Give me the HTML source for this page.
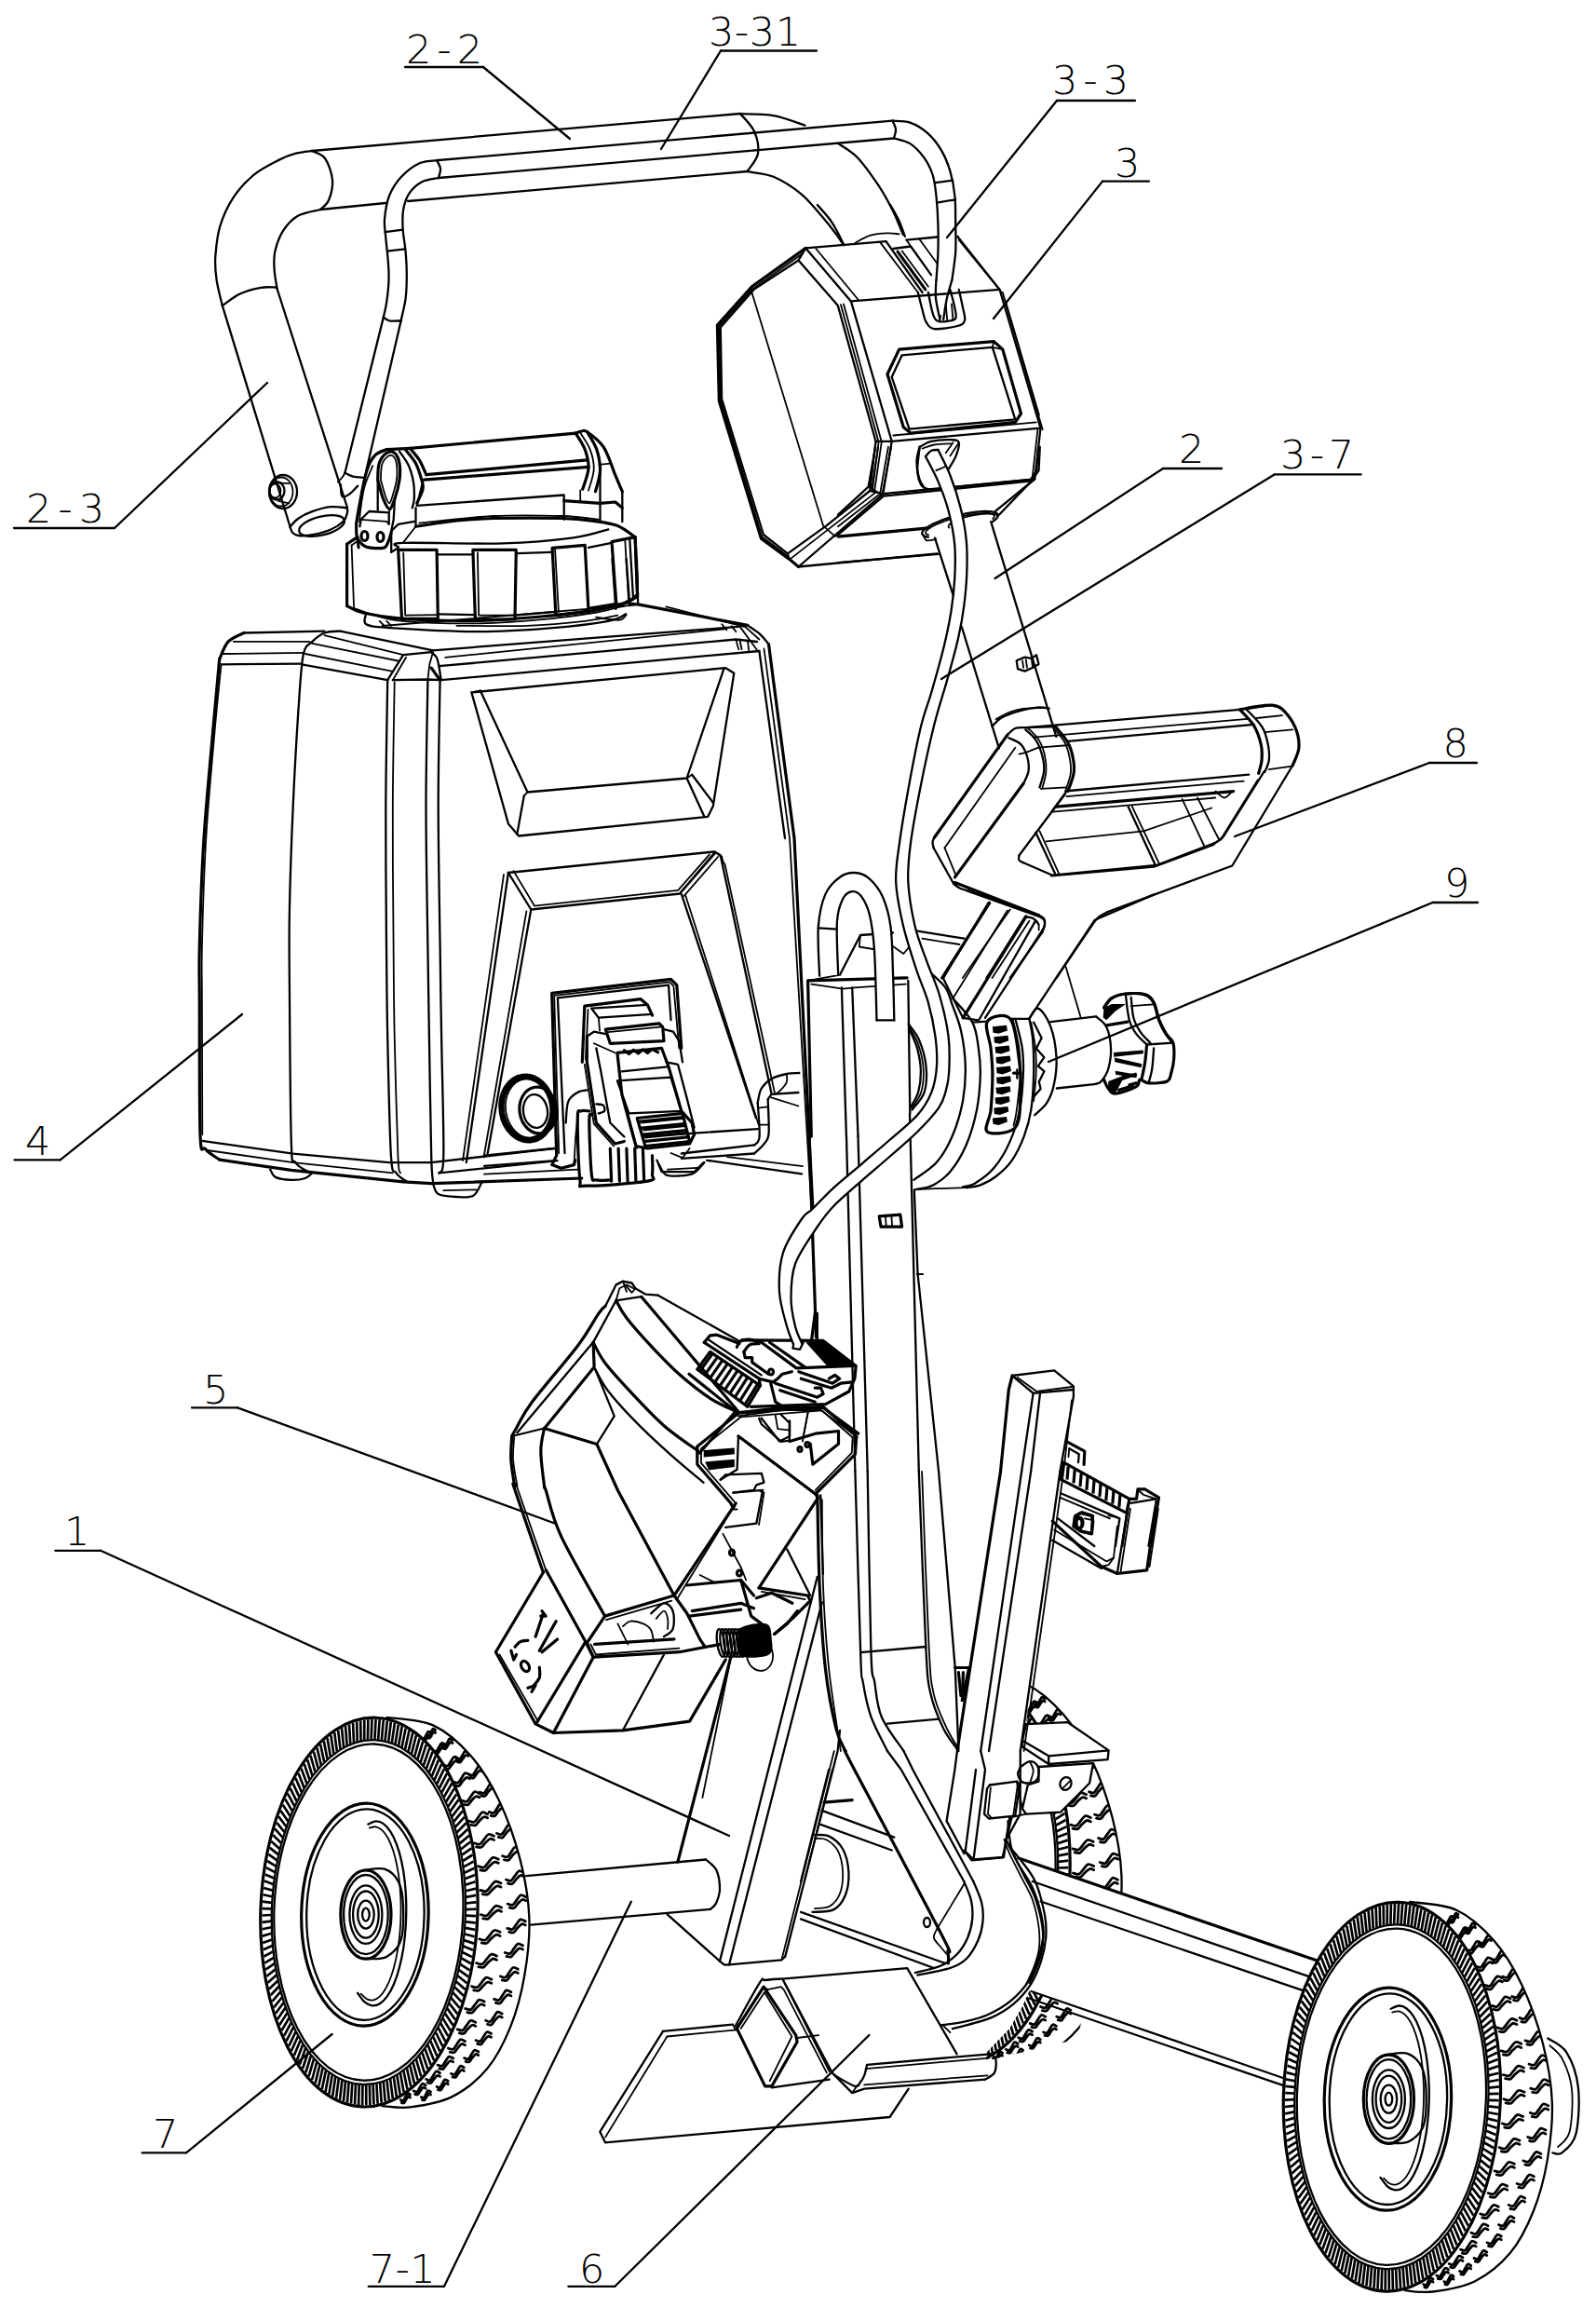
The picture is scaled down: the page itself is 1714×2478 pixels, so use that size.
<!DOCTYPE html>
<html><head><meta charset="utf-8"><title>Figure</title>
<style>
html,body{margin:0;padding:0;background:#fff;}
svg{display:block;}
.l{fill:none;stroke:#000;stroke-width:2.3;stroke-linecap:round;stroke-linejoin:round;}
.t{fill:none;stroke:#000;stroke-width:1.8;stroke-linecap:round;stroke-linejoin:round;}
.h{fill:none;stroke:#000;stroke-width:3.2;stroke-linecap:round;stroke-linejoin:round;}
.w{fill:#fff;stroke:#000;stroke-width:2;stroke-linejoin:round;}
.k{fill:#000;stroke:none;}
.r{fill:none;stroke:#000;stroke-width:2.7}
.tr{fill:none;stroke:#000;stroke-width:2.8;stroke-linecap:round}
.b{fill:none;stroke:#000;stroke-width:3.2}
text{font-family:"DejaVu Sans Light","DejaVu Sans","Liberation Sans",sans-serif;font-weight:200;font-size:43px;fill:#000;letter-spacing:6px;}
</style></head><body>
<svg width="1714" height="2478" viewBox="0 0 1714 2478">
<rect width="1714" height="2478" fill="#fff"/>
<!-- a_rearwheel.svg -->
<g id="a_rearwheel">
<clipPath id="rw"><path d="M1110.6 1780 L1214.9 1780 L1214.9 1889.2 L1190.6 1879.4 L1146.7 1849.2 L1101.9 1851.2Z M1190.6 1889.2 L1214.9 1889.2 L1214.9 2037.3 L1202.3 2031.5 L1144.8 2012 L1126.2 2005.1 L1117.5 1947.6 L1138.9 1945.7 L1170.1 1914.5 L1174 1893.1 L1187.6 1889.2Z M1105.8 2136.7 L1164.2 2160.1 L1156.5 2189.4 L1059 2212.7 L1060 2203 L1084.3 2177.7 L1098 2154.3Z"/></clipPath><g clip-path="url(#rw)">
<path d="M1051.6 1799.2 C1060.7 1731.1 1086.6 1801.1 1101.7 1808 C1116.7 1814.9 1130.1 1827.2 1141.8 1840.6 C1153.5 1853.9 1163.1 1869.8 1171.9 1888.2 C1180.6 1906.6 1189 1930 1194.4 1950.8 C1199.8 1971.7 1203.6 1992.6 1204.4 2013.5 C1205.3 2034.4 1202.8 2056.5 1199.4 2076.2 C1196.1 2095.8 1191.1 2114.6 1184.4 2131.3 C1177.7 2148 1169.8 2163.9 1159.3 2176.4 C1148.9 2188.9 1135.5 2199.6 1121.7 2206.5 C1107.9 2213.4 1089.2 2216.1 1076.6 2217.8 C1064.1 2219.4 1050.7 2286.3 1046.5 2216.5 C1042.4 2146.8 1042.4 1867.3 1051.6 1799.2Z" fill="#fff" stroke="none"/>
<path class="l" d="M1051.6 1799.2 C1059.9 1800.7 1086.6 1801.1 1101.7 1808 C1116.7 1814.9 1130.1 1827.2 1141.8 1840.6 C1153.5 1853.9 1163.1 1869.8 1171.9 1888.2 C1180.6 1906.6 1189 1930 1194.4 1950.8 C1199.8 1971.7 1203.6 1992.6 1204.4 2013.5 C1205.3 2034.4 1202.8 2056.5 1199.4 2076.2 C1196.1 2095.8 1191.1 2114.6 1184.4 2131.3 C1177.7 2148 1169.8 2163.9 1159.3 2176.4 C1148.9 2188.9 1135.5 2199.6 1121.7 2206.5 C1107.9 2213.4 1089.2 2216.1 1076.6 2217.8 C1064.1 2219.4 1051.6 2216.7 1046.5 2216.5"/>
<clipPath id="tcB"><path d="M1051.6 1799.2 C1060.7 1731.1 1086.6 1801.1 1101.7 1808 C1116.7 1814.9 1130.1 1827.2 1141.8 1840.6 C1153.5 1853.9 1163.1 1869.8 1171.9 1888.2 C1180.6 1906.6 1189 1930 1194.4 1950.8 C1199.8 1971.7 1203.6 1992.6 1204.4 2013.5 C1205.3 2034.4 1202.8 2056.5 1199.4 2076.2 C1196.1 2095.8 1191.1 2114.6 1184.4 2131.3 C1177.7 2148 1169.8 2163.9 1159.3 2176.4 C1148.9 2188.9 1135.5 2199.6 1121.7 2206.5 C1107.9 2213.4 1089.2 2216.1 1076.6 2217.8 C1064.1 2219.4 1050.7 2286.3 1046.5 2216.5 C1042.4 2146.8 1042.4 1867.3 1051.6 1799.2Z"/></clipPath>
<path class="tr" clip-path="url(#tcB)" d="M1087.6 1822.1 C1088.1 1822.3 1089.9 1823.6 1090.9 1823 C1091.8 1822.5 1092.6 1820.3 1093.4 1818.9 C1094.3 1817.5 1095 1815.2 1096 1814.7 C1097 1814.3 1098.8 1816 1099.3 1816.2M1088.8 1825.4 C1089.2 1825.5 1090.8 1826.2 1091.7 1825.7 C1092.6 1825.2 1093.2 1823.3 1094 1822.1 C1094.9 1821 1096.1 1819 1097 1818.6 C1097.8 1818.1 1098.9 1819.3 1099.3 1819.5M1100.5 1834.9 C1101.2 1835.1 1103.2 1836.5 1104.4 1835.9 C1105.6 1835.3 1106.4 1832.8 1107.5 1831.3 C1108.5 1829.8 1109.4 1827.3 1110.5 1826.8 C1111.7 1826.3 1113.8 1828.1 1114.4 1828.4M1101.9 1838.5 C1102.5 1838.5 1104.3 1839.4 1105.4 1838.8 C1106.4 1838.2 1107.1 1836.2 1108.2 1834.9 C1109.2 1833.6 1110.6 1831.5 1111.6 1831 C1112.7 1830.5 1114 1831.8 1114.4 1832M1112.3 1850.4 C1113.1 1850.6 1115.5 1852.1 1116.8 1851.4 C1118.1 1850.8 1119.1 1848.2 1120.3 1846.6 C1121.4 1844.9 1122.4 1842.2 1123.8 1841.7 C1125.1 1841.2 1127.4 1843.1 1128.2 1843.4M1113.9 1854.2 C1114.6 1854.3 1116.7 1855.2 1117.9 1854.6 C1119.1 1853.9 1119.9 1851.8 1121.1 1850.4 C1122.2 1849 1123.8 1846.7 1125 1846.2 C1126.2 1845.7 1127.7 1847.1 1128.2 1847.3M1122.9 1868.4 C1123.7 1868.6 1126.4 1870.2 1127.8 1869.5 C1129.3 1868.9 1130.4 1866.1 1131.7 1864.4 C1133 1862.6 1134.1 1859.8 1135.5 1859.2 C1137 1858.6 1139.6 1860.7 1140.4 1861M1124.7 1872.5 C1125.4 1872.5 1127.7 1873.5 1129 1872.8 C1130.4 1872.2 1131.2 1869.9 1132.5 1868.4 C1133.9 1866.9 1135.6 1864.5 1136.9 1864 C1138.2 1863.4 1139.8 1864.9 1140.4 1865.1M1132.1 1888.6 C1133 1888.8 1135.8 1890.4 1137.4 1889.7 C1138.9 1889 1140.1 1886.2 1141.5 1884.4 C1142.9 1882.7 1144.1 1879.8 1145.7 1879.2 C1147.3 1878.6 1150.1 1880.8 1151 1881.1M1134 1892.7 C1134.8 1892.8 1137.3 1893.8 1138.7 1893.1 C1140.1 1892.4 1141.1 1890.1 1142.5 1888.6 C1143.9 1887.1 1145.8 1884.6 1147.2 1884.1 C1148.6 1883.5 1150.4 1885 1151 1885.2M1139.7 1910.6 C1140.6 1910.8 1143.6 1912.4 1145.3 1911.7 C1147 1911 1148.2 1908.2 1149.7 1906.5 C1151.2 1904.7 1152.4 1901.8 1154.1 1901.2 C1155.8 1900.7 1158.8 1902.8 1159.7 1903.1M1141.7 1914.7 C1142.5 1914.8 1145.2 1915.8 1146.7 1915.1 C1148.2 1914.4 1149.2 1912.1 1150.7 1910.6 C1152.2 1909.1 1154.2 1906.7 1155.7 1906.1 C1157.2 1905.5 1159.1 1907 1159.7 1907.2M1145.6 1934.2 C1146.6 1934.4 1149.7 1936.1 1151.5 1935.4 C1153.2 1934.7 1154.5 1931.9 1156.1 1930.1 C1157.6 1928.4 1158.9 1925.4 1160.7 1924.9 C1162.4 1924.3 1165.6 1926.4 1166.6 1926.7M1147.7 1938.4 C1148.6 1938.4 1151.4 1939.4 1152.9 1938.7 C1154.5 1938.1 1155.5 1935.7 1157.1 1934.2 C1158.7 1932.7 1160.8 1930.3 1162.4 1929.7 C1163.9 1929.2 1165.9 1930.7 1166.6 1930.9M1149.7 1959.1 C1150.7 1959.3 1154 1960.9 1155.8 1960.3 C1157.6 1959.6 1159 1956.8 1160.5 1955 C1162.1 1953.3 1163.5 1950.3 1165.3 1949.8 C1167.1 1949.2 1170.4 1951.3 1171.4 1951.6M1151.9 1963.3 C1152.8 1963.3 1155.7 1964.3 1157.3 1963.6 C1158.9 1962.9 1160 1960.6 1161.6 1959.1 C1163.3 1957.6 1165.4 1955.2 1167 1954.6 C1168.7 1954.1 1170.7 1955.6 1171.4 1955.8M1152 1984.9 C1153.1 1985 1156.4 1986.7 1158.2 1986 C1160.1 1985.3 1161.5 1982.5 1163.1 1980.7 C1164.7 1979 1166.1 1976 1167.9 1975.5 C1169.8 1974.9 1173.1 1977 1174.1 1977.4M1154.2 1989 C1155.2 1989 1158.1 1990 1159.8 1989.4 C1161.4 1988.7 1162.5 1986.4 1164.2 1984.9 C1165.8 1983.4 1168 1980.9 1169.7 1980.4 C1171.3 1979.8 1173.4 1981.3 1174.1 1981.5M1152.5 2011 C1153.5 2011.2 1156.9 2012.8 1158.7 2012.2 C1160.6 2011.5 1162 2008.7 1163.6 2006.9 C1165.2 2005.2 1166.6 2002.2 1168.5 2001.7 C1170.3 2001.1 1173.7 2003.2 1174.7 2003.5M1154.7 2015.2 C1155.6 2015.2 1158.6 2016.2 1160.3 2015.5 C1161.9 2014.8 1163 2012.5 1164.7 2011 C1166.4 2009.5 1168.6 2007.1 1170.3 2006.5 C1171.9 2006 1174 2007.5 1174.7 2007.7M1151 2037.2 C1152.1 2037.4 1155.4 2039 1157.2 2038.4 C1159.1 2037.7 1160.5 2034.9 1162.1 2033.1 C1163.8 2031.4 1165.2 2028.4 1167 2027.9 C1168.9 2027.3 1172.2 2029.4 1173.2 2029.7M1153.3 2041.4 C1154.2 2041.4 1157.1 2042.4 1158.8 2041.7 C1160.5 2041 1161.6 2038.7 1163.2 2037.2 C1164.9 2035.7 1167.1 2033.3 1168.8 2032.7 C1170.4 2032.2 1172.5 2033.7 1173.2 2033.9M1147.7 2063 C1148.8 2063.2 1152 2064.9 1153.9 2064.2 C1155.7 2063.5 1157.1 2060.7 1158.7 2058.9 C1160.3 2057.2 1161.7 2054.2 1163.5 2053.7 C1165.3 2053.1 1168.6 2055.2 1169.6 2055.5M1149.9 2067.2 C1150.8 2067.2 1153.8 2068.2 1155.4 2067.5 C1157 2066.9 1158.1 2064.5 1159.8 2063 C1161.4 2061.5 1163.6 2059.1 1165.2 2058.5 C1166.9 2058 1168.9 2059.5 1169.6 2059.7M1142.7 2088.1 C1143.7 2088.3 1146.8 2089.9 1148.6 2089.2 C1150.4 2088.5 1151.7 2085.7 1153.3 2083.9 C1154.9 2082.2 1156.2 2079.3 1158 2078.7 C1159.8 2078.1 1163 2080.3 1164 2080.6M1144.8 2092.2 C1145.7 2092.3 1148.5 2093.3 1150.1 2092.6 C1151.7 2091.9 1152.8 2089.6 1154.4 2088.1 C1156 2086.6 1158.1 2084.1 1159.7 2083.6 C1161.3 2083 1163.3 2084.5 1164 2084.7M1135.8 2111.9 C1136.8 2112.1 1139.9 2113.7 1141.6 2113 C1143.3 2112.3 1144.6 2109.5 1146.1 2107.8 C1147.6 2106 1148.9 2103.1 1150.6 2102.5 C1152.3 2102 1155.4 2104.1 1156.3 2104.4M1137.9 2116 C1138.7 2116.1 1141.5 2117.1 1143 2116.4 C1144.6 2115.7 1145.6 2113.4 1147.1 2111.9 C1148.7 2110.4 1150.7 2108 1152.2 2107.4 C1153.8 2106.8 1155.7 2108.3 1156.3 2108.5M1127.4 2134.2 C1128.3 2134.4 1131.2 2136 1132.9 2135.3 C1134.5 2134.6 1135.7 2131.8 1137.1 2130 C1138.6 2128.3 1139.8 2125.4 1141.4 2124.8 C1143 2124.2 1146 2126.4 1146.9 2126.7M1129.4 2138.3 C1130.2 2138.4 1132.8 2139.4 1134.2 2138.7 C1135.7 2138 1136.6 2135.7 1138.1 2134.2 C1139.6 2132.7 1141.5 2130.2 1143 2129.7 C1144.4 2129.1 1146.2 2130.6 1146.9 2130.8M1117.5 2154.5 C1118.3 2154.7 1121.1 2156.3 1122.6 2155.7 C1124.1 2155 1125.2 2152.2 1126.6 2150.4 C1127.9 2148.7 1129 2145.7 1130.6 2145.2 C1132.1 2144.6 1134.8 2146.7 1135.6 2147M1119.3 2158.7 C1120.1 2158.7 1122.5 2159.7 1123.8 2159 C1125.2 2158.3 1126.1 2156 1127.5 2154.5 C1128.8 2153 1130.7 2150.6 1132 2150 C1133.4 2149.5 1135 2151 1135.6 2151.2M1106.2 2172.5 C1107 2172.6 1109.5 2174.2 1110.9 2173.5 C1112.3 2172.9 1113.3 2170.2 1114.5 2168.5 C1115.8 2166.9 1116.8 2164.1 1118.2 2163.5 C1119.6 2163 1122.1 2165 1122.8 2165.3M1107.9 2176.4 C1108.6 2176.5 1110.8 2177.4 1112 2176.8 C1113.3 2176.1 1114.1 2173.9 1115.4 2172.5 C1116.6 2171 1118.3 2168.7 1119.5 2168.2 C1120.8 2167.6 1122.3 2169.1 1122.8 2169.2M1093.8 2187.8 C1094.5 2188 1096.7 2189.4 1098 2188.8 C1099.2 2188.2 1100.1 2185.7 1101.2 2184.1 C1102.3 2182.6 1103.2 2179.9 1104.5 2179.4 C1105.7 2178.9 1107.9 2180.8 1108.6 2181.1M1095.3 2191.5 C1095.9 2191.6 1097.9 2192.5 1099 2191.8 C1100.1 2191.2 1100.9 2189.2 1102 2187.8 C1103.1 2186.5 1104.6 2184.3 1105.7 2183.8 C1106.8 2183.3 1108.1 2184.6 1108.6 2184.8M1080.4 2200.4 C1081 2200.5 1082.9 2201.9 1084 2201.3 C1085.1 2200.7 1085.9 2198.4 1086.8 2197 C1087.7 2195.5 1088.5 2193.1 1089.6 2192.6 C1090.7 2192.2 1092.6 2193.9 1093.2 2194.2M1081.7 2203.8 C1082.2 2203.8 1083.9 2204.6 1084.9 2204.1 C1085.8 2203.5 1086.5 2201.6 1087.4 2200.4 C1088.4 2199.1 1089.7 2197.1 1090.6 2196.7 C1091.6 2196.2 1092.7 2197.4 1093.2 2197.6M1066.3 2209.9 C1066.7 2210 1068.3 2211.3 1069.2 2210.7 C1070 2210.2 1070.7 2208.1 1071.4 2206.8 C1072.2 2205.5 1072.9 2203.3 1073.7 2202.9 C1074.6 2202.5 1076.1 2204.1 1076.6 2204.3M1067.3 2213 C1067.7 2213 1069.1 2213.8 1069.9 2213.3 C1070.7 2212.7 1071.2 2211 1072 2209.9 C1072.7 2208.8 1073.8 2207 1074.5 2206.5 C1075.3 2206.1 1076.3 2207.2 1076.6 2207.4M1094.4 1818.2 C1094.9 1818.4 1096.2 1819.5 1097 1819 C1097.8 1818.6 1098.3 1816.6 1099 1815.3 C1099.7 1814.1 1100.3 1812 1101 1811.6 C1101.8 1811.2 1103.2 1812.7 1103.6 1812.9M1095.3 1821.2 C1095.7 1821.2 1097 1821.9 1097.6 1821.4 C1098.3 1820.9 1098.8 1819.3 1099.5 1818.2 C1100.2 1817.2 1101.1 1815.5 1101.8 1815.1 C1102.5 1814.7 1103.3 1815.7 1103.6 1815.9M1110.9 1829.5 C1111.4 1829.6 1113.1 1830.9 1114 1830.4 C1115 1829.8 1115.7 1827.7 1116.5 1826.3 C1117.3 1824.9 1118.1 1822.7 1119 1822.2 C1119.9 1821.8 1121.6 1823.4 1122.1 1823.7M1112 1832.7 C1112.5 1832.7 1114 1833.5 1114.8 1833 C1115.7 1832.5 1116.2 1830.7 1117.1 1829.5 C1117.9 1828.3 1119.1 1826.4 1119.9 1826 C1120.7 1825.6 1121.8 1826.7 1122.1 1826.9M1126 1843.6 C1126.6 1843.8 1128.5 1845.1 1129.6 1844.6 C1130.7 1844 1131.5 1841.6 1132.5 1840.2 C1133.5 1838.7 1134.3 1836.3 1135.4 1835.8 C1136.5 1835.3 1138.4 1837.1 1139 1837.4M1127.3 1847.1 C1127.8 1847.1 1129.6 1847.9 1130.5 1847.4 C1131.5 1846.8 1132.2 1844.9 1133.1 1843.6 C1134.1 1842.4 1135.4 1840.3 1136.4 1839.9 C1137.4 1839.4 1138.6 1840.6 1139 1840.8M1139.5 1860.4 C1140.2 1860.5 1142.4 1862 1143.6 1861.4 C1144.8 1860.8 1145.8 1858.3 1146.8 1856.7 C1147.9 1855.2 1148.8 1852.6 1150 1852.1 C1151.3 1851.6 1153.5 1853.5 1154.1 1853.7M1141 1864 C1141.6 1864.1 1143.5 1865 1144.6 1864.4 C1145.7 1863.8 1146.5 1861.7 1147.6 1860.4 C1148.7 1859.1 1150.1 1856.9 1151.2 1856.4 C1152.3 1855.9 1153.7 1857.2 1154.1 1857.4M1151.4 1879.5 C1152.1 1879.7 1154.5 1881.2 1155.9 1880.6 C1157.2 1879.9 1158.2 1877.3 1159.4 1875.7 C1160.5 1874.1 1161.6 1871.3 1162.9 1870.8 C1164.2 1870.3 1166.6 1872.3 1167.3 1872.6M1153 1883.4 C1153.7 1883.4 1155.8 1884.4 1157 1883.7 C1158.2 1883.1 1159 1880.9 1160.2 1879.5 C1161.4 1878.1 1163 1875.9 1164.2 1875.3 C1165.4 1874.8 1166.8 1876.2 1167.3 1876.4M1161.4 1900.8 C1162.2 1901 1164.8 1902.5 1166.2 1901.9 C1167.7 1901.2 1168.7 1898.5 1170 1896.8 C1171.2 1895.1 1172.3 1892.2 1173.7 1891.7 C1175.2 1891.2 1177.7 1893.2 1178.5 1893.5M1163.2 1904.8 C1163.9 1904.9 1166.1 1905.8 1167.4 1905.2 C1168.7 1904.5 1169.6 1902.2 1170.8 1900.8 C1172.1 1899.3 1173.8 1897 1175.1 1896.4 C1176.4 1895.9 1178 1897.3 1178.5 1897.5M1169.6 1923.8 C1170.4 1924 1173.1 1925.6 1174.6 1924.9 C1176.1 1924.2 1177.2 1921.4 1178.6 1919.7 C1179.9 1917.9 1181 1915 1182.5 1914.4 C1184 1913.9 1186.7 1916 1187.5 1916.3M1171.4 1927.9 C1172.1 1928 1174.5 1929 1175.9 1928.3 C1177.2 1927.6 1178.1 1925.3 1179.5 1923.8 C1180.8 1922.3 1182.6 1919.9 1183.9 1919.3 C1185.3 1918.7 1186.9 1920.2 1187.5 1920.4M1175.6 1948.1 C1176.5 1948.3 1179.3 1949.9 1180.9 1949.2 C1182.4 1948.6 1183.6 1945.7 1185 1944 C1186.3 1942.2 1187.5 1939.3 1189.1 1938.7 C1190.6 1938.2 1193.4 1940.3 1194.3 1940.6M1177.5 1952.2 C1178.3 1952.3 1180.8 1953.3 1182.2 1952.6 C1183.6 1951.9 1184.5 1949.6 1185.9 1948.1 C1187.3 1946.6 1189.2 1944.2 1190.6 1943.6 C1192 1943.1 1193.7 1944.6 1194.3 1944.7M1179.6 1973.5 C1180.5 1973.7 1183.3 1975.3 1184.9 1974.6 C1186.5 1973.9 1187.7 1971.1 1189.1 1969.3 C1190.6 1967.6 1191.8 1964.7 1193.4 1964.1 C1195 1963.5 1197.8 1965.7 1198.7 1966M1181.5 1977.6 C1182.3 1977.7 1184.8 1978.7 1186.3 1978 C1187.7 1977.3 1188.7 1975 1190.1 1973.5 C1191.5 1972 1193.5 1969.5 1194.9 1969 C1196.3 1968.4 1198.1 1969.9 1198.7 1970.1M1181.3 1999.5 C1182.2 1999.7 1185.2 2001.3 1186.8 2000.6 C1188.4 1999.9 1189.6 1997.1 1191 1995.4 C1192.5 1993.6 1193.7 1990.7 1195.3 1990.1 C1196.9 1989.5 1199.8 1991.7 1200.8 1992M1183.3 2003.6 C1184.1 2003.7 1186.7 2004.7 1188.1 2004 C1189.6 2003.3 1190.6 2001 1192 1999.5 C1193.5 1998 1195.4 1995.5 1196.9 1995 C1198.3 1994.4 1200.1 1995.9 1200.8 1996.1M1180.9 2025.7 C1181.8 2025.9 1184.7 2027.5 1186.4 2026.8 C1188 2026.2 1189.2 2023.3 1190.6 2021.6 C1192.1 2019.8 1193.3 2016.9 1194.9 2016.3 C1196.5 2015.8 1199.5 2017.9 1200.4 2018.2M1182.9 2029.8 C1183.7 2029.9 1186.3 2030.9 1187.7 2030.2 C1189.2 2029.5 1190.2 2027.2 1191.6 2025.7 C1193.1 2024.2 1195 2021.8 1196.5 2021.2 C1197.9 2020.7 1199.7 2022.2 1200.4 2022.3M1178.3 2051.8 C1179.2 2052 1182.1 2053.6 1183.7 2052.9 C1185.3 2052.2 1186.5 2049.4 1187.9 2047.6 C1189.4 2045.9 1190.6 2043 1192.2 2042.4 C1193.8 2041.8 1196.7 2044 1197.6 2044.3M1180.2 2055.9 C1181 2056 1183.6 2057 1185 2056.3 C1186.5 2055.6 1187.5 2053.3 1188.9 2051.8 C1190.4 2050.3 1192.3 2047.8 1193.7 2047.3 C1195.2 2046.7 1196.9 2048.2 1197.6 2048.4M1173.5 2077.2 C1174.4 2077.4 1177.2 2079.1 1178.8 2078.4 C1180.4 2077.7 1181.6 2074.9 1183 2073.1 C1184.4 2071.4 1185.6 2068.4 1187.1 2067.9 C1188.7 2067.3 1191.6 2069.4 1192.4 2069.7M1175.4 2081.4 C1176.2 2081.4 1178.7 2082.4 1180.1 2081.7 C1181.6 2081.1 1182.5 2078.7 1183.9 2077.2 C1185.3 2075.7 1187.2 2073.3 1188.7 2072.7 C1190.1 2072.2 1191.8 2073.7 1192.4 2073.9M1166.7 2101.7 C1167.5 2101.9 1170.3 2103.5 1171.8 2102.8 C1173.3 2102.2 1174.5 2099.3 1175.8 2097.6 C1177.2 2095.8 1178.3 2092.9 1179.9 2092.3 C1181.4 2091.8 1184.1 2093.9 1185 2094.2M1168.5 2105.8 C1169.3 2105.9 1171.7 2106.9 1173.1 2106.2 C1174.5 2105.5 1175.4 2103.2 1176.7 2101.7 C1178.1 2100.2 1180 2097.8 1181.3 2097.2 C1182.7 2096.7 1184.4 2098.2 1185 2098.3M1157.8 2124.7 C1158.6 2124.9 1161.3 2126.5 1162.7 2125.9 C1164.2 2125.2 1165.3 2122.4 1166.6 2120.7 C1167.9 2119 1169 2116.1 1170.4 2115.5 C1171.9 2115 1174.5 2117.1 1175.3 2117.4M1159.6 2128.8 C1160.3 2128.9 1162.6 2129.9 1164 2129.2 C1165.3 2128.5 1166.1 2126.2 1167.5 2124.7 C1168.8 2123.3 1170.5 2120.9 1171.8 2120.3 C1173.1 2119.8 1174.8 2121.2 1175.3 2121.4M1147.1 2146 C1147.9 2146.1 1150.4 2147.7 1151.7 2147 C1153.1 2146.4 1154.1 2143.7 1155.4 2142 C1156.6 2140.4 1157.6 2137.6 1159 2137.1 C1160.4 2136.5 1162.8 2138.5 1163.6 2138.8M1148.8 2149.9 C1149.4 2149.9 1151.6 2150.9 1152.9 2150.2 C1154.1 2149.6 1154.9 2147.4 1156.2 2146 C1157.4 2144.5 1159.1 2142.2 1160.3 2141.7 C1161.5 2141.2 1163 2142.6 1163.6 2142.8M1134.7 2165.1 C1135.4 2165.2 1137.7 2166.7 1138.9 2166.1 C1140.2 2165.5 1141.2 2162.9 1142.3 2161.3 C1143.4 2159.7 1144.4 2157.1 1145.6 2156.6 C1146.9 2156 1149.2 2158 1149.9 2158.3M1136.2 2168.8 C1136.8 2168.9 1138.9 2169.8 1140 2169.2 C1141.1 2168.5 1141.9 2166.4 1143 2165.1 C1144.2 2163.7 1145.7 2161.5 1146.9 2161 C1148 2160.5 1149.4 2161.8 1149.9 2162M1120.6 2181.8 C1121.3 2181.9 1123.3 2183.3 1124.5 2182.7 C1125.6 2182.1 1126.5 2179.7 1127.5 2178.2 C1128.5 2176.7 1129.4 2174.2 1130.6 2173.7 C1131.7 2173.2 1133.8 2175.1 1134.4 2175.3M1122 2185.3 C1122.6 2185.4 1124.4 2186.2 1125.5 2185.6 C1126.5 2185 1127.2 2183.1 1128.2 2181.8 C1129.2 2180.5 1130.6 2178.4 1131.7 2177.9 C1132.7 2177.4 1133.9 2178.7 1134.4 2178.9M1105.2 2195.8 C1105.8 2195.9 1107.6 2197.2 1108.6 2196.7 C1109.6 2196.1 1110.3 2193.9 1111.2 2192.5 C1112.1 2191.1 1112.9 2188.7 1113.9 2188.3 C1114.9 2187.8 1116.7 2189.5 1117.3 2189.8M1106.4 2199.1 C1106.9 2199.1 1108.5 2199.9 1109.4 2199.4 C1110.3 2198.8 1110.9 2197 1111.8 2195.8 C1112.7 2194.6 1114 2192.6 1114.9 2192.2 C1115.8 2191.7 1116.9 2192.9 1117.3 2193.1M1088.5 2206.9 C1089 2207 1090.5 2208.2 1091.3 2207.7 C1092.2 2207.2 1092.8 2205.1 1093.6 2203.8 C1094.3 2202.5 1095 2200.4 1095.8 2200 C1096.6 2199.5 1098.2 2201.1 1098.6 2201.3M1089.5 2209.9 C1089.9 2210 1091.3 2210.7 1092 2210.2 C1092.8 2209.7 1093.3 2208 1094.1 2206.9 C1094.8 2205.8 1095.9 2204 1096.6 2203.6 C1097.4 2203.1 1098.3 2204.3 1098.6 2204.4"/>
<ellipse cx="1032.5" cy="2008.5" rx="116.5" ry="209" transform="rotate(2 1032.5 2008.5)" fill="#fff" stroke="none"/>
<ellipse class="h" cx="1032.5" cy="2008.5" rx="116.5" ry="209" transform="rotate(2 1032.5 2008.5)"/>
<ellipse class="l" cx="1032" cy="2008.5" rx="104" ry="185" transform="rotate(2 1032 2008.5)"/>
<ellipse class="l" cx="1032" cy="2008.5" rx="101.5" ry="180.7" transform="rotate(2 1032 2008.5)"/>
<path class="r" d="M1147.2 2012.5L1136.5 2012.1M1146.9 2019.9L1136.2 2018.7M1146.4 2027.3L1135.7 2025.3M1145.8 2034.6L1135.2 2031.9M1145 2042L1134.5 2038.5M1144.1 2049.2L1133.6 2045M1143.1 2056.5L1132.7 2051.4M1141.9 2063.6L1131.6 2057.8M1140.5 2070.7L1130.4 2064.2M1139.1 2077.7L1129.1 2070.5M1137.5 2084.7L1127.6 2076.7M1135.7 2091.5L1126 2082.8M1133.9 2098.2L1124.3 2088.8M1131.9 2104.8L1122.5 2094.7M1129.7 2111.3L1120.6 2100.5M1127.5 2117.7L1118.5 2106.2M1125.1 2123.9L1116.4 2111.8M1122.6 2130L1114.1 2117.2M1120 2135.9L1111.7 2122.5M1117.3 2141.6L1109.3 2127.6M1114.5 2147.2L1106.7 2132.6M1111.5 2152.6L1104 2137.4M1108.5 2157.9L1101.3 2142.1M1105.4 2162.9L1098.4 2146.6M1102.2 2167.7L1095.5 2150.9M1098.9 2172.4L1092.5 2155.1M1095.5 2176.8L1089.4 2159M1092 2181L1086.3 2162.8M1088.4 2185L1083 2166.4M1084.8 2188.8L1079.7 2169.7M1081.1 2192.3L1076.4 2172.9M1077.4 2195.6L1073 2175.9M1073.6 2198.7L1069.5 2178.6M1069.7 2201.5L1066 2181.1M1065.8 2204.1L1062.4 2183.4M1061.9 2206.4L1058.9 2185.5M1057.9 2208.5L1055.2 2187.3M1053.9 2210.3L1051.6 2189M1049.8 2211.8L1047.9 2190.4M1045.8 2213.1L1044.2 2191.5M1041.7 2214.2L1040.5 2192.5M1037.6 2215L1036.7 2193.2M1033.5 2215.5L1033 2193.6M1029.4 2215.7L1029.3 2193.8M1025.3 2215.7L1025.5 2193.8M1021.2 2215.4L1021.8 2193.6M1017.1 2214.9L1018.1 2193.1M1013.1 2214.1L1014.4 2192.4M1009 2213L1010.7 2191.4M1005 2211.7L1007.1 2190.2M1001.1 2210.1L1003.5 2188.8M997.1 2208.3L999.9 2187.2M993.2 2206.2L996.4 2185.3M989.4 2203.8L992.9 2183.2M985.6 2201.3L989.4 2180.9M981.9 2198.4L986.1 2178.3M978.3 2195.3L982.7 2175.6M974.7 2192L979.5 2172.6M971.2 2188.4L976.3 2169.4M967.7 2184.7L973.1 2166M964.4 2180.7L970.1 2162.4M961.1 2176.4L967.1 2158.6M958 2172L964.2 2154.7M954.9 2167.3L961.4 2150.5M951.9 2162.5L958.7 2146.2M949 2157.4L956.1 2141.6M946.3 2152.2L953.6 2137M943.6 2146.8L951.2 2132.1M941.1 2141.2L948.8 2127.1M938.6 2135.4L946.6 2121.9M936.3 2129.5L944.5 2116.6M934.1 2123.4L942.5 2111.2M932.1 2117.2L940.6 2105.6M930.2 2110.8L938.9 2099.9M928.4 2104.3L937.2 2094.1M926.7 2097.7L935.7 2088.2M925.1 2090.9L934.3 2082.2M923.7 2084.1L933 2076M922.5 2077.2L931.9 2069.8M921.4 2070.1L930.9 2063.5M920.4 2063L930 2057.2M919.6 2055.9L929.2 2050.8M918.9 2048.6L928.6 2044.3M918.3 2041.3L928.1 2037.8M917.9 2034L927.7 2031.2M917.7 2026.7L927.5 2024.7M917.6 2019.3L927.4 2018.1M917.6 2011.9L927.4 2011.4M917.8 2004.5L927.6 2004.8M918.1 1997.1L927.9 1998.2M918.6 1989.7L928.3 1991.6M919.2 1982.4L928.9 1985M920 1975L929.5 1978.5M920.9 1967.8L930.4 1972M921.9 1960.5L931.3 1965.5M923.1 1953.4L932.4 1959.1M924.5 1946.3L933.6 1952.8M925.9 1939.3L934.9 1946.5M927.5 1932.3L936.4 1940.3M929.3 1925.5L938 1934.2M931.2 1918.8L939.7 1928.2M933.2 1912.2L941.5 1922.2M935.3 1905.7L943.4 1916.4M937.5 1899.3L945.5 1910.8M939.9 1893.1L947.6 1905.2M942.4 1887L949.9 1899.8M945 1881.1L952.3 1894.5M947.7 1875.3L954.7 1889.3M950.5 1869.8L957.3 1884.3M953.5 1864.4L960 1879.5M956.5 1859.1L962.7 1874.8M959.6 1854.1L965.6 1870.3M962.8 1849.3L968.5 1866M966.2 1844.6L971.5 1861.9M969.6 1840.2L974.6 1857.9M973 1836L977.8 1854.1M976.6 1832L981 1850.6M980.2 1828.2L984.3 1847.2M983.9 1824.7L987.6 1844M987.6 1821.4L991 1841.1M991.4 1818.3L994.5 1838.4M995.3 1815.5L998 1835.8M999.2 1812.9L1001.6 1833.5M1003.1 1810.6L1005.2 1831.5M1007.1 1808.5L1008.8 1829.6M1011.1 1806.7L1012.4 1828M1015.2 1805.2L1016.1 1826.6M1019.3 1803.9L1019.8 1825.4M1023.3 1802.8L1023.6 1824.5M1027.4 1802L1027.3 1823.8M1031.5 1801.5L1031 1823.3M1035.6 1801.3L1034.7 1823.1M1039.7 1801.3L1038.5 1823.1M1043.8 1801.5L1042.2 1823.4M1047.9 1802.1L1045.9 1823.9M1052 1802.9L1049.6 1824.6M1056 1803.9L1053.3 1825.5M1060 1805.3L1056.9 1826.7M1064 1806.9L1060.5 1828.1M1067.9 1808.7L1064.1 1829.8M1071.8 1810.8L1067.6 1831.7M1075.6 1813.1L1071.1 1833.8M1079.4 1815.7L1074.6 1836.1M1083.1 1818.6L1078 1838.6M1086.7 1821.7L1081.3 1841.4M1090.3 1825L1084.5 1844.4M1093.8 1828.5L1087.7 1847.5M1097.3 1832.3L1090.9 1850.9M1100.6 1836.3L1093.9 1854.5M1103.9 1840.6L1096.9 1858.3M1107.1 1845L1099.8 1862.3M1110.1 1849.7L1102.6 1866.4M1113.1 1854.5L1105.3 1870.8M1116 1859.6L1107.9 1875.3M1118.7 1864.8L1110.4 1880M1121.4 1870.2L1112.9 1884.8M1123.9 1875.8L1115.2 1889.9M1126.4 1881.6L1117.4 1895M1128.7 1887.5L1119.5 1900.3M1130.9 1893.6L1121.5 1905.8M1132.9 1899.8L1123.4 1911.3M1134.9 1906.2L1125.1 1917M1136.7 1912.7L1126.8 1922.8M1138.3 1919.3L1128.3 1928.8M1139.9 1926.1L1129.7 1934.8M1141.3 1932.9L1131 1940.9M1142.5 1939.8L1132.1 1947.1M1143.6 1946.9L1133.2 1953.4M1144.6 1954L1134 1959.8M1145.5 1961.1L1134.8 1966.2M1146.1 1968.4L1135.4 1972.6M1146.7 1975.6L1135.9 1979.2M1147.1 1983L1136.3 1985.7M1147.3 1990.3L1136.5 1992.3M1147.5 1997.7L1136.7 1998.9M1147.4 2005.1L1136.6 2005.5"/>
<ellipse class="h" cx="1028" cy="2011" rx="68.2" ry="119.5" transform="rotate(1 1028 2011)"/>
<ellipse class="l" cx="1028.5" cy="2011" rx="63.2" ry="113.3" transform="rotate(1 1028.5 2011)"/>
<path class="l" d="M1031.4 1914 C1032.8 1913.4 1037 1910.9 1039.7 1910.8 C1042.4 1910.7 1045.3 1911.6 1047.9 1913.5 C1050.5 1915.4 1053.1 1918.3 1055.5 1922 C1057.9 1925.7 1060.2 1930.4 1062.1 1935.7 C1064.1 1941 1065.9 1947.3 1067.3 1953.9 C1068.8 1960.5 1070 1967.9 1070.8 1975.4 C1071.6 1983 1072.2 1991.1 1072.3 1999 C1072.5 2007 1072.3 2015.3 1071.8 2023.3 C1071.3 2031.2 1070.5 2039.2 1069.4 2046.7 C1068.2 2054.1 1066.7 2061.4 1065 2067.9 C1063.3 2074.4 1061.3 2080.5 1059.1 2085.6 C1056.9 2090.8 1054.5 2095.3 1051.9 2098.8 C1049.4 2102.3 1046.7 2105 1044 2106.6 C1041.3 2108.3 1038.4 2109 1035.7 2108.7 C1033 2108.3 1030.2 2107 1027.6 2104.8 C1025 2102.5 1021.4 2096.8 1020.1 2095.2"/>
<path class="t" d="M1032.9 1917.9 C1034.1 1917.7 1037.6 1916.3 1039.8 1916.7 C1042.1 1917.2 1044.5 1918.5 1046.6 1920.5 C1048.8 1922.6 1050.9 1925.5 1052.9 1929.1 C1054.8 1932.6 1056.6 1937 1058.2 1941.9 C1059.8 1946.8 1061.3 1952.4 1062.4 1958.4 C1063.6 1964.3 1064.6 1970.9 1065.3 1977.6 C1065.9 1984.3 1066.4 1991.4 1066.6 1998.5 C1066.7 2005.6 1066.6 2012.9 1066.3 2020 C1065.9 2027.1 1065.2 2034.3 1064.4 2041 C1063.5 2047.7 1062.3 2054.3 1061 2060.3 C1059.7 2066.3 1058.1 2071.9 1056.3 2076.9 C1054.6 2081.8 1052.6 2086.3 1050.6 2089.9 C1048.6 2093.6 1046.4 2096.6 1044.1 2098.7 C1041.9 2100.8 1039.6 2102.2 1037.3 2102.7 C1035 2103.2 1032.6 2102.9 1030.3 2101.8 C1028.1 2100.7 1024.8 2097 1023.7 2096"/>
<path class="l" d="M1026.5 1963.4 C1030.3 1963.2 1042.8 1960 1049.1 1962.1 C1055.3 1964.2 1060.7 1969.4 1064.1 1975.9 C1067.4 1982.4 1068.7 1990.5 1069.1 2001 C1069.5 2011.4 1069.5 2029.4 1066.6 2038.6 C1063.7 2047.8 1057.4 2052.8 1051.6 2056.1 C1045.7 2059.5 1034.8 2058.2 1031.5 2058.6"/>
<ellipse class="h" cx="1029" cy="2011" rx="27.1" ry="47.6"/>
<ellipse class="l" cx="1029" cy="2011" rx="23.8" ry="42.6"/>
<ellipse class="l" cx="1029" cy="2011" rx="17.5" ry="31.3"/>
<ellipse class="l" cx="1029" cy="2011" rx="13.8" ry="25.1"/>
<ellipse class="l" cx="1029" cy="2011" rx="8.8" ry="15"/>
<ellipse class="l" cx="1029" cy="2011" rx="3.8" ry="7"/>
</g>
</g>
<!-- b_handle.svg -->
<g id="b_handle">
<path class="l" d="M795 122 L335 162"/>
<path class="l" d="M335 162 C332.1 162.4 323.6 163.1 317.8 164.7 C312 166.2 307.8 167.6 300.3 171.4 C292.7 175.3 281 180.8 272.7 187.7 C264.3 194.6 256.2 203.6 250.1 212.8 C244.1 222 239.5 232.4 236.3 242.9 C233.2 253.3 232 265.8 231.3 275.4 C230.7 285 231.3 291.7 232.6 300.5 C233.8 309.3 237.8 323.5 238.8 328.1"/>
<path class="l" d="M238.8 328.1 L311.5 565.5"/>
<path class="l" d="M335 162 C337.3 163.3 345.3 164.8 349 170 C352.7 175.2 356.3 185.5 357 193 C357.7 200.5 355.2 209.7 353 215 C350.8 220.3 345.5 223.3 344 225"/>
<path class="l" d="M344 225 L414 218"/>
<path class="l" d="M438 216 L802.5 184"/>
<path class="l" d="M344 225 C340.1 226.1 327 227.8 320.3 231.6 C313.6 235.4 308.2 241.4 304 247.9 C299.8 254.3 296.8 263.3 295.2 270.4 C293.7 277.5 294.3 283.8 294.7 290.5 C295.2 297.2 297.2 307.2 297.7 310.5"/>
<path class="l" d="M297.7 310.5 L373 545"/>
<path class="l" d="M238.8 328.1 C242 326 250.8 318.8 257.6 315.5 C264.5 312.3 273.7 309.9 280.2 308.8 C286.7 307.6 293.8 308.6 296.5 308.5"/>
<path class="l" d="M311.5 565.5 C311.9 566.5 312.6 570.1 314 571.7 C315.5 573.3 316.8 574.6 320.3 575 C323.9 575.4 329.5 575.3 335.3 574.2 C341.2 573.1 349.7 571 355.4 568.5 C361 566 366.2 562.2 369.2 559.2 C372.1 556.2 372.3 552.7 372.9 550.4 C373.6 548.1 372.9 546.2 372.9 545.4"/>
<path class="l" d="M311.5 565.5 C313 564 316.3 559.4 320.3 556.7 C324.3 554 329.5 551.3 335.3 549.2 C341.2 547.1 349.1 544.8 355.4 544.2 C361.7 543.5 370 545.2 372.9 545.4"/>
<ellipse class="l" cx="345.5" cy="564.5" rx="25" ry="10" transform="rotate(-14 345.5 564.5)"/>
<ellipse class="l" cx="304" cy="528" rx="15" ry="18"/>
<ellipse class="t" cx="302" cy="528" rx="12.5" ry="15.5"/>
<ellipse class="l" cx="297.5" cy="527" rx="8" ry="9.5"/>
<ellipse class="t" cx="295.5" cy="527" rx="6" ry="7.5"/>
<path class="t" d="M297.7 518.3 L310.3 519.1"/>
<path class="t" d="M299 537.9 L310.3 540.4"/>
<path class="l" d="M471 172 L958.5 129.7"/>
<path class="l" d="M471 191 L960 148.5"/>
<path class="l" d="M469 172 C469.7 173.5 472.7 177.8 473 181 C473.3 184.2 471.3 189.3 471 191"/>
<path class="l" d="M471 172 C467.6 172.5 457.4 172.2 450.6 175.2 C443.9 178.2 436 184.4 430.6 190.2 C425.1 196.1 421 202.8 418 210.3 C415.1 217.8 413.7 227.8 413 235.3 C412.4 242.9 413.7 247.9 414.3 255.4 C414.9 262.9 416.2 272.9 416.8 280.5 C417.3 288 417.8 293 417.5 300.5 C417.3 308 416 318.9 415 325.6 C414.1 332.2 412.3 338.1 411.8 340.6"/>
<path class="l" d="M471 191 C468 191.7 458.4 192.4 453.1 195.2 C447.9 198 442.7 202.8 439.3 207.8 C436 212.8 434.2 219 433.1 225.3 C432 231.6 432.2 237.8 432.6 245.4 C433 252.9 434.9 262.1 435.6 270.4 C436.3 278.8 436.8 287.1 436.8 295.5 C436.8 303.8 436.6 312.4 435.6 320.6 C434.5 328.7 431.4 340.4 430.6 344.4"/>
<path class="l" d="M413.5 249.1 L432.6 246.6"/>
<path class="l" d="M416 269.7 L435.1 267.4"/>
<path class="l" d="M411.8 340.6 C412.8 341.2 414.9 343.7 418 344.4 C421.2 345 428.5 344.4 430.6 344.4"/>
<path class="l" d="M411.8 340.6 L370.4 507.8"/>
<path class="l" d="M430.6 344.4 L393.5 504.6"/>
<path class="t" d="M370.4 507.8 C369.9 508.7 368.7 511.2 367.4 512.8 C366.2 514.4 363.7 516.6 362.9 517.3"/>
<path class="l" d="M370.4 507.8 C371.9 508.4 375.9 510.7 379.2 511.6 C382.5 512.4 388.6 512.6 390.5 512.8"/>
<path class="l" d="M365.9 520.4 C366.2 522.4 365.8 531.2 367.4 532.9 C369 534.6 372.6 532.3 375.4 530.4 C378.2 528.5 382.7 523.1 384.2 521.6"/>
<path class="l" d="M795 122 C797.5 125.2 806.8 133.8 810 141 C813.2 148.2 815.2 157.8 814 165 C812.8 172.2 804.4 180.8 802.5 184"/>
<path class="l" d="M795 122.2 C800.9 122.5 819.1 122 830.7 124.1 C842.3 126.1 858.9 132.8 864.5 134.6"/>
<path class="l" d="M900.2 154.1 C903.7 156.6 913.7 161.7 920.9 169.2 C928.1 176.7 937.2 189.8 943.5 199.2 C949.7 208.6 954.1 216.8 958.5 225.6 C962.9 234.3 967.9 247.5 969.8 251.9"/>
<path class="l" d="M802.5 184.2 C807.2 185.2 821 185.8 830.7 189.8 C840.4 193.9 852 201.4 860.8 208.6 C869.5 215.9 877 225.9 883.3 233.1 C889.6 240.3 894.6 246.9 898.3 251.9 C902.1 256.9 904.6 261.3 905.9 263.2"/>
<path class="l" d="M958.5 129.7 C959.1 131.2 961.8 135.9 962 139 C962.2 142.1 960.3 146.9 960 148.5"/>
<path class="l" d="M958.5 129.7 C961.6 130 971 129.4 977.3 131.6 C983.6 133.8 990.5 137.8 996.1 142.9 C1001.7 147.9 1007.1 154.8 1011.1 161.7 C1015.2 168.5 1018.1 176.1 1020.5 184.2 C1022.9 192.4 1024.5 201.1 1025.4 210.5 C1026.4 219.9 1026 230.6 1026.2 240.6 C1026.3 250.6 1026.8 260.7 1026.2 270.7 C1025.5 280.7 1023 295.7 1022.4 300.8"/>
<path class="l" d="M960.4 148.5 C963.2 149.4 972 150.7 977.3 154.1 C982.6 157.6 988.3 163.5 992.3 169.2 C996.4 174.8 999.5 181.1 1001.7 188 C1003.9 194.9 1004.5 201.8 1005.5 210.5 C1006.4 219.3 1007.1 230.6 1007.4 240.6 C1007.7 250.6 1007.7 260.7 1007.4 270.7 C1007.1 280.7 1005.8 295.7 1005.5 300.8"/>
<path class="l" d="M1004.7 196.2 L1023.2 193.6"/>
<path class="l" d="M1007.4 217.3 L1026.2 214.3"/>
</g>
<!-- c_box.svg -->
<g id="c_box">
<path class="h" d="M865.3 266.4 L807.4 307.7 L770.4 349.1 L772.3 430.5 L817.4 578.1 L848.1 600.6 L857.5 608.5"/>
<path class="l" d="M857.5 279.5 L809.5 310.9 L773.8 351.6 L775.1 428.3 L819.9 574 L845.9 594.4 L887.2 564.6 L934.2 527 L940.5 473.8 L899.8 328.1 L857.5 279.5"/>
<path class="l" d="M865.3 266.4 L857.5 279.5"/>
<path class="t" d="M860.6 273.3 L807.4 310.9 L772.6 350 L773.8 429.3 L818.3 576.2 L846.5 597.5"/>
<path class="t" d="M807.4 314 L884.1 564.6 L896.6 575.6"/>
<path class="t" d="M845.9 594.4 L848.1 600.6"/>
<path class="l" d="M865.3 266.4 L913.9 323.4 L957.7 473.8 L948.3 530.2 L857.5 608.5"/>
<path class="t" d="M876.3 267 L921.7 321.8"/>
<path class="t" d="M906 326.5 L946.8 474.4 L938.9 528.6"/>
<path class="t" d="M902.9 327.1 L943.6 474.4 L936.7 527.6"/>
<path class="t" d="M848.1 600.6 L940.5 528.6"/>
<path class="l" d="M940.5 473.8 L957.7 473.8"/>
<path class="l" d="M934.2 527 L948.3 530.2"/>
<path class="l" d="M865.3 266.4 L951.5 259.2"/>
<path class="l" d="M1028.2 253.8 L1073.6 310.9 L913.9 323.4"/>
<path class="t" d="M1029.8 257.6 L1075.8 314"/>
<path class="l" d="M1073.6 310.9 L1117.5 459.7 L957.7 473.8"/>
<path class="t" d="M1076.8 314 L1119.7 461.2"/>
<path class="t" d="M1079.9 323.4 L1115.9 445.6"/>
<path class="l" d="M1117.5 459.7 L1111.2 514.5 L948.3 530.2"/>
<path class="t" d="M1114.4 461.2 L1108.7 512.9"/>
<path class="t" d="M959.3 467.5 L1112.8 453.4"/>
<path class="l" d="M857.5 608.5 L1006.3 594.4"/>
<path class="t" d="M896.6 575.6 L996.9 566.2"/>
<path class="l" d="M1111.2 514.5 L1068.9 548.9"/>
<path class="h" d="M965.6 375.1 L1067.4 366.6 L1076.8 375.1 L1096.5 444 L1090.3 453.4 L978.1 465 L970.3 458.7 L953 401.7Z"/>
<path class="l" d="M968.7 381.3 L1065.8 372.9 L1090.3 450.3 L976.5 460.6 L957.7 404.8Z"/>
<path class="t" d="M1067.4 366.6 L1065.8 372.9"/>
<path class="t" d="M1076.8 375.1 L1065.8 372.9"/>
<path class="l" d="M985.9 314 C986.7 317.1 989.2 327.6 990.6 332.8 C992 338 992.3 341.9 994.4 345.3 C996.5 348.7 997.5 352.4 1003.2 353.1 C1008.8 353.9 1022.7 351.6 1028.2 350 C1033.7 348.4 1035.1 347.1 1036.1 343.7 C1037 340.4 1034.9 335.1 1033.9 329.6 C1032.8 324.2 1030.5 314 1029.8 310.9"/>
<path class="l" d="M996.9 314 C997.5 317.1 999.5 328.2 1000.7 332.8 C1001.8 337.4 1002.4 339.5 1003.8 341.6 C1005.1 343.6 1005.5 344.9 1008.8 345.3 C1012.1 345.7 1020.5 344.8 1023.5 343.7 C1026.5 342.7 1026.5 341.9 1026.7 339 C1026.8 336.2 1025.5 331.2 1024.5 326.5 C1023.4 321.8 1021.1 313.5 1020.4 310.9"/>
<path class="t" d="M1008.8 345.3 L1010.1 339"/>
<path class="t" d="M1023.5 343.7 L1022 326.5"/>
<path class="t" d="M1017.3 344.4 L1015.7 326.5"/>
<path class="l" d="M1005.4 300.8 C1005.3 304.1 1004.4 313.3 1005 320.3 C1005.7 327.2 1008.7 339 1009.4 342.8"/>
<path class="l" d="M1022.3 300.8 C1021.4 304.1 1018.5 313.3 1016.9 320.3 C1015.4 327.2 1013.8 339 1013.2 342.8"/>
<path class="l" d="M951.5 259.2 L990.6 314"/>
<path class="t" d="M945.2 260.1 L985.9 314"/>
<path class="l" d="M959.3 267 L978.1 264.5 L1000 295.2"/>
<path class="h" d="M964 270.1 L993.8 310.9"/>
<path class="t" d="M968.7 269.5 L996.9 307.7"/>
<path class="t" d="M978.1 264.5 L973.4 257.6"/>
<path class="l" d="M973.4 257.6 L1006.3 254.5"/>
<path class="t" d="M987.5 257 L1006.3 282.7"/>
<path class="t" d="M918.6 260.7 C921.2 259.4 928.5 254.6 934.2 252.9 C940 251.2 947.8 250.6 953 250.4 C958.3 250.1 963.5 251.2 965.6 251.3"/>
<path class="l" d="M877.8 220 C880.5 223.1 888.8 231.7 893.5 238.8 C898.2 245.8 904 258.4 906 262.3"/>
<path class="l" d="M956.2 220 C957.7 222.9 963 231.6 965.6 237.2 C968.2 242.9 970.8 251.1 971.8 253.8"/>
<path class="l" d="M987.5 480 C989.6 479 994.3 475.1 1000 473.8 C1005.8 472.5 1017 471.9 1022 472.2 C1026.9 472.5 1029 472.5 1029.8 475.3 C1030.6 478.2 1028.5 484.7 1026.7 489.4 C1024.8 494.1 1020.1 501.2 1018.8 503.5"/>
<path class="l" d="M987.5 480 C987 482.6 984.4 489.9 984.4 495.7 C984.4 501.4 985.9 509.5 987.5 514.5 C989.1 519.4 992.7 523.6 993.8 525.5"/>
<path class="t" d="M990.6 481.6 C992.7 480.9 997.9 478.4 1003.2 477.5 C1008.4 476.6 1018.8 476.5 1022 476.3"/>
<path class="t" d="M1023.5 475.3 L1015.7 486.3"/>
<path class="t" d="M1029.8 475.3 L1020.4 489.4"/>
</g>
<!-- d_pole.svg -->
<g id="d_pole">
<path class="l" d="M900 552.7 L932.6 522.6 L940.1 480"/>
<path class="l" d="M900 574 L948.9 532.6 L1108 516.3 L1115.5 505.1 L1116.8 480"/>
<path class="t" d="M900 565.2 L945.1 530.1 L953.9 480"/>
<path class="t" d="M933.8 523.1 L948.9 532.6"/>
<path class="t" d="M936.3 524.6 L943.1 480"/>
<path class="t" d="M947.6 529.6 L957.1 480"/>
<path class="t" d="M1025.3 522.6 L1106.8 514.6 L1113.5 504.6 L1114.8 480"/>
<path class="l" d="M900 576.5 L995.2 567.7"/>
<path class="l" d="M900 604.1 L1007.8 594.8"/>
<path class="l" d="M1108 516.3 L1072.9 552.7"/>
<path class="l" d="M987.7 480 C987.3 484.2 985 498.4 985.2 505.1 C985.4 511.7 987.1 516.8 989 520.1 C990.9 523.4 992.9 524.4 996.5 525.1 C1000 525.9 1008 524.7 1010.3 524.6"/>
<path class="l" d="M996.9 576.7 C996.1 576.4 993.3 575.9 992.2 575.3 C991.1 574.7 990.4 573.9 990.2 573.1 C990 572.2 990.4 571.2 991.1 570.1 C991.9 569 993.2 567.8 994.9 566.7 C996.6 565.5 998.8 564.2 1001.2 562.9 C1003.7 561.7 1006.6 560.4 1009.7 559.2 C1012.7 558 1016.2 556.9 1019.6 555.8 C1023.1 554.7 1026.8 553.7 1030.4 552.9 C1034 552 1037.7 551.2 1041.2 550.7 C1044.6 550.1 1048.1 549.6 1051.2 549.3 C1054.4 549 1057.3 548.9 1059.9 549 C1062.4 549 1064.7 549.2 1066.5 549.6 C1068.3 550 1069.7 550.5 1070.6 551.2 C1071.4 551.9 1071.9 552.7 1071.8 553.6 C1071.8 554.5 1071.2 555.6 1070.2 556.7 C1069.2 557.8 1066.5 559.7 1065.8 560.2"/>
<path class="t" d="M997 574.3 C996.6 574.1 995 573.5 994.6 573 C994.1 572.5 994 571.8 994.2 571.1 C994.4 570.4 995 569.6 995.9 568.8 C996.9 567.9 998.1 567 999.7 566.1 C1001.2 565.2 1003.1 564.2 1005.2 563.2 C1007.3 562.3 1009.7 561.3 1012.3 560.4 C1014.8 559.4 1017.6 558.5 1020.4 557.6 C1023.2 556.8 1026.1 556 1029.1 555.2 C1032 554.5 1035 553.8 1037.9 553.3 C1040.8 552.7 1043.6 552.2 1046.3 551.9 C1049 551.5 1051.6 551.2 1053.9 551.1 C1056.2 551 1058.3 550.9 1060.1 551 C1061.9 551.1 1063.5 551.3 1064.7 551.6 C1065.9 551.9 1066.8 552.4 1067.3 552.9 C1067.8 553.4 1068 554 1067.9 554.7 C1067.7 555.4 1066.6 556.6 1066.3 557"/>
<path class="t" d="M1019.2 566.6 C1019.1 566.4 1018.6 565.8 1018.6 565.3 C1018.5 564.9 1018.7 564.3 1019.1 563.8 C1019.5 563.2 1020.2 562.6 1021 562 C1021.7 561.4 1022.8 560.8 1023.9 560.2 C1025.1 559.6 1026.4 559 1027.9 558.4 C1029.3 557.8 1030.9 557.2 1032.6 556.6 C1034.3 556 1036.1 555.5 1038 555 C1039.8 554.5 1041.7 554 1043.6 553.6 C1045.6 553.2 1047.5 552.9 1049.4 552.6 C1051.3 552.3 1053.2 552 1054.9 551.9 C1056.7 551.7 1058.4 551.6 1060 551.5 C1061.6 551.5 1063.1 551.5 1064.4 551.6 C1065.7 551.7 1066.8 551.9 1067.8 552.1 C1068.8 552.3 1069.6 552.6 1070.2 552.9 C1070.7 553.3 1071.1 553.7 1071.3 554.1 C1071.5 554.6 1071.3 555.3 1071.2 555.6"/>
<path class="t" d="M991.5 574 C992.1 575 992.9 579.4 995.2 580.3 C997.5 581.1 1003.6 579.2 1005.3 579"/>
<path class="l" d="M1004 577.7 L1024.1 640.4"/>
<path class="l" d="M1032.8 673 L1072.9 803.3"/>
<path class="l" d="M1064.2 560.2 L1134.3 790.8"/>
<path class="l" d="M1091.7 709.3 L1100.5 705.6 L1108 706.8 L1109.3 716.8 L1100.5 720.6 L1093 718.1Z"/>
<path class="l" d="M1108 706.8 L1113 703.1 L1115.5 713.1 L1109.3 716.8"/>
<path class="t" d="M1098 709.3 L1099.2 716.8"/>
<path class="t" d="M1101.8 708.1 L1103 716.8"/>
<path class="l" d="M1065.4 780 C1067.1 778.5 1070.4 773.5 1075.4 770.7 C1080.5 767.9 1088.8 765.1 1095.5 763.2 C1102.2 761.3 1110.3 759.9 1115.5 759.4 C1120.8 759 1124.9 760.5 1126.8 760.7"/>
</g>
<!-- e_handle8.svg -->
<g id="e_handle8">
<path class="l" d="M1102.7 781.2 L1331.5 761.9"/>
<path class="h" d="M1331.5 761.9 C1334.5 761.4 1343.7 759.4 1349.5 758.6 C1355.2 757.8 1361.4 756.8 1366 757.2 C1370.6 757.7 1372.9 757.5 1377 761.4 C1381.2 765.3 1387.8 773.8 1390.8 780.7 C1393.8 787.5 1395.4 795.8 1394.9 802.7 C1394.5 809.6 1389.2 818.8 1388.1 822"/>
<path class="l" d="M1388.1 822 L1323.3 929.5 L1189.5 979.2"/>
<path class="l" d="M1189.5 979.2 C1187.9 980.1 1182.6 982.4 1179.9 984.7 C1177.1 987 1174.1 991.6 1173 993"/>
<path class="l" d="M1173 993 L1134.4 1050"/>
<path class="l" d="M1102.7 781.2 C1100.6 781.3 1093.7 780.7 1090.3 782 C1086.8 783.3 1083.4 787.8 1082 788.9"/>
<path class="h" d="M1082 788.9 L1003.4 899.2"/>
<path class="l" d="M1003.4 899.2 C1003.1 900 1001.6 902.3 1001.5 904.2 C1001.4 906 1002.4 909.2 1002.6 910.2"/>
<path class="l" d="M1002.6 910.2 L1024.1 948.8"/>
<path class="l" d="M1024.1 948.8 C1025.3 949.7 1028.5 952.6 1031 953.8 C1033.5 955 1037.9 955.9 1039.3 956.3"/>
<path class="h" d="M1039.3 956.3 L1115.1 983.3"/>
<path class="l" d="M1115.1 983.3 C1116.1 984 1120 985.8 1121.2 987.4 C1122.3 989 1122.3 990.7 1122 993 C1121.7 995.3 1119.7 999.8 1119.2 1001.2"/>
<path class="l" d="M1119.2 1001.2 L1084.8 1050"/>
<path class="l" d="M1083.4 792.2 C1085.5 793.3 1092.6 795.5 1095.8 798.6 C1099 801.7 1101.2 806.2 1102.7 811 C1104.2 815.8 1105.2 822.5 1104.6 827.5 C1104 832.6 1100 839 1099.1 841.3"/>
<path class="h" d="M1099.1 841.3 L1025.5 941.9"/>
<path class="t" d="M1090.3 802.7 L1014.5 910.2"/>
<path class="t" d="M1014.5 910.2 L1026.9 940.6"/>
<path class="t" d="M1094.4 809.6 L1101.3 808.2 L1115.1 802.7"/>
<path class="l" d="M1101.3 783.4 C1103.2 785.3 1109.4 789.8 1112.3 794.4 C1115.3 799 1117.8 805.5 1119.2 811 C1120.7 816.5 1121.6 821.8 1121.2 827.5 C1120.7 833.3 1117.3 842.5 1116.5 845.4"/>
<path class="t" d="M1104.1 781.8 C1106 783.9 1112.7 789.6 1115.6 794.4 C1118.6 799.3 1120.7 805.2 1122 811 C1123.3 816.7 1123.8 822.9 1123.4 828.9 C1122.9 834.9 1119.9 843.8 1119.2 846.8"/>
<path class="h" d="M1134.4 781.2 C1136.5 783.9 1143.8 791.8 1146.8 797.2 C1149.8 802.6 1151.3 808.2 1152.3 813.7 C1153.4 819.3 1154.1 824.3 1153.1 830.3 C1152.2 836.3 1147.9 846.4 1146.8 849.6"/>
<path class="t" d="M1131.1 781.2 C1133.2 783.9 1140.6 791.8 1143.5 797.2 C1146.4 802.6 1147.7 808.2 1148.7 813.7 C1149.8 819.3 1150.6 824.3 1149.8 830.3 C1149.1 836.3 1145 846.4 1144 849.6"/>
<path class="l" d="M1102.7 781.2 L1134.4 780.1"/>
<path class="t" d="M1109.6 791.7 L1142.7 788.9"/>
<path class="t" d="M1115.1 802.7 L1148.7 800"/>
<path class="t" d="M1117.9 846.8 L1145.4 845.4"/>
<path class="t" d="M1141.3 788.9 L1339.8 771.8"/>
<path class="l" d="M1146.8 795.8 L1346.7 777.9"/>
<path class="l" d="M1148.2 849 L1341.2 831.7"/>
<path class="t" d="M1145.4 855.1 L1335.7 838.6"/>
<path class="h" d="M1134.4 866.1 L1324.6 849.6"/>
<path class="t" d="M1130.3 871.6 L1305.3 856.5"/>
<path class="l" d="M1145.4 849.6 L1130.3 870.3"/>
<path class="h" d="M1331.5 761.9 C1334.1 764.8 1342.9 772.9 1346.7 779.3 C1350.5 785.6 1353 793.8 1354.4 800 C1355.8 806.2 1355.4 811.4 1355 816.5 C1354.5 821.6 1352.2 828 1351.7 830.3"/>
<path class="l" d="M1338.4 761.4 C1341.3 764.6 1351.6 774.2 1355.5 780.7 C1359.4 787.1 1360.7 794 1361.9 800 C1363.1 805.9 1363.3 811.7 1362.7 816.5 C1362.1 821.3 1359 826.8 1358.3 828.9"/>
<path class="t" d="M1349.5 771 L1377 768.2"/>
<path class="t" d="M1358.3 786.2 L1388.1 783.4"/>
<path class="t" d="M1362.7 826.1 L1387.5 822.6"/>
<path class="t" d="M1338.4 761.4 L1366 757.2"/>
<path class="l" d="M1144 852.3 L1094.4 918.5"/>
<path class="l" d="M1094.4 918.5 C1094.4 919.3 1093.6 922.2 1094.4 923.5 C1095.2 924.8 1098.3 925.8 1099.1 926.2"/>
<path class="l" d="M1099.1 926.2 L1130.3 939.7 L1241.9 929 L1304 905.3"/>
<path class="l" d="M1304 905.3 C1305.1 904.6 1309 902.9 1310.9 901.4 C1312.7 899.9 1314.3 897.3 1315 896.5"/>
<path class="l" d="M1315 896.5 L1357.7 828.1"/>
<path class="l" d="M1112.3 893.7 L1133 937.8"/>
<path class="t" d="M1116.5 892.3 L1137.2 937.8"/>
<path class="t" d="M1123.4 903.3 L1228.1 892.3 L1301.2 867.5"/>
<path class="l" d="M1211.6 866.1 L1240.5 928.2"/>
<path class="t" d="M1215.7 865.6 L1244.7 926.8"/>
<path class="t" d="M1269.5 857.9 L1292.9 907.5"/>
<path class="t" d="M1286 856.5 L1309.5 902"/>
<path class="t" d="M1128.9 940.6 L1239.2 930.9 L1302.6 907.5 L1312.2 899.2 L1350.8 837.2"/>
<path class="t" d="M1305.3 849.6 C1306.9 850.7 1312 856.5 1315 856.5 C1318 856.5 1321.9 850.7 1323.3 849.6"/>
<path class="t" d="M1069.6 772.4 C1071.7 771.2 1077.2 767.4 1082 765.5 C1086.8 763.6 1092.1 761.7 1098.6 760.8 C1105 759.9 1116.9 760.1 1120.6 760"/>
<path class="h" d="M1062.7 969.5 L1011.7 1050"/>
<path class="t" d="M1084.8 976.4 L1033.8 1050"/>
<path class="h" d="M1101.3 984.7 L1060 1050"/>
<path class="t" d="M1105.4 988.8 L1065.5 1050"/>
<path class="t" d="M1101.3 984.7 C1102.7 984.9 1107.3 984.9 1109.6 986.1 C1111.9 987.2 1114.1 989.5 1115.1 991.6 C1116.1 993.6 1115.6 997.3 1115.6 998.5"/>
</g>
<!-- f_cap.svg -->
<g id="f_cap">
<path class="h" d="M385.1 587.9 L383.9 576.6 L372.6 584.1 L372.6 650.5"/>
<path class="t" d="M377.6 585.4 L380.1 653"/>
<path class="t" d="M377.6 585.4 L383.9 580.9"/>
<path class="h" d="M372.6 650.5 C375.5 651.8 380.1 655.7 390.1 658 C400.2 660.3 411.8 662.9 432.7 664.3 C453.6 665.7 489.1 666.9 515.4 666.3 C541.8 665.8 569.7 663 590.6 661.1 C611.5 659.1 627 657.2 640.8 654.8 C654.5 652.4 666 649.6 673.3 646.8 C680.6 644 682.7 639.5 684.6 638"/>
<path class="t" d="M380.1 653 C383.9 654.3 393.9 658.3 402.7 660.6 C411.4 662.8 413.9 665.4 432.7 666.8 C451.5 668.3 489.1 669.7 515.4 669.3 C541.8 668.9 569.7 666.3 590.6 664.3 C611.5 662.3 627.4 659.8 640.8 657.5 C654.1 655.2 665.8 651.7 670.8 650.5"/>
<path class="h" d="M682.1 576.6 L684.6 638"/>
<path class="l" d="M676.3 579.1 L680.1 643.5"/>
<path class="t" d="M671.3 580.4 L675.1 646"/>
<path class="h" d="M427.7 590.4 L469.1 590.4 L470.3 664.3 L431.5 664.3Z"/>
<path class="t" d="M433.2 593.4 L435.2 660.6 L470.3 660.1"/>
<path class="h" d="M507.9 590.4 L554.3 590.4 L553 664.8 L510.4 665.6Z"/>
<path class="t" d="M512.9 593.4 L514.2 660.6 L553 660.6"/>
<path class="h" d="M593.1 588.4 L628.2 585.4 L632 656 L596.9 660.6Z"/>
<path class="t" d="M596.1 590.4 L599.9 656.8"/>
<path class="h" d="M657 581.6 L682.1 576.6 L684.6 640.5 L662.1 651.8Z"/>
<path class="l" d="M470.3 595.4 L506.7 595.4"/>
<path class="l" d="M555.5 594.1 L591.9 592.9"/>
<path class="l" d="M632 587.9 L657 582.9"/>
<path class="l" d="M470.3 659.3 L510.4 660.1"/>
<path class="l" d="M553 660.6 L596.9 656.8"/>
<path class="l" d="M632 653 L662.1 648"/>
<path class="l" d="M420.2 592.9 C421.5 592 425.6 589.5 427.7 587.9 C429.8 586.2 413.9 583.6 432.7 582.9 C451.5 582.1 510 584.3 540.5 583.4 C571 582.4 596.9 579.8 615.7 577.3 C634.5 574.8 647 569.8 653.3 568.3"/>
<path class="h" d="M446.5 565.3 C453.8 564.3 476.4 560.5 490.4 559 C504.4 557.6 511.7 557 530.5 556.5 C549.3 556.1 584.8 556 603.2 556.5 C621.5 557.1 630.7 558.5 640.8 559.8 C650.8 561.1 656.4 561.8 663.3 564.6 C670.2 567.4 679 574.6 682.1 576.6"/>
<path class="t" d="M450.3 561.6 C463.6 560.3 505 555.3 530.5 554 C556 552.8 584.4 553.4 603.2 554 C622 554.7 636.6 557.2 643.3 557.8"/>
<path class="t" d="M432.7 582.9 L446.5 565.3"/>
<path class="l" d="M420.2 570.3 L420.2 592.9"/>
<path class="l" d="M420.2 570.3 L427.7 562.8 L445.3 559.8"/>
<path class="l" d="M392.6 660.6 C392.8 662.2 388.9 668.3 393.9 670.6 C398.9 672.9 402.4 673.1 422.7 674.3 C443 675.6 487.5 678.1 515.4 678.1 C543.4 678.1 567.7 676.2 590.6 674.3 C613.6 672.5 639.7 669.3 653.3 666.8 C666.9 664.3 668.9 660.6 672.1 659.3"/>
<path class="t" d="M490.4 671.8 C502.9 671.8 542.6 672.7 565.6 671.8 C588.5 671 611.9 668.7 628.2 666.8 C644.5 664.9 657.5 661.6 663.3 660.6"/>
<path class="t" d="M407.7 666.8 L412.7 671.8"/>
<path class="t" d="M415.2 666.8 L420.2 671.8"/>
<path class="h" d="M440.3 481.4 L618.2 465.1"/>
<path class="h" d="M457.8 509.7 L630.7 493.9"/>
<path class="h" d="M455.3 515.2 L632 501.4"/>
<path class="l" d="M454 517.7 L447.8 542.8"/>
<path class="l" d="M447.8 542.8 L605.7 531.5 L605.7 557.8"/>
<path class="l" d="M446.5 545.3 L446.5 565.3"/>
<path class="h" d="M440.3 481.4 C441.9 483.4 447.4 489.2 450.3 493.9 C453.2 498.6 456.5 507 457.8 509.7"/>
<path class="h" d="M435.2 482.6 C437.1 485.1 443.6 492.2 446.5 497.6 C449.4 503.1 451.5 510.6 452.8 515.2 C454 519.8 454.9 521 454 525.2 C453.2 529.4 448.8 537.7 447.8 540.3"/>
<path class="l" d="M429 484.6 C430.6 487.2 436.5 494.6 439 500.2 C441.5 505.7 443 511.8 444 517.7 C445 523.5 445 530.6 444.8 535.2 C444.6 539.8 443.1 543.6 442.8 545.3"/>
<path class="h" d="M415.2 482.6 L440.3 481.4"/>
<path class="h" d="M415.2 482.6 C413.1 483.7 406.2 485.1 402.7 488.9 C399.1 492.6 396.6 496.6 393.9 505.2 C391.2 513.7 388.2 530.6 386.4 540.3 C384.5 549.9 383.2 559 382.6 562.8"/>
<path class="h" d="M382.6 562.8 C382.7 564.9 382.5 572.2 383.1 575.3 C383.7 578.5 384.6 579.6 386.4 581.6 C388.2 583.6 389.7 586.2 393.9 587.4 C398.1 588.5 407.7 589.1 411.4 588.4 C415.2 587.6 415 585.7 416.4 582.9 C417.9 580.1 419.6 573.5 420.2 571.6"/>
<path class="t" d="M400.2 500.2 C398.7 503.9 393.6 514.8 391.4 522.7 C389.2 530.6 388 541.5 387.1 547.8 C386.2 554 386.3 558.2 386.1 560.3"/>
<path class="h" d="M405.7 515.2 C405.9 512.3 405.6 502.4 407.2 497.6 C408.8 492.8 412.4 488.2 415.2 486.4 C418 484.5 421.7 484.5 424 486.4 C426.3 488.2 428.1 492.8 429 497.6 C429.8 502.4 429.8 508.9 429 515.2 C428.1 521.5 425.8 530 424 535.2 C422.2 540.5 420.3 546.5 418.2 546.5 C416.1 546.5 413.5 540.5 411.4 535.2 C409.3 530 406.6 518.5 405.7 515.2"/>
<path class="t" d="M408.9 515.2 C409.1 512.5 408.9 503.1 410.2 498.9 C411.4 494.7 414.4 491.6 416.4 490.1 C418.5 488.7 421.1 488.7 422.7 490.1 C424.3 491.6 425.4 494.7 426 498.9 C426.5 503.1 426.7 509.5 426 515.2 C425.2 520.8 422.7 528.6 421.5 532.7 C420.2 536.9 419.4 540.3 418.2 540.3 C416.9 540.3 415.5 536.9 413.9 532.7 C412.4 528.6 409.8 518.1 408.9 515.2"/>
<path class="l" d="M405.7 515.2 L405.7 547.8"/>
<path class="t" d="M418.2 546.5 L418.2 550.3"/>
<path class="l" d="M387.6 557.8 L396.4 549 L417.7 550.3 L417.7 562.8"/>
<path class="t" d="M387.6 557.8 L415.2 559.8 L417.7 562.8"/>
<path class="l" d="M387.6 557.8 L386.4 565.3"/>
<path class="l" d="M424 535.2 L422.7 557.8 L420.2 570.3"/>
<ellipse class="h" cx="391.5" cy="575.5" rx="3.5" ry="5"/>
<ellipse class="h" cx="408.5" cy="576.5" rx="3.5" ry="5"/>
<path class="h" d="M618.2 465.1 C619.2 464.7 622.4 463.3 624.5 463.1 C626.5 462.8 626.8 461 630.7 463.8 C634.7 466.6 643.3 472.4 648.3 480.1 C653.3 487.8 657.5 502.2 660.8 510.2 C664.1 518.1 667.1 524.8 668.3 527.7"/>
<path class="l" d="M668.3 527.7 L668.3 560.3"/>
<path class="h" d="M618.2 465.1 C619.9 468 625.9 476.3 628.2 482.6 C630.5 488.9 632.4 495.6 632 502.7 C631.6 509.8 626.8 521.5 625.7 525.2"/>
<path class="h" d="M630.7 463.8 C632.4 466.9 638.5 475.7 640.8 482.6 C643 489.5 644.7 497.6 644.5 505.2 C644.3 512.7 640.3 524 639.5 527.7"/>
<path class="t" d="M623.2 464.6 C625 467.6 631.3 476 633.7 482.6 C636.2 489.2 638 496.6 637.7 503.9 C637.5 511.2 632.9 522.7 632 526.5"/>
<path class="l" d="M644.5 505.2 L644.5 560.3"/>
<path class="h" d="M605.7 537.7 L644.5 540.3 L660.8 539 L668.3 545.3"/>
<path class="t" d="M623.2 526.5 L623.2 537.7"/>
<path class="t" d="M643.3 498.9 L655.8 497.6"/>
</g>
<!-- g_tank.svg -->
<g id="g_tank">
<path class="l" d="M348.5 677.6 L262 679.5"/>
<path class="h" d="M262 679.5 C259.2 681 249.5 684.2 245.1 688.9 C240.7 693.6 237.3 704.5 235.7 707.7"/>
<path class="h" d="M235.7 707.7 C234.5 721.5 231 757.8 228.2 790.4 C225.4 823 221.1 865.6 218.8 903.2 C216.5 940.8 215 987.3 214.3 1015.9 C213.5 1044.6 214.2 1041.5 214.3 1075.2 C214.4 1108.9 214 1191.6 215 1218 C216.1 1244.5 217.2 1229.3 220.7 1233.8 C224.1 1238.3 233.2 1243.2 235.7 1245.1"/>
<path class="t" d="M237.6 713.3 C236.3 726.2 232.8 758.7 230.1 790.4 C227.3 822 223.2 865.6 221.1 903.2 C218.9 940.8 217.6 987.3 216.9 1015.9 C216.2 1044.6 216.9 1041.5 216.9 1075.2 C217 1108.9 217.2 1194.2 217.3 1218"/>
<path class="t" d="M250.8 688.9 L332.3 688.9"/>
<path class="t" d="M239.5 702 L326.7 700.9"/>
<path class="l" d="M237.6 713.3 L324.1 712.6"/>
<path class="l" d="M365.4 677.6 C362.6 677.9 353.5 677.6 348.5 679.5 C343.5 681.4 339.1 685.1 335.3 688.9 C331.6 692.6 328.3 691.4 325.9 702 C323.6 712.7 322.9 725.5 321.1 752.8 C319.2 780 316.4 828 314.7 865.6 C313 903.2 311.5 946.5 310.9 978.3 C310.3 1010.2 310.6 1015.2 310.9 1056.4 C311.2 1097.6 311.7 1193.6 312.8 1225.6 C313.8 1257.5 313.8 1242.5 317.3 1248.1 C320.7 1253.8 330.8 1257.5 333.5 1259.4"/>
<path class="l" d="M365.4 677.6 L465 698.3"/>
<path class="t" d="M348.5 682.1 L433.1 703.2"/>
<path class="t" d="M335.3 690.8 L427.4 709.5"/>
<path class="t" d="M327.8 702 L421.8 720.8"/>
<path class="l" d="M324.1 713.3 L416.2 730.2"/>
<path class="l" d="M433.1 703.2 L463.2 700.2"/>
<path class="l" d="M463.2 700.2 C464.1 701.1 467.4 703.3 468.8 705.8 C470.2 708.3 470.6 711.1 471.4 715.2 C472.2 719.3 473.3 727.7 473.7 730.2"/>
<path class="l" d="M416.2 730.2 L433.1 703.2"/>
<path class="l" d="M421.8 730.2 L459.4 729.5 L472.6 730.2"/>
<path class="t" d="M421.8 730.2 L436.1 705.8"/>
<path class="h" d="M463.2 717.1 L472.6 730.2"/>
<path class="t" d="M459.4 729.5 L461.3 713.3 L465 700.2"/>
<path class="l" d="M416.2 730.2 C415.9 752.8 414.5 817.9 414.3 865.6 C414.1 913.2 414.7 974.7 415 1015.9 C415.4 1057.1 415.4 1075.3 416.2 1112.8 C417 1150.2 418.4 1216.2 419.9 1240.6 C421.5 1265 422.7 1254.7 425.6 1259.4 C428.4 1264.1 435 1267.2 436.8 1268.8"/>
<path class="t" d="M423.7 732.1 C423.4 754.3 422 818.3 421.8 865.6 C421.6 912.9 422.2 974.7 422.6 1015.9 C422.9 1057.1 422.9 1075.3 423.7 1112.8 C424.5 1150.2 426.4 1216.2 427.4 1240.6 C428.5 1265 429.6 1256.3 430.1 1259.4"/>
<path class="l" d="M459.4 730.2 C459.1 752.8 457.5 817.9 457.5 865.6 C457.5 913.2 458.8 974.7 459.4 1015.9 C460 1057.1 460.3 1075.3 460.9 1112.8 C461.5 1150.2 462.5 1214.6 463.2 1240.6 C463.8 1266.6 464.7 1264.1 465 1268.8"/>
<path class="l" d="M472.6 730.2 C472.2 752.8 470.7 817.9 470.7 865.6 C470.7 913.2 472 974.7 472.6 1015.9 C473.1 1057.1 473.4 1075.3 474.1 1112.8 C474.7 1150.2 476.8 1216.2 476.3 1240.6 C475.9 1265 472.2 1256.3 471.4 1259.4"/>
<path class="l" d="M465 698.3 L795.4 672.7"/>
<path class="l" d="M471.4 715.2 L790.4 686.5 L812.9 689"/>
<path class="l" d="M473.7 730.2 L815.4 699"/>
<path class="t" d="M478.2 705.8 L780.4 675.2"/>
<path class="t" d="M410.5 672 L685 649.4"/>
<path class="h" d="M685.1 648.9 L802.9 671.4"/>
<path class="l" d="M802.9 671.4 C805 672.9 811.7 676.9 815.4 680.2 C819.2 683.5 823.8 689.6 825.5 691.5"/>
<path class="t" d="M715.2 651.4 L800.4 673.2 L815.4 686.5"/>
<path class="t" d="M775.3 670.2 L780.4 676.4"/>
<path class="t" d="M785.4 672.2 L790.4 678.2"/>
<path class="t" d="M795.4 673.9 L812.9 697.7"/>
<path class="t" d="M790.4 686.5 C790.6 687.3 791.1 689.7 791.6 691.5 C792.1 693.3 793.1 696.3 793.4 697.2"/>
<path class="t" d="M794.1 686.5 C794.3 687.3 795 689.7 795.4 691.5 C795.8 693.3 796.4 696.3 796.6 697.2"/>
<path class="t" d="M802.9 687.7 L804.2 698.2"/>
<path class="h" d="M825.5 691.5 L830.5 730.3 L853 900 L873 1300"/>
<path class="t" d="M820.5 696.5 L848 900 L871 1290"/>
<path class="l" d="M815.4 699 L843 900"/>
<path class="l" d="M506.4 743.4 L778.9 717.1 L788.3 722.7 L765.8 865.6 L760.2 876.8 L557.1 897.5 L545.9 884.4Z"/>
<path class="l" d="M515.8 741.5 L566.5 850.5 L737.6 835.5 L777.1 718.9"/>
<path class="l" d="M562.8 854.3 L555.3 895.6"/>
<path class="t" d="M566.5 850.5 L562.8 854.3"/>
<path class="t" d="M737.6 835.5 L743.2 831.7"/>
<path class="l" d="M743.2 831.7 L765.8 861.8"/>
<path class="l" d="M737.6 835.5 L756.4 876.8"/>
<path class="t" d="M506.4 743.4 L515.8 741.5"/>
<path class="l" d="M775.2 920.1 L767.7 914.4 L545.9 937"/>
<path class="l" d="M545.9 937 L500.8 1248.1"/>
<path class="t" d="M541 938.9 L497 1246.2"/>
<path class="l" d="M545.9 937 L570.3 976.5 L730.1 959.5 L767.7 916.3"/>
<path class="t" d="M551.5 935.1 L574.1 972.7 L728.2 955.8 L762 917.4"/>
<path class="l" d="M570.3 976.5 L523.3 1240.6"/>
<path class="t" d="M565.4 978.3 L519.5 1242.5"/>
<path class="l" d="M731.9 960.1 L811.9 1200.3"/>
<path class="t" d="M736.4 961.9 L814.7 1207.6"/>
<path class="l" d="M773.7 918.2 L828.3 1173"/>
<path class="t" d="M778.3 927.3 L831.9 1173"/>
<path class="t" d="M730.9 958.2 L766.4 916.4"/>
<path class="t" d="M734.6 961.9 L771 920"/>
<path class="t" d="M766.4 914.6 C767.6 915.2 771.9 916.1 773.7 918.2 C775.5 920.3 776.7 925.8 777.4 927.3"/>
<path class="l" d="M813.7 1183.9 C814.4 1181.5 815 1173.6 817.4 1169.3 C819.8 1165.1 823.8 1161.1 828.3 1158.4 C832.9 1155.7 839.7 1154 844.7 1153 C849.7 1151.9 856.1 1152.2 858.3 1152"/>
<path class="l" d="M824.7 1180.3 L828.3 1174.8 L857.4 1173"/>
<path class="l" d="M824.7 1180.3 C824.8 1186.3 826.2 1208.8 825.6 1216.7 C825 1224.5 823.6 1223.9 821 1227.6 C818.5 1231.2 811.9 1236.7 810.1 1238.5"/>
<path class="l" d="M810.1 1238.5 L731.9 1243.9"/>
<path class="l" d="M813.7 1183.9 C814.1 1190 816.2 1212.7 815.6 1220.3 C815 1227.9 811 1227.9 810.1 1229.4"/>
<path class="l" d="M810.1 1229.4 L731.9 1238.5"/>
<path class="l" d="M690 1220.3 L813.7 1212.1"/>
<path class="t" d="M844.7 1153 C844.7 1154.5 846.2 1158.7 844.7 1162.1 C843.2 1165.4 837.9 1170.9 835.6 1173 C833.3 1175.1 831.8 1174.5 831 1174.8"/>
<path class="t" d="M815.6 1189.4 L824.7 1188.4"/>
<path class="t" d="M815.6 1207.6 L825.6 1207.6"/>
<path class="t" d="M828.3 1178.4 L857.4 1187.5"/>
<path class="l" d="M759.2 1245.8 L861.1 1260.3"/>
<path class="t" d="M781 1242.1 L862 1252.1"/>
<path class="l" d="M216.9 1224.8 L314.7 1238.7 L418 1248.1 L463.2 1248.1"/>
<path class="h" d="M235.7 1245.1 L312.8 1256.4 L433.1 1268.8 L463.2 1270.7"/>
<path class="l" d="M463.2 1248.1 L594.7 1233.1"/>
<path class="l" d="M471.4 1259.4 L598.5 1246.2"/>
<path class="h" d="M463.2 1270.7 L624.8 1265"/>
<path class="t" d="M222.6 1235 L314.7 1248.1 L421.8 1259.4"/>
<path class="l" d="M290.2 1255.6 C291.2 1257 292.1 1262 295.9 1263.9 C299.6 1265.8 307.5 1266.7 312.8 1266.9 C318.1 1267.1 324.1 1266.3 327.8 1265 C331.6 1263.8 334.1 1260.3 335.3 1259.4"/>
<path class="l" d="M465 1270.7 C466 1272.6 466.6 1279.6 470.7 1282 C474.7 1284.3 483.2 1284.6 489.5 1285 C495.7 1285.3 503.6 1286.5 508.3 1283.8 C513 1281.1 516.1 1271.3 517.7 1268.8"/>
<path class="t" d="M476.3 1278.2 L512 1277.4"/>
<path class="l" d="M707.5 1250 C708.8 1251.9 711.3 1259.2 715 1261.3 C718.8 1263.3 725.1 1262.7 730.1 1262.4 C735.1 1262.1 740.7 1261.8 745.1 1259.4 C749.5 1257 754.5 1250 756.4 1248.1"/>
<path class="t" d="M716.9 1255.6 L748.9 1253.8"/>
<ellipse class="h" cx="566" cy="1190" rx="29" ry="36" transform="rotate(-8 566 1190)"/>
<ellipse class="t" cx="568" cy="1190" rx="25" ry="32" transform="rotate(-8 568 1190)"/>
<ellipse class="h" cx="578" cy="1192" rx="20" ry="25" transform="rotate(-8 578 1192)"/>
<ellipse class="l" cx="575" cy="1193" rx="13" ry="18" transform="rotate(-8 575 1193)"/>
<path class="h" d="M617.7 1245.6 L616.5 1250.6 L602.7 1254.3 L592.7 1250.6 L597.7 1240.6 L592.7 1066.4 L720.5 1051.3 L726.8 1057.6 L731.8 1125.3"/>
<path class="l" d="M606.5 1238 L598.9 1071.4 L718 1057.6 L720.5 1095.2"/>
<path class="t" d="M595.2 1068.9 L719.2 1054.3 L723.5 1058.8"/>
<path class="h" d="M625.3 1140.3 L627.8 1080.2 L687.9 1072.6 L695.4 1078.9 L700.5 1090.2"/>
<path class="l" d="M635.3 1082.7 L695.4 1078.9"/>
<path class="l" d="M635.3 1082.7 L642.8 1092.7 L700.5 1088.9"/>
<path class="t" d="M642.8 1092.7 L644.1 1106.5"/>
<path class="h" d="M650.3 1105.2 L708 1098.9 L711.7 1102.7 L713 1117.7 L655.3 1120.3Z"/>
<path class="t" d="M652.8 1108.2 L709.2 1102.7"/>
<path class="h" d="M662.9 1130.3 L710.5 1125.3 L718 1145.3 L731.8 1192.9 L743.1 1205.5 L745.6 1218 L740.6 1228 L695.4 1233 L682.9 1230.5 L667.9 1175.4Z"/>
<path class="l" d="M667.9 1150.3 L716.7 1145.3"/>
<path class="l" d="M662.9 1160.4 L720.5 1156.6 L731.8 1192.9 L675.4 1195.4Z"/>
<path class="h" d="M684.2 1200.5 L733 1195.4 L740.6 1225.5 L692.9 1230.5Z"/>
<path class="h" d="M687.4 1204.2 L733 1199.7"/>
<path class="h" d="M689.2 1211.2 L734.8 1206.7"/>
<path class="h" d="M690.9 1218.2 L736.5 1213.7"/>
<path class="h" d="M692.7 1225.3 L738.3 1220.8"/>
<path class="l" d="M630.3 1112.7 L637.8 1107.7 L650.3 1110.2"/>
<path class="h" d="M630.3 1112.7 L630.3 1140.3 L640.3 1205.5 L660.4 1228 L670.4 1225.5"/>
<path class="t" d="M637.8 1120.3 L660.4 1130.3"/>
<path class="l" d="M640.3 1125.3 L645.3 1150.3 L655.3 1205.5 L670.4 1220.5"/>
<path class="l" d="M713 1105.2 L723 1107.7 L729.3 1117.7 L733 1140.3"/>
<path class="l" d="M715.5 1140.3 L728 1142.8 L738 1180.4 L745.6 1210.5"/>
<path class="l" d="M640.3 1185.4 C641.6 1185.6 646.4 1185.4 647.8 1186.7 C649.3 1187.9 649.9 1191.5 649.1 1192.9 C648.2 1194.4 643.9 1195 642.8 1195.4"/>
<path class="b" d="M688.4 1205 L733.5 1200.5"/>
<path class="b" d="M690.4 1213 L736 1208.5"/>
<path class="b" d="M692.4 1221 L738 1216.5"/>
<path class="h" d="M670.4 1127.8 L675.4 1131.5 L680.4 1127.3 L685.4 1131 L690.4 1126.8 L695.4 1130.5 L700.5 1126.3 L706.7 1129.8"/>
<path class="t" d="M631.5 1083.9 L629 1137.8"/>
<path class="t" d="M595.2 1070.1 L600.2 1238"/>
<path class="t" d="M723.5 1060.1 L729.3 1125.3"/>
<path class="t" d="M627.8 1142.8 L637.8 1206.7 L659.1 1230.5"/>
<path class="t" d="M670.4 1180.4 L684.2 1233"/>
<ellipse cx="566" cy="1190" rx="26.5" ry="33" transform="rotate(-8 566 1190)" fill="none" stroke="#000" stroke-width="4.5"/>
<path class="h" d="M632.8 1192.9 C631.3 1192.9 626.1 1191.7 624 1192.9 C621.9 1194.2 620.5 1188.3 620.3 1200.5 C620 1212.6 621.1 1253.5 622.8 1265.6 C624.4 1277.7 618.2 1272.7 630.3 1273.1 C642.4 1273.6 683.7 1270.2 695.4 1268.1 C707.1 1266 699.6 1265.2 700.5 1260.6 C701.3 1256 700.5 1243.9 700.5 1240.6"/>
<path class="h" d="M635.3 1196.7 C634.9 1197.7 632.8 1192.3 632.8 1203 C632.8 1213.6 634 1249.9 635.3 1260.6 C636.5 1271.3 637 1265.8 640.3 1266.9 C643.6 1267.9 652.8 1266.9 655.3 1266.9"/>
<path class="h" d="M655.3 1233 L656.6 1268.1"/>
<path class="h" d="M664.1 1233 L665.4 1268.1"/>
<path class="h" d="M672.9 1233 L674.1 1268.1"/>
<path class="h" d="M681.7 1233 L682.9 1268.1"/>
<path class="h" d="M690.4 1233 L691.7 1268.1"/>
<path class="l" d="M607.7 1205.5 C608.1 1201.7 608.1 1188.3 610.2 1182.9 C612.3 1177.5 616.9 1175 620.3 1172.9 C623.6 1170.8 628.6 1170.8 630.3 1170.4"/>
<path class="t" d="M616.5 1250.6 C616.8 1245.6 617.6 1228.9 618.2 1220.5 C618.9 1212.1 619.9 1203.8 620.3 1200.5"/>
<path class="l" d="M520 1240.6 L595.2 1233"/>
<path class="l" d="M520 1251.8 L592.7 1246.3"/>
<path class="t" d="M520 1260.6 L620.3 1255.6"/>
<path class="l" d="M705.5 1245.6 L710.5 1258.1 L745.6 1258.1 L755.6 1248.1"/>
<path class="t" d="M720.5 1238 L733 1243.1 L740.6 1233"/>
<path class="l" d="M657.5 600 L661.3 653.9"/>
<path class="l" d="M672.6 600 L676.3 650.1"/>
<path class="l" d="M683.9 600 L685.1 647.6"/>
<path class="l" d="M640 653.9 C645 652.8 662.6 648.5 670.1 647.6 C677.6 646.8 682.6 648.7 685.1 648.9"/>
<path class="t" d="M640 662.7 C644.2 663.2 659.6 666.1 665.1 665.7 C670.5 665.2 671.3 661.1 672.6 660.2"/>
</g>
<!-- h_hub.svg -->
<g id="h_hub">
<path class="h" d="M871.3 1220 L867.6 1052.8 L974.1 1049.8"/>
<path class="l" d="M975.3 1052.8 L977.3 1195.7"/>
<path class="t" d="M871.3 1056.6 L905.2 1061.6 L917.7 1060.4 L972.8 1056.6"/>
<path class="l" d="M903.9 1060.4 L908.9 1220"/>
<path class="l" d="M915.2 1060.4 L921.5 1220"/>
<path class="t" d="M867.6 1052.8 L902.7 1046.6"/>
<path class="l" d="M902.7 1045.3 L924 1004 L959 1001.5"/>
<path class="t" d="M924 1004 L922.7 1016.5 L937.7 1019"/>
<path class="l" d="M985.4 999.7 L1035.5 1007.7"/>
<path class="t" d="M957.8 1015.2 L970.3 1024 L976.6 1016.5"/>
<path class="t" d="M990.4 1007.7 L1030.5 1014"/>
<path d="M880.1 1047.8 C879.9 1039 877.8 1009.8 878.8 995.2 C879.9 980.6 882.4 969.1 886.4 960.1 C890.3 951.1 897.4 945.1 902.7 941.3 C907.9 937.5 912.7 936.8 917.7 937 C922.7 937.3 927.7 938.3 932.7 942.6 C937.7 946.8 943.8 953.8 947.8 962.6 C951.7 971.4 954.7 981.4 956.5 995.2 C958.4 1009 958.4 1028.6 959 1045.3 C959.7 1062 960.1 1087.1 960.3 1095.4 L941.5 1095.4 C941.1 1082.9 940.3 1039 939 1020.3 C937.7 1001.5 936.3 992.3 934 982.7 C931.7 973 928.3 966.9 925.2 962.6 C922.1 958.3 918.5 956.7 915.2 957.1 C911.8 957.5 907.9 959.6 905.2 965.1 C902.4 970.6 899.7 976.6 898.9 990.2 C898.1 1003.8 899.9 1037.2 900.2 1046.6 Z" fill="#fff" stroke="none"/>
<path class="l" d="M880.1 1047.8 C879.9 1039 877.8 1009.8 878.8 995.2 C879.9 980.6 882.4 969.1 886.4 960.1 C890.3 951.1 897.4 945.1 902.7 941.3 C907.9 937.5 912.7 936.8 917.7 937 C922.7 937.3 927.7 938.3 932.7 942.6 C937.7 946.8 943.8 953.8 947.8 962.6 C951.7 971.4 954.7 981.4 956.5 995.2 C958.4 1009 958.4 1028.6 959 1045.3 C959.7 1062 960.1 1087.1 960.3 1095.4"/>
<path class="l" d="M900.2 1046.6 C899.9 1037.2 898.1 1003.8 898.9 990.2 C899.7 976.6 902.4 970.6 905.2 965.1 C907.9 959.6 911.8 957.5 915.2 957.1 C918.5 956.7 922.1 958.3 925.2 962.6 C928.3 966.9 931.7 973 934 982.7 C936.3 992.3 937.7 1001.5 939 1020.3 C940.3 1039 941.1 1082.9 941.5 1095.4"/>
<path class="l" d="M941.5 1095.4 L960.3 1095.4"/>
<path class="l" d="M878.8 996.4 L898.9 997.7"/>
<path class="l" d="M1000.4 1045.3 C1002.9 1047.8 1011.7 1054.8 1015.4 1060.4 C1019.2 1065.9 1019.9 1071 1022.7 1078.8 C1025.5 1086.6 1029.8 1096 1032.1 1107 C1034.5 1118 1036.5 1132.1 1036.8 1144.6 C1037.1 1157.1 1036.3 1169.6 1034 1182.2 C1031.6 1194.7 1027.4 1208.8 1022.7 1219.8 C1018 1230.7 1012.7 1240.1 1005.8 1248 C998.9 1255.8 985.4 1263.6 981.4 1266.8"/>
<path class="l" d="M1022.7 1071.3 C1026.3 1075.7 1039.6 1088.5 1044.3 1097.6 C1049 1106.7 1049.5 1116.4 1050.9 1125.8 C1052.3 1135.2 1053.1 1143 1052.8 1154 C1052.5 1164.9 1051.5 1179 1049 1191.6 C1046.5 1204.1 1042.4 1218.2 1037.7 1229.2 C1033 1240.1 1026.8 1250.2 1020.8 1257.4 C1014.9 1264.6 1008.3 1269.1 1002 1272.4 C995.8 1275.7 986.4 1276.3 983.2 1277.1"/>
<path class="l" d="M1044.3 1097.6 L1060.3 1096.7"/>
<path class="l" d="M1084.7 1093.8 L1105.4 1093.8"/>
<path class="l" d="M1090.4 1093.8 C1091.6 1099.2 1096.5 1115.8 1097.9 1125.8 C1099.3 1135.8 1099.3 1143 1098.8 1154 C1098.4 1164.9 1097.4 1179.7 1095.1 1191.6 C1092.7 1203.5 1089.3 1215.1 1084.7 1225.4 C1080.2 1235.8 1074.1 1246.1 1067.8 1253.6 C1061.6 1261.1 1052.8 1267.1 1047.1 1270.5 C1041.5 1274 1036.2 1273.7 1034 1274.3"/>
<path class="l" d="M1105.4 1093.8 C1106 1097.6 1108.4 1106.4 1109.2 1116.4 C1110 1126.4 1110.4 1141.5 1110.1 1154 C1109.8 1166.5 1109 1180.6 1107.3 1191.6 C1105.6 1202.5 1103.2 1210.7 1099.8 1219.8 C1096.3 1228.9 1091.6 1238.9 1086.6 1246.1 C1081.6 1253.3 1075.3 1258.6 1069.7 1263 C1064.1 1267.4 1058.1 1270.4 1052.8 1272.4 C1047.5 1274.4 1040.3 1274.8 1037.7 1275.2"/>
<path class="l" d="M1105.4 1093.8 C1107 1092 1111.1 1081.3 1114.8 1082.6 C1118.6 1083.8 1124.7 1092.6 1128 1101.4 C1131.3 1110.1 1133.9 1124.5 1134.5 1135.2 C1135.2 1145.8 1133.5 1157.1 1131.7 1165.3 C1130 1173.4 1127.7 1178.7 1124.2 1184.1 C1120.8 1189.4 1113.2 1195 1111.1 1197.2"/>
<path class="t" d="M1087.6 1093.8 C1088.7 1099.2 1093.2 1115.8 1094.5 1125.8 C1095.9 1135.8 1096.1 1143 1095.6 1154 C1095.2 1164.9 1093.1 1182.5 1091.9 1191.6 C1090.7 1200.7 1089.1 1205.7 1088.5 1208.5"/>
<path class="t" d="M983.2 1277.1 L1003.9 1276.2 L1037.7 1275.2"/>
<path class="l" d="M1110.1 1097.6 L1118.6 1114.5 L1112.9 1125.8 L1121.4 1135.2 L1114.8 1144.6 L1121.4 1150.2 L1115.8 1161.5 L1117.6 1169 L1111.1 1176.5"/>
<path class="t" d="M1107.3 1097.6 C1108.1 1102.3 1111.1 1116.4 1112 1125.8 C1112.9 1135.2 1112.9 1144.6 1112.6 1154 C1112.2 1163.4 1110.5 1177.5 1110.1 1182.2"/>
<path class="h" d="M1060.3 1096.7 C1063.7 1091.3 1079.1 1087.4 1084.7 1093.8 C1090.4 1100.3 1092.3 1122 1094.1 1135.2 C1096 1148.3 1096.6 1160.3 1096 1172.8 C1095.4 1185.3 1096.3 1203.3 1090.4 1210.4 C1084.4 1217.4 1064.7 1218.2 1060.3 1215.1 C1055.9 1211.9 1063.1 1201.8 1064.1 1191.6 C1065 1181.4 1065.9 1164.9 1065.9 1154 C1065.9 1143 1065 1135.3 1064.1 1125.8 C1063.1 1116.2 1056.9 1102 1060.3 1096.7Z"/>
<path class="k" d="M1065.9 1102.3 L1081 1100.8 L1081.9 1106.4 L1072.5 1109.8 L1066.5 1108.7Z"/>
<path class="k" d="M1067.4 1113.2 L1082.4 1111.7 L1083.3 1117.3 L1073.9 1120.7 L1067.9 1119.6Z"/>
<path class="k" d="M1068.6 1124.1 L1083.6 1122.6 L1084.6 1128.2 L1075.2 1131.6 L1069.2 1130.5Z"/>
<path class="k" d="M1069.5 1135 L1084.6 1133.5 L1085.5 1139.1 L1076.1 1142.5 L1070.1 1141.4Z"/>
<path class="k" d="M1070 1145.9 L1085 1144.4 L1086 1150 L1076.6 1153.4 L1070.6 1152.3Z"/>
<path class="k" d="M1070 1156.8 L1085 1155.3 L1086 1160.9 L1076.6 1164.3 L1070.6 1163.2Z"/>
<path class="k" d="M1069.5 1167.7 L1084.6 1166.2 L1085.5 1171.8 L1076.1 1175.2 L1070.1 1174.1Z"/>
<path class="k" d="M1068.6 1178.6 L1083.6 1177.1 L1084.6 1182.7 L1075.2 1186.1 L1069.2 1185Z"/>
<path class="k" d="M1067.4 1189.5 L1082.4 1188 L1083.3 1193.6 L1073.9 1197 L1067.9 1195.9Z"/>
<path class="k" d="M1065.9 1200.4 L1081 1198.9 L1081.9 1204.5 L1072.5 1207.9 L1066.5 1206.8Z"/>
<path class="h" d="M1088.5 1152.1 L1096 1152.1"/>
<path class="l" d="M1092.3 1148.3 L1092.3 1157.7"/>
<path class="l" d="M975.7 1099.5 C977.6 1102.3 983.9 1108.9 987 1116.4 C990.1 1123.9 993.6 1135.2 994.5 1144.6 C995.5 1154 995.1 1164.9 992.6 1172.8 C990.1 1180.6 981.7 1188.4 979.5 1191.6"/>
<path class="l" d="M977.6 1107 C978.8 1110.1 983.2 1118.6 985.1 1125.8 C987 1133 988.7 1142.4 988.9 1150.2 C989 1158.1 987.8 1166.5 986.1 1172.8 C984.3 1179 979.8 1185.3 978.5 1187.8"/>
<path class="t" d="M976.7 1103.2 C978.2 1106.2 983.5 1113.7 986.1 1121.1 C988.6 1128.5 991.2 1138.8 991.7 1147.4 C992.2 1156 991.3 1165.7 989.2 1172.8 C987.1 1179.8 980.8 1186.9 979.1 1189.7"/>
<path class="h" d="M1025.5 947.6 L1115.7 982.7"/>
<path class="l" d="M1115.7 982.7 C1116.6 983.3 1120.2 984.7 1121.2 986.4 C1122.2 988.1 1122.2 990.6 1122 992.7 C1121.7 994.8 1119.9 997.9 1119.4 998.9"/>
<path class="l" d="M1119.4 998.9 L1058 1092.9"/>
<path class="l" d="M1061.8 968.9 L1012.9 1050.3 L1034.2 1092.9 L1050.5 1095.4"/>
<path class="t" d="M1081.9 977.6 L1024.2 1070.4"/>
<path class="h" d="M1101.9 983.9 L1034.2 1092.9"/>
<path class="l" d="M1111.9 988.9 L1051.8 1094.2"/>
<path class="t" d="M1101.9 983.9 L1109.4 985.7 L1115.7 992.7"/>
<path class="l" d="M1240 960.1 L1175.8 987.7 L1105.7 1092.9"/>
<path class="t" d="M1144.5 1037.8 L1160.8 1092.9"/>
<path class="l" d="M1128.2 1097.1 L1160.2 1093.3 L1177.1 1091.4"/>
<path class="l" d="M1134.8 1168.5 L1177.1 1163.8"/>
<path class="l" d="M1177.1 1091.4 C1178.9 1093.3 1185.7 1097.1 1188.3 1102.7 C1191 1108.3 1192.7 1117.7 1193 1125.3 C1193.4 1132.8 1191.9 1141.9 1190.2 1147.8 C1188.5 1153.8 1184.9 1158.3 1182.7 1161 C1180.5 1163.6 1178 1163.3 1177.1 1163.8"/>
<path class="h" d="M1185.5 1082 C1186.9 1080.3 1190.1 1074.2 1194 1071.7 C1197.9 1069.2 1203.1 1067.6 1209 1067 C1215 1066.4 1224.7 1066.4 1229.7 1067.9 C1234.7 1069.5 1236.6 1071.8 1239.1 1076.4 C1241.6 1080.9 1242.5 1089.5 1244.7 1095.2 C1246.9 1100.8 1249.7 1106.2 1252.3 1110.2 C1254.8 1114.3 1258.4 1115.2 1259.8 1119.6 C1261.2 1124 1261 1131.2 1260.7 1136.5 C1260.4 1141.9 1259.1 1147.5 1257.9 1151.6 C1256.6 1155.7 1257.3 1159.1 1253.2 1161 C1249.1 1162.9 1238.3 1163.2 1233.5 1162.9 C1228.6 1162.5 1226.3 1158.5 1224.1 1159.1 C1221.9 1159.7 1224.7 1164.1 1220.3 1166.6 C1215.9 1169.1 1202.8 1173.8 1197.7 1174.1 C1192.7 1174.4 1192.3 1171 1190.2 1168.5 C1188.2 1166 1186.3 1160.7 1185.5 1159.1"/>
<path class="k" d="M1185.5 1082 L1194 1077.9 L1209 1077.9 L1197.7 1085.8 L1188.3 1095.2 L1184.6 1092.4Z"/>
<path class="l" d="M1209 1068.9 C1209.6 1073.3 1210.9 1088.3 1212.8 1095.2 C1214.7 1102.1 1217.2 1105.8 1220.3 1110.2 C1223.4 1114.6 1229.7 1119.6 1231.6 1121.5"/>
<path class="l" d="M1231.6 1121.5 L1259.8 1119.6"/>
<path class="l" d="M1214.7 1070.8 C1215.1 1074.5 1215.8 1087 1217.5 1093.3 C1219.2 1099.6 1222 1104 1225 1108.3 C1228 1112.7 1233.6 1117.7 1235.3 1119.6"/>
<path class="h" d="M1231.6 1121.5 C1231.3 1124.6 1230.6 1134 1229.7 1140.3 C1228.8 1146.6 1226.6 1156 1225.9 1159.1"/>
<path class="l" d="M1239.1 1125.3 C1238.8 1129 1238.2 1141.6 1237.2 1147.8 C1236.3 1154.1 1234.1 1160.4 1233.5 1162.9"/>
<path class="t" d="M1214.7 1080.2 L1239.1 1078.3"/>
<path class="h" d="M1188.3 1100.8 L1210.9 1097.1"/>
<path class="k" d="M1195.9 1130 L1227.8 1127.5 L1227.8 1131.3 L1196.2 1134.7Z"/>
<path class="k" d="M1196.8 1135.6 L1226.3 1142.2 L1225.6 1146.3 L1197.4 1140.3Z"/>
<path class="k" d="M1197.7 1149.7 L1221.2 1153.8 L1220.3 1157.2 L1198.1 1153.8Z"/>
<path class="k" d="M1190.2 1161 L1205.3 1155.3 L1220.3 1151.6 L1221.2 1154.4 L1205.3 1160 L1197.7 1174.1 L1190.2 1168.5Z"/>
<path class="b" d="M1185.5 1082 C1186.9 1080.3 1190.1 1074.2 1194 1071.7 C1197.9 1069.2 1203.1 1067.6 1209 1067 C1215 1066.4 1224.7 1066.4 1229.7 1067.9 C1234.7 1069.5 1236.6 1071.8 1239.1 1076.4 C1241.6 1080.9 1242.5 1089.5 1244.7 1095.2 C1246.9 1100.8 1249.7 1106.2 1252.3 1110.2 C1254.8 1114.3 1258.5 1118.1 1259.8 1119.6"/>
<path class="h" d="M1212.8 1164.7 L1220.3 1162.9"/>
<path class="h" d="M1201.5 1170.4 L1216.5 1165.7"/>
</g>
<!-- i_frame.svg -->
<g id="i_frame">
<path class="h" d="M871 1220 L869 1221.4 L876.5 1435.6"/>
<path class="l" d="M909 1220 L918.4 1580"/>
<path class="l" d="M921.5 1220 L931.7 1580"/>
<path class="l" d="M977 1196 L986.8 1580"/>
<path class="l" d="M981.8 1277.7 L985.6 1368 L1008.1 1580"/>
<path class="t" d="M984.8 1368 L991.2 1368"/>
<path class="h" d="M944.2 1305.9 L966.8 1304.1 L968.6 1317.2 L946.1 1317.2Z"/>
<path class="t" d="M951 1306.7 L951.7 1316.5"/>
<path class="t" d="M957.4 1305.9 L958.1 1316.5"/>
<path class="h" d="M877.8 1605.1 C878.2 1621.8 878.8 1674 880.3 1705.3 C881.8 1736.6 883.6 1768 886.6 1793 C889.5 1818.1 894.3 1841.2 897.8 1855.7 C901.4 1870.2 906.2 1875.9 907.9 1880"/>
<path class="t" d="M882.8 1610.1 C883 1625.9 882.8 1674.8 884.1 1705.3 C885.3 1735.8 887.2 1763.9 890.3 1793 C893.5 1822.1 900.8 1865.5 902.9 1880"/>
<path class="l" d="M918.4 1580 C919.4 1612.6 922.8 1737.9 924.2 1775.5 C925.5 1813.1 924.8 1794.3 926.7 1805.6 C928.5 1816.8 931.1 1830.8 935.4 1843.2 C939.8 1855.6 950.1 1873.9 953 1880"/>
<path class="l" d="M931.7 1580 C932.3 1612.2 934.2 1735.4 935.4 1773 C936.7 1810.6 937.3 1793.9 939.2 1805.6 C941.1 1817.3 941.5 1830.8 946.7 1843.2 C951.9 1855.6 966.6 1873.9 970.5 1880"/>
<path class="l" d="M986.8 1580 C988.1 1611.3 992.2 1728.3 994.3 1768 C996.4 1807.7 996.2 1803.5 999.3 1818.1 C1002.5 1832.7 1008.1 1845.4 1013.1 1855.7 C1018.1 1866 1026.7 1875.9 1029.4 1880"/>
<path class="t" d="M990.1 1580 C991.3 1611.3 995.5 1728.3 997.6 1768 C999.7 1807.7 999.6 1803.9 1002.6 1818.1 C1005.6 1832.3 1011.4 1843.6 1015.6 1853.2 C1019.9 1862.8 1026.1 1872 1028.2 1875.7"/>
<path class="l" d="M1008.1 1580 L1025.7 1790.5 L1029.4 1878.2"/>
<path class="l" d="M924.2 1774.2 L994.3 1768"/>
<path class="l" d="M953 1850.7 L1008.1 1845.7"/>
<path class="l" d="M877.8 1692.8 L773 2105.6"/>
<path class="l" d="M882.8 1720.4 L783.1 2109.3"/>
<path class="h" d="M785.1 1778 L727.9 1999"/>
<path class="h" d="M1074.5 1580 L1028.2 1878.2"/>
<path class="l" d="M1097.1 1580 L1053.2 1880"/>
<path class="l" d="M1107.1 1580 L1062 1880"/>
<path class="l" d="M1138.4 1580 L1095.8 1880"/>
<path class="t" d="M1142.2 1580 L1099.6 1880"/>
<path class="h" d="M1025.7 1790.5 L1040.7 1790.5 L1033.2 1825.6"/>
<path class="h" d="M1029.4 1795.5 L1031.9 1820.6"/>
<path class="h" d="M1034.4 1795.5 L1033.7 1815.6"/>
<path class="l" d="M1087.1 1477 L1132.2 1471.4 L1152.9 1488.3 L1152.9 1499.5"/>
<path class="h" d="M1087.1 1477 L1083.3 1492 L1074.5 1580"/>
<path class="l" d="M1109.6 1495.8 L1152.9 1492"/>
<path class="l" d="M1109.6 1495.8 L1097.1 1580"/>
<path class="l" d="M1087.1 1477 L1109.6 1495.8"/>
<path class="l" d="M1152.9 1499.5 L1138.4 1580"/>
<path class="l" d="M1117.1 1495 L1107.1 1580"/>
<path class="t" d="M1151 1503.3 L1142.2 1580"/>
<path class="t" d="M1092.7 1478.9 L1113.4 1493.9 L1151 1489"/>
<path class="l" d="M565 2014.1 L758 1996.5"/>
<path class="l" d="M570 2066.7 L763 2049.9"/>
<path class="l" d="M758 1996.5 C759.9 1998.4 766.8 2002.6 769.3 2007.8 C771.8 2013 773 2022 773 2027.9 C773 2033.7 770.9 2039.2 769.3 2042.9 C767.6 2046.6 764.1 2048.8 763 2049.9"/>
<path class="l" d="M716.6 2055.4 L773 2105.6"/>
<path class="l" d="M773 2105.6 C773.9 2106.2 776.4 2108.7 778 2109.3 C779.7 2109.9 782.2 2109.3 783.1 2109.3"/>
<path class="l" d="M783.1 2109.3 L839.4 2104.3 L843.2 2100.6"/>
<path class="l" d="M843.2 2100.6 L899.6 1880 L902 1858"/>
<path class="t" d="M839.4 2104.3 L895.8 1880"/>
<path class="h" d="M907.9 1880 C909.5 1883.3 900.6 1867.4 917.6 1900 C934.7 1932.6 993.7 2042.9 1010.4 2075.4 C1027.1 2108 1016.6 2090.1 1017.9 2095.5 C1019.2 2100.9 1018.3 2105.9 1018.4 2108"/>
<path class="l" d="M953 1880 L967.8 1900 L1035.4 2020.3"/>
<path class="l" d="M970.5 1880 L980.3 1900 L1045.5 2020.3"/>
<path class="l" d="M1035.4 2020.3 C1036.7 2023.6 1041.5 2033.7 1043 2040.4 C1044.4 2047 1044.8 2053.7 1044.2 2060.4 C1043.6 2067.1 1041.9 2074.2 1039.2 2080.5 C1036.5 2086.7 1032.7 2093 1027.9 2098 C1023.1 2103 1017.9 2107.2 1010.4 2110.5 C1002.9 2113.9 987.4 2116.8 982.8 2118"/>
<path class="l" d="M1045.5 2020.3 C1046.9 2024.1 1052.6 2035.8 1054.2 2042.9 C1055.9 2050 1056.1 2056.2 1055.5 2062.9 C1054.9 2069.6 1053.4 2076.3 1050.5 2083 C1047.6 2089.6 1043 2098 1037.9 2103 C1032.9 2108 1029.2 2110.1 1020.4 2113 C1011.6 2116 991.2 2119.3 985.3 2120.6"/>
<path class="t" d="M1035.4 2022.8 L1006.6 2070.4"/>
<ellipse class="l" cx="995.5" cy="2064" rx="3.5" ry="5"/>
<path class="t" d="M1006.6 2070.4 C1006 2072.1 1002.2 2077.1 1002.9 2080.5 C1003.5 2083.8 1008.1 2087.6 1010.4 2090.5 C1012.7 2093.4 1015.6 2096.7 1016.6 2098"/>
<path class="l" d="M1080.6 1975.2 C1082.6 1979.4 1088.5 1991.9 1093.1 2000.3 C1097.7 2008.6 1104.2 2017 1108.1 2025.3 C1112.1 2033.7 1114.8 2042 1116.9 2050.4 C1119 2058.7 1120.9 2067.1 1120.7 2075.4 C1120.4 2083.8 1118.1 2092.1 1115.6 2100.5 C1113.1 2108.9 1110.6 2117.6 1105.6 2125.6 C1100.6 2133.5 1093.1 2141.9 1085.6 2148.1 C1078 2154.4 1068.9 2159.4 1060.5 2163.2 C1052.1 2166.9 1043.8 2168.8 1035.4 2170.7 C1027.1 2172.6 1014.6 2173.8 1010.4 2174.4"/>
<path class="l" d="M1084.3 1982.7 C1088.7 1988.6 1104.4 2005.7 1110.6 2017.8 C1116.9 2029.9 1119.8 2044.9 1121.9 2055.4 C1124 2065.8 1123.8 2072.1 1123.2 2080.5 C1122.5 2088.8 1120.9 2097.2 1118.1 2105.5 C1115.4 2113.9 1111.9 2122.8 1106.9 2130.6 C1101.9 2138.3 1095.4 2145.8 1088.1 2151.9 C1080.8 2157.9 1073.9 2162.5 1063 2166.9 C1052.1 2171.3 1029.6 2176.3 1022.9 2178.2"/>
<path class="l" d="M1028.2 1878.2 L1025.4 1900 L1016.6 1955.1 L1035.4 1990.2"/>
<path class="l" d="M1048 1900 L1036.7 1987.7 L1045.5 1996.5 L1078 1994 L1080.6 1975.2 L1086.8 1950.1"/>
<path class="l" d="M1053.2 1880 L1058 1900 L1045.5 1996.5"/>
<path class="l" d="M1095.8 1880 L1095.6 1947.6 L1080.6 1975.2"/>
<path class="h" d="M1093.8 1995 L1440 2113.8"/>
<path class="l" d="M1108.8 2020 L1440 2133.9"/>
<path class="l" d="M1117.6 2041.5 L1440 2150.8"/>
<path class="l" d="M1107.6 2138 L1420 2245.5"/>
<path class="l" d="M1105 2145.5 L1420 2253.3"/>
<path class="l" d="M875 1970.2 C877.5 1970.4 885.1 1968.9 890.1 1971.4 C895.1 1973.9 901.6 1978.7 905.1 1985.2 C908.7 1991.7 911 2001.9 911.4 2010.3 C911.8 2018.6 910.3 2028.7 907.6 2035.3 C904.9 2042 900.9 2047.5 895.1 2050.4 C889.2 2053.3 876.3 2052.5 872.5 2052.9"/>
<path class="t" d="M875 1973.9 C877.1 1974.1 883.4 1972.9 887.6 1975.2 C891.7 1977.5 897.2 1981.9 900.1 1987.7 C903 1993.6 904.8 2002.8 905.1 2010.3 C905.4 2017.8 904.4 2026.8 902.1 2032.8 C899.8 2038.9 895.8 2043.9 891.3 2046.6 C886.8 2049.3 877.8 2048.7 875 2049.1"/>
<path class="h" d="M885.1 1935.1 L915.1 1932.6"/>
<path class="l" d="M882.6 1943.9 L960.3 1972.7"/>
<path class="l" d="M881.3 1958.9 L957.7 1986.5"/>
<path class="l" d="M860 2052.9 L1015.4 2108"/>
<path class="l" d="M860 2060.4 L1002.9 2113"/>
<path class="l" d="M890.1 1900 L860 2020.3"/>
<path class="t" d="M893.8 1900 L863.8 2020.3"/>
<path class="l" d="M840.3 2124.6 L974.3 2113.1 L1027.6 2205.3"/>
<path class="l" d="M840.3 2124.6 L893.6 2225.4"/>
<path class="t" d="M843.2 2130.3 L890.7 2224"/>
<path class="l" d="M789.9 2175 C794.2 2167.3 810.5 2137.1 815.8 2128.9 C821.1 2120.7 817.7 2126.7 821.6 2126 C825.4 2125.3 836 2124.8 838.8 2124.6"/>
<path class="t" d="M824.4 2136.1 L838.8 2133.2 L841.7 2136.1 L887.8 2225.4"/>
<path class="h" d="M791.3 2177.9 L820.1 2133.2 L854.7 2185.1 L856.1 2192.3 L828.8 2239.9 L821.6 2239.9Z"/>
<path class="t" d="M795.6 2177.9 L821 2139 L850.4 2186.5 L826.7 2234.1"/>
<path class="t" d="M856.1 2188 L879.2 2185.1"/>
<path class="l" d="M828.8 2241.3 L890.7 2232.7"/>
<path class="t" d="M824.4 2136.1 L820.1 2133.2"/>
<path class="l" d="M712 2180.8 L787 2173.6"/>
<path class="t" d="M716.4 2186.5 L791.3 2179.3"/>
<path class="l" d="M712 2180.8 L644.3 2288.8 L650.1 2300.4 L955.6 2273 L975.7 2242.7"/>
<path class="t" d="M716.4 2186.5 L650.1 2294.6"/>
<path class="t" d="M787 2173.6 L789.9 2179.3"/>
<path class="l" d="M893.6 2225.4 L915.2 2247.1 L928.2 2242.7 L1057.9 2232.7"/>
<path class="l" d="M1057.9 2232.7 C1059.5 2231.5 1066 2229 1068 2225.4 C1069.9 2221.8 1070.1 2214.4 1069.4 2211 C1068.7 2207.7 1064.6 2206.2 1063.6 2205.3"/>
<path class="l" d="M1063.6 2205.3 L931.1 2216.8"/>
<path class="l" d="M931.1 2216.8 C930.6 2218.7 929.4 2225.2 928.2 2228.3 C927 2231.5 925.5 2233.6 923.9 2235.5 C922.2 2237.5 922.7 2241.1 918.1 2239.9 C913.5 2238.7 900.1 2230.2 896.5 2228.3"/>
<path class="t" d="M929.6 2221.1 L1062.2 2209.6"/>
<path class="t" d="M928.2 2238.4 L1060.7 2228.3"/>
<path class="t" d="M915.2 2247.1 L921 2238.4"/>
<path class="t" d="M1011.8 2173.6 L1020.4 2182.2"/>
</g>
<!-- j_charger.svg -->
<g id="j_charger">
<path class="l" d="M650.3 1402 L661.6 1379.4 L669.1 1375.6 L678.5 1377.5 L682.3 1383.2 L693.5 1389.7 L706.7 1390.7"/>
<path class="t" d="M661.6 1396.3 L665.3 1383.2 L672.9 1379.4 L680.4 1383.2"/>
<path class="t" d="M669.1 1375.6 L672.9 1386.9"/>
<path class="t" d="M672.9 1381.3 L678.5 1387.9 L682.3 1383.2"/>
<path class="h" d="M650.3 1402 C649 1403.4 647.8 1403.2 642.8 1410.4 C637.8 1417.6 632.1 1429.4 620.2 1445.2 C608.3 1461 582.3 1490.6 571.4 1505.3 C560.4 1520.1 558 1527.4 554.4 1533.5 C550.8 1539.6 550.5 1540.6 549.7 1542"/>
<path class="l" d="M661.6 1396.3 L637.1 1441.1 L555.4 1538.2"/>
<path class="h" d="M637.1 1441.1 L638.1 1467.7 L585.5 1532.6"/>
<path class="l" d="M549.7 1542 L584.5 1533.5"/>
<path class="h" d="M584.5 1533.5 L640.9 1550.5"/>
<path class="l" d="M640.9 1550.5 L659.7 1520.4 L639 1469.6"/>
<path class="h" d="M549.7 1542 C549.6 1546.2 548.3 1558.5 548.8 1567.4 C549.3 1576.2 551.8 1589.6 552.6 1595 C553.3 1600.4 547.9 1584.5 553.1 1600 C558.2 1615.5 578.4 1673.5 583.4 1688.2"/>
<path class="t" d="M552.2 1542.9 C552 1547 550.5 1558.7 551.1 1567.4 C551.6 1576 554.5 1589.6 555.4 1595 C556.3 1600.4 551.3 1584.9 556.4 1600 C561.5 1615.1 581.2 1671.2 586.2 1685.5"/>
<path class="h" d="M584.5 1533.5 C583.9 1537.6 580.8 1547.7 580.8 1558 C580.8 1568.2 583.6 1588 584.5 1595 C585.4 1602 583.1 1590.9 586.2 1600 C589.2 1609.1 592.1 1627.1 602.7 1649.6 C613.3 1672.1 641.8 1720.9 649.6 1735.1"/>
<path class="h" d="M640.9 1550.5 L663.4 1600 L724 1713"/>
<path class="l" d="M706.7 1390.7 L793.2 1439.5"/>
<path class="h" d="M688.8 1392.2 L792.2 1514.7"/>
<path class="l" d="M661.6 1396.3 L688.8 1392.2"/>
<path class="h" d="M661.6 1396.3 C663.5 1399.4 666.6 1407 672.9 1415.1 C679.1 1423.3 689.8 1435.2 699.2 1445.2 C708.6 1455.2 718.6 1465.9 729.2 1475.3 C739.9 1484.7 752.4 1494.7 763.1 1501.6 C773.7 1508.5 788.1 1514.1 793.2 1516.6"/>
<path class="h" d="M637.1 1441.4 C639.3 1445.2 643.1 1454.6 650.3 1464 C657.5 1473.4 669.7 1486.5 680.4 1497.8 C691 1509.1 702.6 1521.6 714.2 1531.7 C725.8 1541.7 744 1553.6 749.9 1558"/>
<path class="l" d="M639 1469.6 C641.2 1473.4 645.3 1483.1 652.2 1492.2 C659.1 1501.3 669.4 1512.9 680.4 1524.1 C691.3 1535.4 705.4 1548.6 718 1559.8 C730.5 1571.1 749.3 1586.5 755.6 1591.8"/>
<path class="h" d="M793 1517.2 L883.9 1510.3 L919.8 1542 L918.4 1561.3 L875.7 1604 L793 1542"/>
<path class="t" d="M795.7 1521.3 L882.6 1514.4 L915.6 1543.3 L914.8 1559.9 L875.7 1599.9"/>
<path class="h" d="M793 1517.2 L748.8 1553 L748.8 1572.3 L784.7 1613.7 L787.4 1619.2"/>
<path class="t" d="M795.7 1521.3 L753 1555.2 L753 1570.9 L788.8 1612.3"/>
<path class="h" d="M787.4 1619.2 L790.2 1613.8 L724 1713"/>
<path class="t" d="M791.6 1620.5 L786.1 1620.7 L726.8 1717.2"/>
<path class="h" d="M875.7 1604 L878.4 1608.3 L815 1704.8"/>
<path class="l" d="M881.2 1605.4 L883.9 1690"/>
<path class="l" d="M793 1542 L791.6 1577.8 L773.7 1588.8"/>
<path class="l" d="M793 1542 L875.7 1604"/>
<path class="k" d="M755.7 1557.1 L788.8 1554.4 L788.8 1561.3 L755.7 1564.6Z"/>
<path class="k" d="M757.1 1569.5 L788.8 1566.8 L788.8 1575.1 L761.2 1578.4Z"/>
<path class="l" d="M773.7 1588.8 L779.2 1583.3 L817.8 1581.9 L820.5 1591.6 L812.3 1594.4 L809.5 1599.9 L787.4 1602.6"/>
<path class="l" d="M787.4 1602.6 L819.1 1599.9 L812.3 1635.7 L779.2 1639.8"/>
<path class="t" d="M816.4 1601.2 L820.5 1602.6 L815 1637.1"/>
<path class="l" d="M817.8 1522.7 L837.1 1547.5 L848.1 1542 L848.1 1525.4"/>
<path class="t" d="M867.4 1517.2 L861.9 1547.5"/>
<path class="h" d="M848.1 1547.5 L875.7 1539.2 L900.5 1536.5 L900.5 1550.2 L872.9 1572.3 L870.2 1550.2"/>
<ellipse class="h" cx="867" cy="1551" rx="2" ry="2.5"/>
<ellipse class="h" cx="859" cy="1556" rx="2" ry="2.5"/>
<path class="h" d="M748.8 1470.2 L762.6 1451.4 L816.4 1487.7 L802.7 1510.3Z"/>
<path class="b" d="M751.5 1472.2 L765.3 1453.2"/>
<path class="b" d="M756.9 1476.2 L770.6 1456.8"/>
<path class="b" d="M762.2 1480.2 L776 1460.4"/>
<path class="b" d="M767.6 1484.2 L781.4 1464.1"/>
<path class="b" d="M773 1488.2 L786.8 1467.7"/>
<path class="b" d="M778.4 1492.2 L792.2 1471.3"/>
<path class="b" d="M783.8 1496.2 L797.6 1475"/>
<path class="b" d="M789.2 1500.2 L803 1478.6"/>
<path class="b" d="M794.6 1504.2 L808.4 1482.2"/>
<path class="b" d="M800 1508.2 L813.7 1485.9"/>
<path class="h" d="M756.3 1441.3 L762.6 1433.8 L770.1 1433.2 L793.9 1442.6"/>
<path class="h" d="M756.3 1441.3 L815.2 1480.2 L816.4 1487.7"/>
<path class="l" d="M760.7 1438.2 L817.7 1476.4"/>
<path class="h" d="M796.4 1438.8 L884.1 1439.4 L919.2 1466.4 L917.9 1480.2 L911.7 1494 L886.6 1507.7 L806.4 1510.3"/>
<path class="k" d="M865.3 1441.3 L884.1 1440.1 L915.4 1465.1 L890.4 1468.9Z"/>
<path class="h" d="M817.7 1441.3 L855.3 1468.9 L917.9 1466.4"/>
<path class="h" d="M826.5 1441.3 L864.1 1467.6"/>
<path class="l" d="M852.8 1438.8 L851.5 1447.6 L859 1448.8 L862.8 1441.3"/>
<path class="h" d="M791.4 1446.3 C792 1445.3 792.8 1441.4 795.1 1440.1 C797.4 1438.7 801.8 1438 805.2 1438.2 C808.5 1438.4 813.5 1440.8 815.2 1441.3"/>
<path class="h" d="M798.9 1451.4 C799.9 1450.1 802.4 1445.3 805.2 1443.8 C807.9 1442.4 813.5 1442.8 815.2 1442.6"/>
<path class="h" d="M798.9 1451.4 L800.2 1457.6 L807.7 1457.6 L807.7 1462.6 L825.2 1475.2"/>
<path class="h" d="M815.2 1480.2 L830.2 1483.9 L835.2 1480.2 L840.3 1475.2 L850.3 1472.7"/>
<path class="h" d="M832.7 1485.2 L877.8 1500.2 L884.1 1496.5 L881.6 1490.2 L875.3 1490.2"/>
<path class="h" d="M837.7 1492.7 L875.3 1505.2"/>
<path class="h" d="M857.8 1472.7 L894.1 1485.2 L901.7 1480.2 L896.6 1476.4 L890.4 1480.2"/>
<path class="h" d="M860.3 1480.2 L892.9 1490.2 L902.9 1485.2 L915.4 1483.9"/>
<path class="h" d="M827.7 1485.2 L832.7 1505.2 L839 1509"/>
<ellipse class="h" cx="828" cy="1473" rx="2.5" ry="3"/>
<path class="h" d="M740 1475.2 L790.1 1515.3 L751.3 1560"/>
<path class="h" d="M793.9 1516.5 L839 1511.5 L884.1 1511.5 L921.7 1539.1"/>
<path class="t" d="M792.6 1520.3 L839 1514 L881.6 1514 L920.5 1542.8"/>
<path class="l" d="M815.2 1522.8 L817.7 1529 L839 1547.8 L847.8 1546.6 L847.8 1527.8 L839 1519"/>
<path class="t" d="M832.7 1519 L835.2 1534.1 L846.5 1535.3"/>
<path class="t" d="M867.8 1516.5 L862.8 1541.6"/>
<path class="h" d="M875.3 1410 L871.6 1438.8"/>
<path class="l" d="M877.8 1410 L877.8 1438.8"/>
<path class="h" d="M583.4 1688.2 L532.4 1773.7 L575.1 1850.9 L594.4 1860.5 L668.9 1857.8 L740.6 1848.1 L779.2 1782"/>
<path class="h" d="M586.2 1685.5 L628.9 1762.7 L637.2 1779.2"/>
<path class="h" d="M628.9 1762.7 L576.5 1849.5"/>
<path class="h" d="M637.2 1779.2 L594.4 1860.5"/>
<path class="l" d="M713 1776.5 L668.9 1857.8"/>
<path class="t" d="M536.5 1776.5 L577.9 1848.1"/>
<path class="h" d="M649.6 1735.1 L724 1713"/>
<path class="t" d="M651 1739.2 L721.3 1718.6"/>
<path class="h" d="M649.6 1735.1 L630.3 1764 L637.2 1779.2 L729.5 1773.7 L773.7 1765.4"/>
<path class="t" d="M634.4 1765.4 L639.9 1776.5 L729.5 1769.6"/>
<path class="h" d="M638.6 1765.4 L724 1759.9"/>
<path class="t" d="M663.4 1743.4 L674.4 1765.4"/>
<path class="l" d="M699.2 1732.3 C701.5 1730.5 709.1 1721.8 713 1721.3 C716.9 1720.9 721 1725 722.6 1729.6 C724.3 1734.2 724.3 1744.3 722.6 1748.9 C721 1753.5 714.6 1755.8 713 1757.2"/>
<path class="t" d="M704.7 1737.9 C706.1 1736.5 710.9 1729.6 713 1729.6 C715.1 1729.6 716.4 1734.6 717.1 1737.9 C717.8 1741.1 717.1 1747 717.1 1748.9"/>
<path class="t" d="M668.9 1746.1 C670.3 1745.2 673.5 1741.1 677.2 1740.6 C680.8 1740.2 687.3 1741.8 690.9 1743.4 C694.6 1745 697.4 1747 699.2 1750.3 C701 1753.5 701.5 1760.6 702 1762.7"/>
<path class="h" d="M724 1713 L737.8 1732.3 L751.6 1759.9 L757.1 1768.2"/>
<path class="h" d="M737.8 1702 L795.7 1696.5 L809.5 1713"/>
<path class="h" d="M743.3 1729.6 L795.7 1721.3 L809.5 1726.8"/>
<path class="h" d="M740.6 1735.1 L795.7 1728.2"/>
<path class="h" d="M795.7 1696.5 L806.7 1735.1 L817.8 1743.4"/>
<path class="t" d="M751.6 1691 L768.1 1699.3"/>
<path class="t" d="M776.4 1646.9 L795.7 1682.7 L801.2 1696.5"/>
<ellipse class="h" cx="786" cy="1667" rx="2.5" ry="3"/>
<ellipse class="h" cx="794" cy="1689" rx="2.5" ry="3"/>
<path class="h" d="M815 1704.8 L867.4 1713 L870.2 1718.6 L850.9 1737.9 L831.6 1754.4"/>
<path class="t" d="M817.8 1708.9 L864.6 1717.2"/>
<path class="l" d="M845.3 1663.4 L870.2 1713"/>
<path class="h" d="M812.3 1715.8 L828.8 1710.3 L850.9 1721.3"/>
<path class="h" d="M831.6 1754.4 L845.3 1743.4 L856.4 1729.6"/>
<path class="k" d="M795.7 1747.5 C800.8 1744.3 817.8 1741.3 823.3 1743.4 C828.8 1745.4 828.3 1754.4 828.8 1759.9 C829.3 1765.4 831.1 1773.3 826 1776.5 C821 1779.6 804 1781 798.5 1778.7 C793 1776.4 793.4 1767.9 793 1762.7 C792.5 1757.5 790.7 1750.7 795.7 1747.5Z"/>
<ellipse class="l" cx="774.2" cy="1764" rx="4" ry="15" transform="rotate(-8 774.2 1764)"/>
<ellipse class="l" cx="777.8" cy="1764" rx="4" ry="15" transform="rotate(-8 777.8 1764)"/>
<ellipse class="l" cx="781.4" cy="1764" rx="4" ry="15" transform="rotate(-8 781.4 1764)"/>
<ellipse class="l" cx="785" cy="1764" rx="4" ry="15" transform="rotate(-8 785 1764)"/>
<ellipse class="l" cx="788.5" cy="1764" rx="4" ry="15" transform="rotate(-8 788.5 1764)"/>
<ellipse class="l" cx="792.1" cy="1764" rx="4" ry="15" transform="rotate(-8 792.1 1764)"/>
<ellipse class="l" cx="795.7" cy="1764" rx="4" ry="15" transform="rotate(-8 795.7 1764)"/>
<ellipse class="t" cx="816" cy="1777" rx="14" ry="17" transform="rotate(-10 816 1777)"/>
<path class="t" d="M784.7 1780.6 L754.4 1930"/>
<path class="h" d="M553.1 1768.2 C554 1767.3 556.3 1763.8 558.6 1762.7 C560.9 1761.5 565.5 1761.5 566.9 1761.3"/>
<path class="h" d="M579.3 1790.2 C579.3 1792.1 580.4 1797.8 579.3 1801.3 C578.1 1804.7 573.5 1809.3 572.4 1810.9"/>
<path class="h" d="M575.1 1757.2 L583.4 1732.3"/>
<path class="h" d="M579.3 1772.3 L597.2 1740.6"/>
<path class="h" d="M582 1773.7 L598.6 1759.9"/>
<ellipse class="h" cx="564" cy="1789" rx="4" ry="6" transform="rotate(-30 564 1789)"/>
<path class="h" d="M548.9 1772.3 L551.7 1782 L554.5 1776.5"/>
<path class="h" d="M566.9 1812.3 L575.1 1809.5 L571 1816.4"/>
<path class="h" d="M582 1729.6 L586.2 1735.1 L580.7 1735.1"/>
</g>
<!-- k_clamp.svg -->
<g id="k_clamp">
<path class="h" d="M1145.3 1547.7 L1164.8 1558.2 L1164.1 1572.5"/>
<path class="l" d="M1148.3 1555.2 L1158.8 1561.2 L1158 1570.2"/>
<path class="t" d="M1148.3 1555.2 L1147.5 1564.2"/>
<path class="h" d="M1142.3 1570.2 L1212.9 1609.3 L1209.9 1624.4 L1139.2 1588.3Z"/>
<path class="b" d="M1147.2 1574.3 L1146 1588.6"/>
<path class="b" d="M1154.2 1578.1 L1153 1592.3"/>
<path class="b" d="M1161.2 1581.8 L1160 1596.1"/>
<path class="b" d="M1168.1 1585.5 L1166.9 1599.8"/>
<path class="b" d="M1175.1 1589.2 L1173.9 1603.5"/>
<path class="b" d="M1182.1 1592.9 L1180.9 1607.2"/>
<path class="b" d="M1189 1596.7 L1187.8 1610.9"/>
<path class="b" d="M1196 1600.4 L1194.8 1614.7"/>
<path class="b" d="M1203 1604.1 L1201.8 1618.4"/>
<path class="l" d="M1139.2 1603.3 L1202.4 1630.4 L1197.9 1660"/>
<path class="t" d="M1138.5 1607.8 L1191.9 1630.4"/>
<path class="l" d="M1136.2 1630.4 L1175.3 1660"/>
<path class="t" d="M1190.4 1627.4 L1199.4 1628.9"/>
<path class="h" d="M1154.3 1628.9 L1160.3 1624.4 L1172.3 1627.4 L1173.8 1633.4 L1172.3 1646.9 L1160.3 1643.9 L1154.3 1639.4Z"/>
<ellipse class="h" cx="1159" cy="1635" rx="4" ry="6"/>
<path class="t" d="M1164.8 1630.4 L1172.3 1631.9"/>
<path class="h" d="M1212.9 1609.3 L1220.5 1609.3 L1222 1598.8 L1229.5 1598.8 L1244.5 1607.8 L1235.5 1660"/>
<path class="l" d="M1212.9 1609.3 L1205.4 1660"/>
<path class="l" d="M1241.5 1609.3 L1214.4 1613.8"/>
<path class="t" d="M1222.7 1600.3 L1228 1604.8 L1241.5 1609.3"/>
<path class="t" d="M1241.5 1610.8 L1233.2 1660"/>
<path class="t" d="M1209.9 1624.4 L1204.7 1660"/>
<path class="h" d="M1130.2 1633.2 L1182.9 1682 L1199.8 1689.5 L1231.7 1685.8 L1241.1 1620"/>
<path class="l" d="M1130.2 1653.8 L1182.9 1683.9"/>
<path class="l" d="M1199.8 1689.5 L1211.1 1620"/>
<path class="t" d="M1132.1 1642.6 L1188.5 1676.4 L1196 1672.6 L1199.8 1638.8"/>
<path class="t" d="M1182.9 1682 L1190.4 1680.2 L1196 1672.6"/>
<path class="t" d="M1203.5 1687.7 L1213.9 1620"/>
<path class="t" d="M1234.5 1682 L1243.9 1620"/>
<path class="h" d="M1154.7 1627.5 L1162.2 1623.8 L1173.5 1627.5 L1172.5 1646.3 L1162.2 1644.4 L1152.8 1638.8Z"/>
<ellipse class="h" cx="1159" cy="1635.5" rx="3" ry="5"/>
<path class="l" d="M1101.9 1851.2 L1146.7 1849.2 L1190.6 1879.4 L1189.6 1889.2 L1126.2 1894 L1098 1875.5 L1098 1868.7 L1126.2 1885.3 L1190.6 1879.4"/>
<path class="l" d="M1126.2 1885.3 L1126.2 1894"/>
<path class="l" d="M1098 1868.7 L1101.9 1851.2"/>
<path class="l" d="M1115.5 1897 L1174 1893.1 L1170.1 1914.5 L1138.9 1945.7 L1101.9 1947.6 L1098 1941.8 L1103.8 1916.5 L1115.5 1912.6Z"/>
<ellipse class="l" cx="1144.5" cy="1915" rx="6" ry="7" transform="rotate(20 1144.5 1915)"/>
<path class="t" d="M1140.9 1920.4 L1148.7 1912.6"/>
<path class="l" d="M1096 1897 C1097.6 1896 1102.8 1891.4 1105.8 1891.1 C1108.7 1890.8 1111.9 1892.7 1113.6 1895 C1115.2 1897.3 1115.8 1901.8 1115.5 1904.8 C1115.2 1907.7 1113.9 1910.9 1111.6 1912.6 C1109.3 1914.2 1103.5 1914.2 1101.9 1914.5"/>
<path class="l" d="M1096 1897 C1095.5 1898.3 1092.9 1902.2 1093.1 1904.8 C1093.3 1907.4 1095.5 1910.9 1097 1912.6 C1098.5 1914.2 1101.1 1914.2 1101.9 1914.5"/>
<path class="t" d="M1105.8 1891.1 C1106.4 1892.7 1109.5 1897.3 1109.7 1900.9 C1109.8 1904.4 1107.2 1910.6 1106.7 1912.6"/>
<path class="l" d="M1092.1 1912.6 L1095 1916.5 L1090.2 1949.6"/>
<path class="l" d="M1062.9 1916.5 L1092.1 1912.6"/>
<path class="l" d="M1090.2 1949.6 L1061.9 1952.5 L1057 1947.6 L1060 1920.4 L1062.9 1916.5"/>
<path class="t" d="M1063.9 1919.4 L1060.9 1947.6 L1063.9 1950.6"/>
<path class="t" d="M1093.1 1914.5 L1088.2 1949.6"/>
<path class="l" d="M1084.3 1951.5 L1078.5 1986.6 L1076.5 1994.4 L1043.4 1997.3 L1035.6 1986.6"/>
<path class="t" d="M1098 1941.8 L1092.1 1914.5"/>
<path class="t" d="M1101.9 1947.6 L1084.3 1951.5"/>
<path class="l" d="M1082.4 1955.4 C1083 1960.3 1083.7 1975.6 1086.3 1984.7 C1088.9 1993.8 1093.7 2001.2 1098 2010 C1102.2 2018.8 1108 2027.6 1111.6 2037.3 C1115.2 2047.1 1118.1 2059.4 1119.4 2068.5 C1120.7 2077.6 1120.4 2084.7 1119.4 2091.9 C1118.4 2099 1115.8 2105.2 1113.6 2111.4 C1111.3 2117.6 1107.1 2126 1105.8 2128.9"/>
<path class="t" d="M1078.5 1974.9 C1079.5 1977.5 1081.4 1984 1084.3 1990.5 C1087.3 1997 1092 2005.8 1096 2013.9 C1100.1 2022 1105.4 2030.2 1108.7 2039.3 C1111.9 2048.4 1114.3 2059.7 1115.5 2068.5 C1116.7 2077.3 1116.7 2084.7 1115.9 2091.9 C1115.1 2099 1113 2104.9 1110.6 2111.4 C1108.3 2117.9 1103.3 2127.6 1101.9 2130.9"/>
</g>
<!-- m_cable.svg -->
<g id="m_cable">
<path d="M994 490 C996.3 494.6 1003.6 507.6 1007.8 517.6 C1012 527.6 1016.1 538.7 1019 550 C1021.9 561.3 1024.2 573.6 1025.3 585.3 C1026.3 597 1025.9 608.7 1025.3 620.4 C1024.7 632.1 1023.5 643.3 1021.6 655.4 C1019.7 667.5 1017.5 678.4 1014 693 C1010.5 707.6 1004.5 728.7 1000.3 743.2 C996.1 757.7 993 763.6 989 780 C985 796.4 980.3 820.7 976.5 841.5 C972.7 862.3 968.4 887.4 966 905 C963.6 922.6 961.5 932.2 962.2 947 C962.8 961.8 966.4 978.3 970 994 C973.7 1009.6 979.7 1027.4 984.1 1041 C988.5 1054.6 993.2 1063.4 996.6 1075.4 C1000 1087.4 1002.9 1101.5 1004.5 1113 C1006 1124.5 1006.7 1134.4 1006 1144.4 C1005.4 1154.3 1003.8 1163.8 1000.4 1172.6 C997 1181.3 992.9 1188.4 985.4 1197 C977.9 1205.6 965.3 1215.2 955.3 1224 C945.3 1232.8 935.3 1241.2 925.3 1249.8 C915.3 1258.3 904 1267.3 895.2 1275.3 C886.4 1283.3 878.2 1292.5 872.6 1298 C867 1303.5 866.8 1300.2 861.5 1308 C856.2 1315.8 845.1 1331.8 841 1345 C836.9 1358.2 836.3 1373.8 837 1387 C837.7 1400.2 842.5 1414.7 845 1424 C847.5 1433.3 850.8 1439.8 852 1443 L861.5 1443 C860.2 1439.8 856 1432.2 854 1424 C852 1415.8 849.5 1405.2 849.5 1394 C849.5 1382.8 849.5 1369.5 854 1357 C858.5 1344.5 869.6 1329.3 876.5 1319 C883.4 1308.7 887.1 1303.5 895.2 1295 C903.3 1286.5 915.3 1276.6 925.3 1267.8 C935.3 1259 945.3 1250.8 955.3 1242 C965.3 1233.2 976.6 1223.7 985.4 1215 C994.2 1206.3 1003 1196.7 1008 1189.6 C1013 1182.5 1013.6 1179.1 1015.4 1172.6 C1017.3 1166.1 1018.7 1160.5 1019.2 1150.6 C1019.7 1140.7 1020.2 1126.6 1018.6 1113 C1016.9 1099.5 1013.1 1082.7 1009.2 1069.2 C1005.3 1055.6 999.5 1044.1 995.1 1031.6 C990.6 1019 985.8 1008.1 982.5 994 C979.3 979.9 976.1 961.8 975.3 947 C974.6 932.2 975.8 921.8 978 905 C980.2 888.2 984.2 867 988.3 846.2 C992.4 825.4 997.9 799.7 1002.8 780 C1007.7 760.3 1013.4 743.8 1017.8 728 C1022.2 712.2 1026.1 698.4 1029 685.5 C1031.9 672.6 1033.8 662.1 1035.3 650.4 C1036.8 638.7 1037.9 627 1038.3 615.3 C1038.7 603.6 1038.9 592 1037.8 580.3 C1036.7 568.6 1034.5 556.9 1031.6 545.2 C1028.7 533.5 1024.3 520.2 1020.3 510 C1016.3 499.8 1009.9 488.2 1007.8 483.8 Z" fill="#fff" stroke="none"/>
<path class="l" d="M994 490 C996.3 494.6 1003.6 507.6 1007.8 517.6 C1012 527.6 1016.1 538.7 1019 550 C1021.9 561.3 1024.2 573.6 1025.3 585.3 C1026.3 597 1025.9 608.7 1025.3 620.4 C1024.7 632.1 1023.5 643.3 1021.6 655.4 C1019.7 667.5 1017.5 678.4 1014 693 C1010.5 707.6 1004.5 728.7 1000.3 743.2 C996.1 757.7 993 763.6 989 780 C985 796.4 980.3 820.7 976.5 841.5 C972.7 862.3 968.4 887.4 966 905 C963.6 922.6 961.5 932.2 962.2 947 C962.8 961.8 966.4 978.3 970 994 C973.7 1009.6 979.7 1027.4 984.1 1041 C988.5 1054.6 993.2 1063.4 996.6 1075.4 C1000 1087.4 1002.9 1101.5 1004.5 1113 C1006 1124.5 1006.7 1134.4 1006 1144.4 C1005.4 1154.3 1003.8 1163.8 1000.4 1172.6 C997 1181.3 992.9 1188.4 985.4 1197 C977.9 1205.6 965.3 1215.2 955.3 1224 C945.3 1232.8 935.3 1241.2 925.3 1249.8 C915.3 1258.3 904 1267.3 895.2 1275.3 C886.4 1283.3 878.2 1292.5 872.6 1298 C867 1303.5 866.8 1300.2 861.5 1308 C856.2 1315.8 845.1 1331.8 841 1345 C836.9 1358.2 836.3 1373.8 837 1387 C837.7 1400.2 842.5 1414.7 845 1424 C847.5 1433.3 850.8 1439.8 852 1443"/>
<path class="l" d="M1007.8 483.8 C1009.9 488.2 1016.3 499.8 1020.3 510 C1024.3 520.2 1028.7 533.5 1031.6 545.2 C1034.5 556.9 1036.7 568.6 1037.8 580.3 C1038.9 592 1038.7 603.6 1038.3 615.3 C1037.9 627 1036.8 638.7 1035.3 650.4 C1033.8 662.1 1031.9 672.6 1029 685.5 C1026.1 698.4 1022.2 712.2 1017.8 728 C1013.4 743.8 1007.7 760.3 1002.8 780 C997.9 799.7 992.4 825.4 988.3 846.2 C984.2 867 980.2 888.2 978 905 C975.8 921.8 974.6 932.2 975.3 947 C976.1 961.8 979.3 979.9 982.5 994 C985.8 1008.1 990.6 1019 995.1 1031.6 C999.5 1044.1 1005.3 1055.6 1009.2 1069.2 C1013.1 1082.7 1016.9 1099.5 1018.6 1113 C1020.2 1126.6 1019.7 1140.7 1019.2 1150.6 C1018.7 1160.5 1017.3 1166.1 1015.4 1172.6 C1013.6 1179.1 1013 1182.5 1008 1189.6 C1003 1196.7 994.2 1206.3 985.4 1215 C976.6 1223.7 965.3 1233.2 955.3 1242 C945.3 1250.8 935.3 1259 925.3 1267.8 C915.3 1276.6 903.3 1286.5 895.2 1295 C887.1 1303.5 883.4 1308.7 876.5 1319 C869.6 1329.3 858.5 1344.5 854 1357 C849.5 1369.5 849.5 1382.8 849.5 1394 C849.5 1405.2 852 1415.8 854 1424 C856 1432.2 860.2 1439.8 861.5 1443"/>
<path class="l" d="M994 490 C995 489 998 484.9 1000.3 483.8 C1002.5 482.6 1006.5 483.1 1007.8 483"/>
<path class="t" d="M1005.3 505.1 C1006.3 504.6 1009.8 503.3 1011.5 502.6 C1013.3 501.8 1015.1 500.9 1015.8 500.6"/>
</g>
<!-- w_wheels.svg -->
<g id="w_wheels">
<path d="M415.5 1843.8 C424.6 1775.7 450.5 1845.7 465.6 1852.6 C480.6 1859.5 494 1871.8 505.7 1885.2 C517.4 1898.5 527 1914.4 535.8 1932.8 C544.5 1951.2 552.9 1974.6 558.3 1995.4 C563.7 2016.3 567.5 2037.2 568.3 2058.1 C569.2 2079 566.7 2101.1 563.3 2120.8 C560 2140.4 555 2159.2 548.3 2175.9 C541.6 2192.6 533.7 2208.5 523.2 2221 C512.8 2233.5 499.4 2244.2 485.6 2251.1 C471.8 2258 453.1 2260.7 440.5 2262.4 C428 2264 414.6 2330.9 410.4 2261.1 C406.3 2191.4 406.3 1911.9 415.5 1843.8Z" fill="#fff" stroke="none"/>
<path class="l" d="M415.5 1843.8 C423.8 1845.3 450.5 1845.7 465.6 1852.6 C480.6 1859.5 494 1871.8 505.7 1885.2 C517.4 1898.5 527 1914.4 535.8 1932.8 C544.5 1951.2 552.9 1974.6 558.3 1995.4 C563.7 2016.3 567.5 2037.2 568.3 2058.1 C569.2 2079 566.7 2101.1 563.3 2120.8 C560 2140.4 555 2159.2 548.3 2175.9 C541.6 2192.6 533.7 2208.5 523.2 2221 C512.8 2233.5 499.4 2244.2 485.6 2251.1 C471.8 2258 453.1 2260.7 440.5 2262.4 C428 2264 415.5 2261.3 410.4 2261.1"/>
<clipPath id="tcL"><path d="M415.5 1843.8 C424.6 1775.7 450.5 1845.7 465.6 1852.6 C480.6 1859.5 494 1871.8 505.7 1885.2 C517.4 1898.5 527 1914.4 535.8 1932.8 C544.5 1951.2 552.9 1974.6 558.3 1995.4 C563.7 2016.3 567.5 2037.2 568.3 2058.1 C569.2 2079 566.7 2101.1 563.3 2120.8 C560 2140.4 555 2159.2 548.3 2175.9 C541.6 2192.6 533.7 2208.5 523.2 2221 C512.8 2233.5 499.4 2244.2 485.6 2251.1 C471.8 2258 453.1 2260.7 440.5 2262.4 C428 2264 414.6 2330.9 410.4 2261.1 C406.3 2191.4 406.3 1911.9 415.5 1843.8Z"/></clipPath>
<path class="tr" clip-path="url(#tcL)" d="M451.5 1866.7 C452 1866.9 453.8 1868.2 454.8 1867.6 C455.7 1867.1 456.5 1864.9 457.3 1863.5 C458.2 1862.1 458.9 1859.8 459.9 1859.3 C460.9 1858.9 462.7 1860.6 463.2 1860.8M452.7 1870 C453.1 1870.1 454.7 1870.8 455.6 1870.3 C456.5 1869.8 457.1 1867.9 457.9 1866.7 C458.8 1865.6 460 1863.6 460.9 1863.2 C461.7 1862.7 462.8 1863.9 463.2 1864.1M464.4 1879.5 C465.1 1879.7 467.1 1881.1 468.3 1880.5 C469.5 1879.9 470.3 1877.4 471.4 1875.9 C472.4 1874.4 473.3 1871.9 474.4 1871.4 C475.6 1870.9 477.7 1872.7 478.3 1873M465.8 1883.1 C466.4 1883.1 468.2 1884 469.3 1883.4 C470.3 1882.8 471 1880.8 472.1 1879.5 C473.1 1878.2 474.5 1876.1 475.5 1875.6 C476.6 1875.1 477.9 1876.4 478.3 1876.6M476.2 1895 C477 1895.2 479.4 1896.7 480.7 1896 C482 1895.4 483 1892.8 484.2 1891.2 C485.3 1889.5 486.3 1886.8 487.7 1886.3 C489 1885.8 491.3 1887.7 492.1 1888M477.8 1898.8 C478.5 1898.9 480.6 1899.8 481.8 1899.2 C483 1898.5 483.8 1896.4 485 1895 C486.1 1893.6 487.7 1891.3 488.9 1890.8 C490.1 1890.3 491.6 1891.7 492.1 1891.9M486.8 1913 C487.6 1913.2 490.3 1914.8 491.7 1914.1 C493.2 1913.5 494.3 1910.7 495.6 1909 C496.9 1907.2 498 1904.4 499.4 1903.8 C500.9 1903.2 503.5 1905.3 504.3 1905.6M488.6 1917.1 C489.3 1917.1 491.6 1918.1 492.9 1917.4 C494.3 1916.8 495.1 1914.5 496.4 1913 C497.8 1911.5 499.5 1909.1 500.8 1908.6 C502.1 1908 503.7 1909.5 504.3 1909.7M496 1933.2 C496.9 1933.4 499.7 1935 501.3 1934.3 C502.8 1933.6 504 1930.8 505.4 1929 C506.8 1927.3 508 1924.4 509.6 1923.8 C511.2 1923.2 514 1925.4 514.9 1925.7M497.9 1937.3 C498.7 1937.4 501.2 1938.4 502.6 1937.7 C504 1937 505 1934.7 506.4 1933.2 C507.8 1931.7 509.7 1929.2 511.1 1928.7 C512.5 1928.1 514.3 1929.6 514.9 1929.8M503.6 1955.2 C504.5 1955.4 507.5 1957 509.2 1956.3 C510.9 1955.6 512.1 1952.8 513.6 1951.1 C515.1 1949.3 516.3 1946.4 518 1945.8 C519.7 1945.3 522.7 1947.4 523.6 1947.7M505.6 1959.3 C506.4 1959.4 509.1 1960.4 510.6 1959.7 C512.1 1959 513.1 1956.7 514.6 1955.2 C516.1 1953.7 518.1 1951.3 519.6 1950.7 C521.1 1950.1 523 1951.6 523.6 1951.8M509.5 1978.8 C510.5 1979 513.6 1980.7 515.4 1980 C517.1 1979.3 518.4 1976.5 520 1974.7 C521.5 1973 522.8 1970 524.6 1969.5 C526.3 1968.9 529.5 1971 530.5 1971.3M511.6 1983 C512.5 1983 515.3 1984 516.8 1983.3 C518.4 1982.7 519.4 1980.3 521 1978.8 C522.6 1977.3 524.7 1974.9 526.3 1974.3 C527.8 1973.8 529.8 1975.3 530.5 1975.5M513.6 2003.7 C514.6 2003.9 517.9 2005.5 519.7 2004.9 C521.5 2004.2 522.9 2001.4 524.4 1999.6 C526 1997.9 527.4 1994.9 529.2 1994.4 C531 1993.8 534.3 1995.9 535.3 1996.2M515.8 2007.9 C516.7 2007.9 519.6 2008.9 521.2 2008.2 C522.8 2007.5 523.9 2005.2 525.5 2003.7 C527.2 2002.2 529.3 1999.8 530.9 1999.2 C532.6 1998.7 534.6 2000.2 535.3 2000.4M515.9 2029.5 C517 2029.6 520.3 2031.3 522.1 2030.6 C524 2029.9 525.4 2027.1 527 2025.3 C528.6 2023.6 530 2020.6 531.8 2020.1 C533.7 2019.5 537 2021.6 538 2022M518.1 2033.6 C519.1 2033.6 522 2034.6 523.7 2034 C525.3 2033.3 526.4 2031 528.1 2029.5 C529.7 2028 531.9 2025.5 533.6 2025 C535.2 2024.4 537.3 2025.9 538 2026.1M516.4 2055.6 C517.4 2055.8 520.8 2057.4 522.6 2056.8 C524.5 2056.1 525.9 2053.3 527.5 2051.5 C529.1 2049.8 530.5 2046.8 532.4 2046.3 C534.2 2045.7 537.6 2047.8 538.6 2048.1M518.6 2059.8 C519.5 2059.8 522.5 2060.8 524.2 2060.1 C525.8 2059.4 526.9 2057.1 528.6 2055.6 C530.3 2054.1 532.5 2051.7 534.2 2051.1 C535.8 2050.6 537.9 2052.1 538.6 2052.3M514.9 2081.8 C516 2082 519.3 2083.6 521.1 2083 C523 2082.3 524.4 2079.5 526 2077.7 C527.7 2076 529.1 2073 530.9 2072.5 C532.8 2071.9 536.1 2074 537.1 2074.3M517.2 2086 C518.1 2086 521 2087 522.7 2086.3 C524.4 2085.6 525.5 2083.3 527.1 2081.8 C528.8 2080.3 531 2077.9 532.7 2077.3 C534.3 2076.8 536.4 2078.3 537.1 2078.5M511.6 2107.6 C512.7 2107.8 515.9 2109.5 517.8 2108.8 C519.6 2108.1 521 2105.3 522.6 2103.5 C524.2 2101.8 525.6 2098.8 527.4 2098.3 C529.2 2097.7 532.5 2099.8 533.5 2100.1M513.8 2111.8 C514.7 2111.8 517.7 2112.8 519.3 2112.1 C520.9 2111.5 522 2109.1 523.7 2107.6 C525.3 2106.1 527.5 2103.7 529.1 2103.1 C530.8 2102.6 532.8 2104.1 533.5 2104.3M506.6 2132.7 C507.6 2132.9 510.7 2134.5 512.5 2133.8 C514.3 2133.1 515.6 2130.3 517.2 2128.5 C518.8 2126.8 520.1 2123.9 521.9 2123.3 C523.7 2122.7 526.9 2124.9 527.9 2125.2M508.7 2136.8 C509.6 2136.9 512.4 2137.9 514 2137.2 C515.6 2136.5 516.7 2134.2 518.3 2132.7 C519.9 2131.2 522 2128.7 523.6 2128.2 C525.2 2127.6 527.2 2129.1 527.9 2129.3M499.7 2156.5 C500.7 2156.7 503.8 2158.3 505.5 2157.6 C507.2 2156.9 508.5 2154.1 510 2152.4 C511.5 2150.6 512.8 2147.7 514.5 2147.1 C516.2 2146.6 519.3 2148.7 520.2 2149M501.8 2160.6 C502.6 2160.7 505.4 2161.7 506.9 2161 C508.5 2160.3 509.5 2158 511 2156.5 C512.6 2155 514.6 2152.6 516.1 2152 C517.7 2151.4 519.6 2152.9 520.2 2153.1M491.3 2178.8 C492.2 2179 495.1 2180.6 496.8 2179.9 C498.4 2179.2 499.6 2176.4 501 2174.6 C502.5 2172.9 503.7 2170 505.3 2169.4 C506.9 2168.8 509.9 2171 510.8 2171.3M493.3 2182.9 C494.1 2183 496.7 2184 498.1 2183.3 C499.6 2182.6 500.5 2180.3 502 2178.8 C503.5 2177.3 505.4 2174.8 506.9 2174.3 C508.3 2173.7 510.1 2175.2 510.8 2175.4M481.4 2199.1 C482.2 2199.3 485 2200.9 486.5 2200.3 C488 2199.6 489.1 2196.8 490.5 2195 C491.8 2193.3 492.9 2190.3 494.5 2189.8 C496 2189.2 498.7 2191.3 499.5 2191.6M483.2 2203.3 C484 2203.3 486.4 2204.3 487.7 2203.6 C489.1 2202.9 490 2200.6 491.4 2199.1 C492.7 2197.6 494.6 2195.2 495.9 2194.6 C497.3 2194.1 498.9 2195.6 499.5 2195.8M470.1 2217.1 C470.9 2217.2 473.4 2218.8 474.8 2218.1 C476.2 2217.5 477.2 2214.8 478.4 2213.1 C479.7 2211.5 480.7 2208.7 482.1 2208.1 C483.5 2207.6 486 2209.6 486.7 2209.9M471.8 2221 C472.5 2221.1 474.7 2222 475.9 2221.4 C477.2 2220.7 478 2218.5 479.3 2217.1 C480.5 2215.6 482.2 2213.3 483.4 2212.8 C484.7 2212.2 486.2 2213.7 486.7 2213.8M457.7 2232.4 C458.4 2232.6 460.6 2234 461.9 2233.4 C463.1 2232.8 464 2230.3 465.1 2228.7 C466.2 2227.2 467.1 2224.5 468.4 2224 C469.6 2223.5 471.8 2225.4 472.5 2225.7M459.2 2236.1 C459.8 2236.2 461.8 2237.1 462.9 2236.4 C464 2235.8 464.8 2233.8 465.9 2232.4 C467 2231.1 468.5 2228.9 469.6 2228.4 C470.7 2227.9 472 2229.2 472.5 2229.4M444.3 2245 C444.9 2245.1 446.8 2246.5 447.9 2245.9 C449 2245.3 449.8 2243 450.7 2241.6 C451.6 2240.1 452.4 2237.7 453.5 2237.2 C454.6 2236.8 456.5 2238.5 457.1 2238.8M445.6 2248.4 C446.1 2248.4 447.8 2249.2 448.8 2248.7 C449.7 2248.1 450.4 2246.2 451.3 2245 C452.3 2243.7 453.6 2241.7 454.5 2241.3 C455.5 2240.8 456.6 2242 457.1 2242.2M430.2 2254.5 C430.6 2254.6 432.2 2255.9 433.1 2255.3 C433.9 2254.8 434.6 2252.7 435.3 2251.4 C436.1 2250.1 436.8 2247.9 437.6 2247.5 C438.5 2247.1 440 2248.7 440.5 2248.9M431.2 2257.6 C431.6 2257.6 433 2258.4 433.8 2257.9 C434.6 2257.3 435.1 2255.6 435.9 2254.5 C436.6 2253.4 437.7 2251.6 438.4 2251.1 C439.2 2250.7 440.2 2251.8 440.5 2252M458.3 1862.8 C458.8 1863 460.1 1864.1 460.9 1863.6 C461.7 1863.2 462.2 1861.2 462.9 1859.9 C463.6 1858.7 464.2 1856.6 464.9 1856.2 C465.7 1855.8 467.1 1857.3 467.5 1857.5M459.2 1865.8 C459.6 1865.8 460.9 1866.5 461.5 1866 C462.2 1865.5 462.7 1863.9 463.4 1862.8 C464.1 1861.8 465 1860.1 465.7 1859.7 C466.4 1859.3 467.2 1860.3 467.5 1860.5M474.8 1874.1 C475.3 1874.2 477 1875.5 477.9 1875 C478.9 1874.4 479.6 1872.3 480.4 1870.9 C481.2 1869.5 482 1867.3 482.9 1866.8 C483.8 1866.4 485.5 1868 486 1868.3M475.9 1877.3 C476.4 1877.3 477.9 1878.1 478.7 1877.6 C479.6 1877.1 480.1 1875.3 481 1874.1 C481.8 1872.9 483 1871 483.8 1870.6 C484.6 1870.2 485.7 1871.3 486 1871.5M489.9 1888.2 C490.5 1888.4 492.4 1889.7 493.5 1889.2 C494.6 1888.6 495.4 1886.2 496.4 1884.8 C497.4 1883.3 498.2 1880.9 499.3 1880.4 C500.4 1879.9 502.3 1881.7 502.9 1882M491.2 1891.7 C491.7 1891.7 493.5 1892.5 494.4 1892 C495.4 1891.4 496.1 1889.5 497 1888.2 C498 1887 499.3 1884.9 500.3 1884.5 C501.3 1884 502.5 1885.2 502.9 1885.4M503.4 1905 C504.1 1905.1 506.3 1906.6 507.5 1906 C508.7 1905.4 509.7 1902.9 510.7 1901.3 C511.8 1899.8 512.7 1897.2 513.9 1896.7 C515.2 1896.2 517.4 1898.1 518 1898.3M504.9 1908.6 C505.5 1908.7 507.4 1909.6 508.5 1909 C509.6 1908.4 510.4 1906.3 511.5 1905 C512.6 1903.7 514 1901.5 515.1 1901 C516.2 1900.5 517.6 1901.8 518 1902M515.3 1924.1 C516 1924.3 518.4 1925.8 519.8 1925.2 C521.1 1924.5 522.1 1921.9 523.3 1920.3 C524.4 1918.7 525.5 1915.9 526.8 1915.4 C528.1 1914.9 530.5 1916.9 531.2 1917.2M516.9 1928 C517.6 1928 519.7 1929 520.9 1928.3 C522.1 1927.7 522.9 1925.5 524.1 1924.1 C525.3 1922.7 526.9 1920.5 528.1 1919.9 C529.3 1919.4 530.7 1920.8 531.2 1921M525.3 1945.4 C526.1 1945.6 528.7 1947.1 530.1 1946.5 C531.6 1945.8 532.6 1943.1 533.9 1941.4 C535.1 1939.7 536.2 1936.8 537.6 1936.3 C539.1 1935.8 541.6 1937.8 542.4 1938.1M527.1 1949.4 C527.8 1949.5 530 1950.4 531.3 1949.8 C532.6 1949.1 533.5 1946.8 534.7 1945.4 C536 1943.9 537.7 1941.6 539 1941 C540.3 1940.5 541.9 1941.9 542.4 1942.1M533.5 1968.4 C534.3 1968.6 537 1970.2 538.5 1969.5 C540 1968.8 541.1 1966 542.5 1964.3 C543.8 1962.5 544.9 1959.6 546.4 1959 C547.9 1958.5 550.6 1960.6 551.4 1960.9M535.3 1972.5 C536 1972.6 538.4 1973.6 539.8 1972.9 C541.1 1972.2 542 1969.9 543.4 1968.4 C544.7 1966.9 546.5 1964.5 547.8 1963.9 C549.2 1963.3 550.8 1964.8 551.4 1965M539.5 1992.7 C540.4 1992.9 543.2 1994.5 544.8 1993.8 C546.3 1993.2 547.5 1990.3 548.9 1988.6 C550.2 1986.8 551.4 1983.9 553 1983.3 C554.5 1982.8 557.3 1984.9 558.2 1985.2M541.4 1996.8 C542.2 1996.9 544.7 1997.9 546.1 1997.2 C547.5 1996.5 548.4 1994.2 549.8 1992.7 C551.2 1991.2 553.1 1988.8 554.5 1988.2 C555.9 1987.7 557.6 1989.2 558.2 1989.3M543.5 2018.1 C544.4 2018.3 547.2 2019.9 548.8 2019.2 C550.4 2018.5 551.6 2015.7 553 2013.9 C554.5 2012.2 555.7 2009.3 557.3 2008.7 C558.9 2008.1 561.7 2010.3 562.6 2010.6M545.4 2022.2 C546.2 2022.3 548.7 2023.3 550.2 2022.6 C551.6 2021.9 552.6 2019.6 554 2018.1 C555.4 2016.6 557.4 2014.1 558.8 2013.6 C560.2 2013 562 2014.5 562.6 2014.7M545.2 2044.1 C546.1 2044.3 549.1 2045.9 550.7 2045.2 C552.3 2044.5 553.5 2041.7 554.9 2040 C556.4 2038.2 557.6 2035.3 559.2 2034.7 C560.8 2034.1 563.7 2036.3 564.7 2036.6M547.2 2048.2 C548 2048.3 550.6 2049.3 552 2048.6 C553.5 2047.9 554.5 2045.6 555.9 2044.1 C557.4 2042.6 559.3 2040.1 560.8 2039.6 C562.2 2039 564 2040.5 564.7 2040.7M544.8 2070.3 C545.7 2070.5 548.6 2072.1 550.3 2071.4 C551.9 2070.8 553.1 2067.9 554.5 2066.2 C556 2064.4 557.2 2061.5 558.8 2060.9 C560.4 2060.4 563.4 2062.5 564.3 2062.8M546.8 2074.4 C547.6 2074.5 550.2 2075.5 551.6 2074.8 C553.1 2074.1 554.1 2071.8 555.5 2070.3 C557 2068.8 558.9 2066.4 560.4 2065.8 C561.8 2065.3 563.6 2066.8 564.3 2066.9M542.2 2096.4 C543.1 2096.6 546 2098.2 547.6 2097.5 C549.2 2096.8 550.4 2094 551.8 2092.2 C553.3 2090.5 554.5 2087.6 556.1 2087 C557.7 2086.4 560.6 2088.6 561.5 2088.9M544.1 2100.5 C544.9 2100.6 547.5 2101.6 548.9 2100.9 C550.4 2100.2 551.4 2097.9 552.8 2096.4 C554.3 2094.9 556.2 2092.4 557.6 2091.9 C559.1 2091.3 560.8 2092.8 561.5 2093M537.4 2121.8 C538.3 2122 541.1 2123.7 542.7 2123 C544.3 2122.3 545.5 2119.5 546.9 2117.7 C548.3 2116 549.5 2113 551 2112.5 C552.6 2111.9 555.5 2114 556.3 2114.3M539.3 2126 C540.1 2126 542.6 2127 544 2126.3 C545.5 2125.7 546.4 2123.3 547.8 2121.8 C549.2 2120.3 551.1 2117.9 552.6 2117.3 C554 2116.8 555.7 2118.3 556.3 2118.5M530.6 2146.3 C531.4 2146.5 534.2 2148.1 535.7 2147.4 C537.2 2146.8 538.4 2143.9 539.7 2142.2 C541.1 2140.4 542.2 2137.5 543.8 2136.9 C545.3 2136.4 548 2138.5 548.9 2138.8M532.4 2150.4 C533.2 2150.5 535.6 2151.5 537 2150.8 C538.4 2150.1 539.3 2147.8 540.6 2146.3 C542 2144.8 543.9 2142.4 545.2 2141.8 C546.6 2141.3 548.3 2142.8 548.9 2142.9M521.7 2169.3 C522.5 2169.5 525.2 2171.1 526.6 2170.5 C528.1 2169.8 529.2 2167 530.5 2165.3 C531.8 2163.6 532.9 2160.7 534.3 2160.1 C535.8 2159.6 538.4 2161.7 539.2 2162M523.5 2173.4 C524.2 2173.5 526.5 2174.5 527.9 2173.8 C529.2 2173.1 530 2170.8 531.4 2169.3 C532.7 2167.9 534.4 2165.5 535.7 2164.9 C537 2164.4 538.7 2165.8 539.2 2166M511 2190.6 C511.8 2190.7 514.3 2192.3 515.6 2191.6 C517 2191 518 2188.3 519.3 2186.6 C520.5 2185 521.5 2182.2 522.9 2181.7 C524.3 2181.1 526.7 2183.1 527.5 2183.4M512.7 2194.5 C513.3 2194.5 515.5 2195.5 516.8 2194.8 C518 2194.2 518.8 2192 520.1 2190.6 C521.3 2189.1 523 2186.8 524.2 2186.3 C525.4 2185.8 526.9 2187.2 527.5 2187.4M498.6 2209.7 C499.3 2209.8 501.6 2211.3 502.8 2210.7 C504.1 2210.1 505.1 2207.5 506.2 2205.9 C507.3 2204.3 508.3 2201.7 509.5 2201.2 C510.8 2200.6 513.1 2202.6 513.8 2202.9M500.1 2213.4 C500.7 2213.5 502.8 2214.4 503.9 2213.8 C505 2213.1 505.8 2211 506.9 2209.7 C508.1 2208.3 509.6 2206.1 510.8 2205.6 C511.9 2205.1 513.3 2206.4 513.8 2206.6M484.5 2226.4 C485.2 2226.5 487.2 2227.9 488.4 2227.3 C489.5 2226.7 490.4 2224.3 491.4 2222.8 C492.4 2221.3 493.3 2218.8 494.5 2218.3 C495.6 2217.8 497.7 2219.7 498.3 2219.9M485.9 2229.9 C486.5 2230 488.3 2230.8 489.4 2230.2 C490.4 2229.6 491.1 2227.7 492.1 2226.4 C493.1 2225.1 494.5 2223 495.6 2222.5 C496.6 2222 497.8 2223.3 498.3 2223.5M469.1 2240.4 C469.7 2240.5 471.5 2241.8 472.5 2241.3 C473.5 2240.7 474.2 2238.5 475.1 2237.1 C476 2235.7 476.8 2233.3 477.8 2232.9 C478.8 2232.4 480.6 2234.1 481.2 2234.4M470.3 2243.7 C470.8 2243.7 472.4 2244.5 473.3 2244 C474.2 2243.4 474.8 2241.6 475.7 2240.4 C476.6 2239.2 477.9 2237.2 478.8 2236.8 C479.7 2236.3 480.8 2237.5 481.2 2237.7M452.4 2251.5 C452.9 2251.6 454.4 2252.8 455.2 2252.3 C456.1 2251.8 456.7 2249.7 457.5 2248.4 C458.2 2247.1 458.9 2245 459.7 2244.6 C460.5 2244.1 462.1 2245.7 462.5 2245.9M453.4 2254.5 C453.8 2254.6 455.2 2255.3 455.9 2254.8 C456.7 2254.3 457.2 2252.6 458 2251.5 C458.7 2250.4 459.8 2248.6 460.5 2248.2 C461.3 2247.7 462.2 2248.9 462.5 2249"/>
<ellipse cx="396.4" cy="2053.1" rx="116.5" ry="209" transform="rotate(2 396.4 2053.1)" fill="#fff" stroke="none"/>
<ellipse class="h" cx="396.4" cy="2053.1" rx="116.5" ry="209" transform="rotate(2 396.4 2053.1)"/>
<ellipse class="l" cx="395.9" cy="2053.1" rx="104" ry="185" transform="rotate(2 395.9 2053.1)"/>
<ellipse class="l" cx="395.9" cy="2053.1" rx="101.5" ry="180.7" transform="rotate(2 395.9 2053.1)"/>
<path class="r" d="M511.1 2057.1L500.4 2056.7M510.8 2064.5L500.1 2063.3M510.3 2071.9L499.6 2069.9M509.7 2079.2L499.1 2076.5M508.9 2086.6L498.4 2083.1M508 2093.8L497.5 2089.6M507 2101.1L496.6 2096M505.8 2108.2L495.5 2102.4M504.4 2115.3L494.3 2108.8M503 2122.3L493 2115.1M501.4 2129.3L491.5 2121.3M499.6 2136.1L489.9 2127.4M497.8 2142.8L488.2 2133.4M495.8 2149.4L486.4 2139.3M493.6 2155.9L484.5 2145.1M491.4 2162.3L482.4 2150.8M489 2168.5L480.3 2156.4M486.5 2174.6L478 2161.8M483.9 2180.5L475.6 2167.1M481.2 2186.2L473.2 2172.2M478.4 2191.8L470.6 2177.2M475.4 2197.2L467.9 2182M472.4 2202.5L465.2 2186.7M469.3 2207.5L462.3 2191.2M466.1 2212.3L459.4 2195.5M462.8 2217L456.4 2199.7M459.4 2221.4L453.3 2203.6M455.9 2225.6L450.2 2207.4M452.3 2229.6L446.9 2211M448.7 2233.4L443.6 2214.3M445 2236.9L440.3 2217.5M441.3 2240.2L436.9 2220.5M437.5 2243.3L433.4 2223.2M433.6 2246.1L429.9 2225.7M429.7 2248.7L426.3 2228M425.8 2251L422.8 2230.1M421.8 2253.1L419.1 2231.9M417.8 2254.9L415.5 2233.6M413.7 2256.4L411.8 2235M409.7 2257.7L408.1 2236.1M405.6 2258.8L404.4 2237.1M401.5 2259.6L400.6 2237.8M397.4 2260.1L396.9 2238.2M393.3 2260.3L393.2 2238.4M389.2 2260.3L389.4 2238.4M385.1 2260L385.7 2238.2M381 2259.5L382 2237.7M377 2258.7L378.3 2237M372.9 2257.6L374.6 2236M368.9 2256.3L371 2234.8M365 2254.7L367.4 2233.4M361 2252.9L363.8 2231.8M357.1 2250.8L360.3 2229.9M353.3 2248.4L356.8 2227.8M349.5 2245.9L353.3 2225.5M345.8 2243L350 2222.9M342.2 2239.9L346.6 2220.2M338.6 2236.6L343.4 2217.2M335.1 2233L340.2 2214M331.6 2229.3L337 2210.6M328.3 2225.3L334 2207M325 2221L331 2203.2M321.9 2216.6L328.1 2199.3M318.8 2211.9L325.3 2195.1M315.8 2207.1L322.6 2190.8M312.9 2202L320 2186.2M310.2 2196.8L317.5 2181.6M307.5 2191.4L315.1 2176.7M305 2185.8L312.7 2171.7M302.5 2180L310.5 2166.5M300.2 2174.1L308.4 2161.2M298 2168L306.4 2155.8M296 2161.8L304.5 2150.2M294.1 2155.4L302.8 2144.5M292.3 2148.9L301.1 2138.7M290.6 2142.3L299.6 2132.8M289 2135.5L298.2 2126.8M287.6 2128.7L296.9 2120.6M286.4 2121.8L295.8 2114.4M285.3 2114.7L294.8 2108.1M284.3 2107.6L293.9 2101.8M283.5 2100.5L293.1 2095.4M282.8 2093.2L292.5 2088.9M282.2 2085.9L292 2082.4M281.8 2078.6L291.6 2075.8M281.6 2071.3L291.4 2069.3M281.5 2063.9L291.3 2062.7M281.5 2056.5L291.3 2056M281.7 2049.1L291.5 2049.4M282 2041.7L291.8 2042.8M282.5 2034.3L292.2 2036.2M283.1 2027L292.8 2029.6M283.9 2019.6L293.4 2023.1M284.8 2012.4L294.3 2016.6M285.8 2005.1L295.2 2010.1M287 1998L296.3 2003.7M288.4 1990.9L297.5 1997.4M289.8 1983.9L298.8 1991.1M291.4 1976.9L300.3 1984.9M293.2 1970.1L301.9 1978.8M295.1 1963.4L303.6 1972.8M297.1 1956.8L305.4 1966.8M299.2 1950.3L307.3 1961M301.4 1943.9L309.4 1955.4M303.8 1937.7L311.5 1949.8M306.3 1931.6L313.8 1944.4M308.9 1925.7L316.2 1939.1M311.6 1919.9L318.6 1933.9M314.4 1914.4L321.2 1928.9M317.4 1909L323.9 1924.1M320.4 1903.7L326.6 1919.4M323.5 1898.7L329.5 1914.9M326.7 1893.9L332.4 1910.6M330.1 1889.2L335.4 1906.5M333.5 1884.8L338.5 1902.5M336.9 1880.6L341.7 1898.7M340.5 1876.6L344.9 1895.2M344.1 1872.8L348.2 1891.8M347.8 1869.3L351.5 1888.6M351.5 1866L354.9 1885.7M355.3 1862.9L358.4 1883M359.2 1860.1L361.9 1880.4M363.1 1857.5L365.5 1878.1M367 1855.2L369.1 1876.1M371 1853.1L372.7 1874.2M375 1851.3L376.3 1872.6M379.1 1849.8L380 1871.2M383.2 1848.5L383.7 1870M387.2 1847.4L387.5 1869.1M391.3 1846.6L391.2 1868.4M395.4 1846.1L394.9 1867.9M399.5 1845.9L398.6 1867.7M403.6 1845.9L402.4 1867.7M407.7 1846.1L406.1 1868M411.8 1846.7L409.8 1868.5M415.9 1847.5L413.5 1869.2M419.9 1848.5L417.2 1870.1M423.9 1849.9L420.8 1871.3M427.9 1851.5L424.4 1872.7M431.8 1853.3L428 1874.4M435.7 1855.4L431.5 1876.3M439.5 1857.7L435 1878.4M443.3 1860.3L438.5 1880.7M447 1863.2L441.9 1883.2M450.6 1866.3L445.2 1886M454.2 1869.6L448.4 1889M457.7 1873.1L451.6 1892.1M461.2 1876.9L454.8 1895.5M464.5 1880.9L457.8 1899.1M467.8 1885.2L460.8 1902.9M471 1889.6L463.7 1906.9M474 1894.3L466.5 1911M477 1899.1L469.2 1915.4M479.9 1904.2L471.8 1919.9M482.6 1909.4L474.3 1924.6M485.3 1914.8L476.8 1929.4M487.8 1920.4L479.1 1934.5M490.3 1926.2L481.3 1939.6M492.6 1932.1L483.4 1944.9M494.8 1938.2L485.4 1950.4M496.8 1944.4L487.3 1955.9M498.8 1950.8L489 1961.6M500.6 1957.3L490.7 1967.4M502.2 1963.9L492.2 1973.4M503.8 1970.7L493.6 1979.4M505.2 1977.5L494.9 1985.5M506.4 1984.4L496 1991.7M507.5 1991.5L497.1 1998M508.5 1998.6L497.9 2004.4M509.4 2005.7L498.7 2010.8M510 2013L499.3 2017.2M510.6 2020.2L499.8 2023.8M511 2027.6L500.2 2030.3M511.2 2034.9L500.4 2036.9M511.4 2042.3L500.6 2043.5M511.3 2049.7L500.5 2050.1"/>
<ellipse class="h" cx="391.9" cy="2055.6" rx="68.2" ry="119.5" transform="rotate(1 391.9 2055.6)"/>
<ellipse class="l" cx="392.4" cy="2055.6" rx="63.2" ry="113.3" transform="rotate(1 392.4 2055.6)"/>
<path class="l" d="M395.3 1958.6 C396.7 1958 400.9 1955.5 403.6 1955.4 C406.3 1955.3 409.2 1956.2 411.8 1958.1 C414.4 1960 417 1962.9 419.4 1966.6 C421.8 1970.3 424.1 1975 426 1980.3 C428 1985.6 429.8 1991.9 431.2 1998.5 C432.7 2005.1 433.9 2012.5 434.7 2020 C435.5 2027.6 436.1 2035.7 436.2 2043.6 C436.4 2051.6 436.2 2059.9 435.7 2067.9 C435.2 2075.8 434.4 2083.8 433.3 2091.3 C432.1 2098.7 430.6 2106 428.9 2112.5 C427.2 2119 425.2 2125.1 423 2130.2 C420.8 2135.4 418.4 2139.9 415.8 2143.4 C413.3 2146.9 410.6 2149.6 407.9 2151.2 C405.2 2152.9 402.3 2153.6 399.6 2153.3 C396.9 2152.9 394.1 2151.6 391.5 2149.4 C388.9 2147.1 385.3 2141.4 384 2139.8"/>
<path class="t" d="M396.8 1962.5 C398 1962.3 401.5 1960.9 403.7 1961.3 C406 1961.8 408.4 1963.1 410.5 1965.1 C412.7 1967.2 414.8 1970.1 416.8 1973.7 C418.7 1977.2 420.5 1981.6 422.1 1986.5 C423.7 1991.4 425.2 1997 426.3 2003 C427.5 2008.9 428.5 2015.5 429.2 2022.2 C429.8 2028.9 430.3 2036 430.5 2043.1 C430.6 2050.2 430.5 2057.5 430.2 2064.6 C429.8 2071.7 429.1 2078.9 428.3 2085.6 C427.4 2092.3 426.2 2098.9 424.9 2104.9 C423.6 2110.9 422 2116.5 420.2 2121.5 C418.5 2126.4 416.5 2130.9 414.5 2134.5 C412.5 2138.2 410.3 2141.2 408 2143.3 C405.8 2145.4 403.5 2146.8 401.2 2147.3 C398.9 2147.8 396.5 2147.5 394.2 2146.4 C392 2145.3 388.7 2141.6 387.6 2140.6"/>
<path class="l" d="M390.4 2008 C394.2 2007.8 406.7 2004.6 413 2006.7 C419.2 2008.8 424.6 2014 428 2020.5 C431.3 2027 432.6 2035.1 433 2045.6 C433.4 2056 433.4 2074 430.5 2083.2 C427.6 2092.4 421.3 2097.4 415.5 2100.7 C409.6 2104.1 398.7 2102.8 395.4 2103.2"/>
<ellipse class="h" cx="392.9" cy="2055.6" rx="27.1" ry="47.6"/>
<ellipse class="l" cx="392.9" cy="2055.6" rx="23.8" ry="42.6"/>
<ellipse class="l" cx="392.9" cy="2055.6" rx="17.5" ry="31.3"/>
<ellipse class="l" cx="392.9" cy="2055.6" rx="13.8" ry="25.1"/>
<ellipse class="l" cx="392.9" cy="2055.6" rx="8.8" ry="15"/>
<ellipse class="l" cx="392.9" cy="2055.6" rx="3.8" ry="7"/>
<path d="M1514 2041.9 C1523.1 1973.8 1549 2043.8 1564.1 2050.7 C1579.1 2057.6 1592.5 2069.9 1604.2 2083.3 C1615.9 2096.6 1625.5 2112.5 1634.3 2130.9 C1643 2149.3 1651.4 2172.7 1656.8 2193.5 C1662.2 2214.4 1666 2235.3 1666.8 2256.2 C1667.7 2277.1 1665.2 2299.2 1661.8 2318.9 C1658.5 2338.5 1653.5 2357.3 1646.8 2374 C1640.1 2390.7 1632.2 2406.6 1621.7 2419.1 C1611.3 2431.6 1597.9 2442.3 1584.1 2449.2 C1570.3 2456.1 1551.6 2458.8 1539 2460.5 C1526.5 2462.1 1513.1 2529 1508.9 2459.2 C1504.8 2389.5 1504.8 2110 1514 2041.9Z" fill="#fff" stroke="none"/>
<path class="l" d="M1514 2041.9 C1522.3 2043.4 1549 2043.8 1564.1 2050.7 C1579.1 2057.6 1592.5 2069.9 1604.2 2083.3 C1615.9 2096.6 1625.5 2112.5 1634.3 2130.9 C1643 2149.3 1651.4 2172.7 1656.8 2193.5 C1662.2 2214.4 1666 2235.3 1666.8 2256.2 C1667.7 2277.1 1665.2 2299.2 1661.8 2318.9 C1658.5 2338.5 1653.5 2357.3 1646.8 2374 C1640.1 2390.7 1632.2 2406.6 1621.7 2419.1 C1611.3 2431.6 1597.9 2442.3 1584.1 2449.2 C1570.3 2456.1 1551.6 2458.8 1539 2460.5 C1526.5 2462.1 1514 2459.4 1508.9 2459.2"/>
<clipPath id="tcR"><path d="M1514 2041.9 C1523.1 1973.8 1549 2043.8 1564.1 2050.7 C1579.1 2057.6 1592.5 2069.9 1604.2 2083.3 C1615.9 2096.6 1625.5 2112.5 1634.3 2130.9 C1643 2149.3 1651.4 2172.7 1656.8 2193.5 C1662.2 2214.4 1666 2235.3 1666.8 2256.2 C1667.7 2277.1 1665.2 2299.2 1661.8 2318.9 C1658.5 2338.5 1653.5 2357.3 1646.8 2374 C1640.1 2390.7 1632.2 2406.6 1621.7 2419.1 C1611.3 2431.6 1597.9 2442.3 1584.1 2449.2 C1570.3 2456.1 1551.6 2458.8 1539 2460.5 C1526.5 2462.1 1513.1 2529 1508.9 2459.2 C1504.8 2389.5 1504.8 2110 1514 2041.9Z"/></clipPath>
<path class="tr" clip-path="url(#tcR)" d="M1550 2064.8 C1550.5 2065 1552.3 2066.3 1553.3 2065.7 C1554.2 2065.2 1555 2063 1555.8 2061.6 C1556.7 2060.2 1557.4 2057.9 1558.4 2057.4 C1559.4 2057 1561.2 2058.7 1561.7 2058.9M1551.2 2068.1 C1551.6 2068.2 1553.2 2068.9 1554.1 2068.4 C1555 2067.9 1555.6 2066 1556.4 2064.8 C1557.3 2063.7 1558.5 2061.7 1559.4 2061.3 C1560.2 2060.8 1561.3 2062 1561.7 2062.2M1562.9 2077.6 C1563.6 2077.8 1565.6 2079.2 1566.8 2078.6 C1568 2078 1568.8 2075.5 1569.9 2074 C1570.9 2072.5 1571.8 2070 1572.9 2069.5 C1574.1 2069 1576.2 2070.8 1576.8 2071.1M1564.3 2081.2 C1564.9 2081.2 1566.7 2082.1 1567.8 2081.5 C1568.8 2080.9 1569.5 2078.9 1570.6 2077.6 C1571.6 2076.3 1573 2074.2 1574 2073.7 C1575.1 2073.2 1576.4 2074.5 1576.8 2074.7M1574.7 2093.1 C1575.5 2093.3 1577.9 2094.8 1579.2 2094.1 C1580.5 2093.5 1581.5 2090.9 1582.7 2089.3 C1583.8 2087.6 1584.8 2084.9 1586.2 2084.4 C1587.5 2083.9 1589.8 2085.8 1590.6 2086.1M1576.3 2096.9 C1577 2097 1579.1 2097.9 1580.3 2097.3 C1581.5 2096.6 1582.3 2094.5 1583.5 2093.1 C1584.6 2091.7 1586.2 2089.4 1587.4 2088.9 C1588.6 2088.4 1590.1 2089.8 1590.6 2090M1585.3 2111.1 C1586.1 2111.3 1588.8 2112.9 1590.2 2112.2 C1591.7 2111.6 1592.8 2108.8 1594.1 2107.1 C1595.4 2105.3 1596.5 2102.5 1597.9 2101.9 C1599.4 2101.3 1602 2103.4 1602.8 2103.7M1587.1 2115.2 C1587.8 2115.2 1590.1 2116.2 1591.4 2115.5 C1592.8 2114.9 1593.6 2112.6 1594.9 2111.1 C1596.3 2109.6 1598 2107.2 1599.3 2106.7 C1600.6 2106.1 1602.2 2107.6 1602.8 2107.8M1594.5 2131.3 C1595.4 2131.5 1598.2 2133.1 1599.8 2132.4 C1601.3 2131.7 1602.5 2128.9 1603.9 2127.1 C1605.3 2125.4 1606.5 2122.5 1608.1 2121.9 C1609.7 2121.3 1612.5 2123.5 1613.4 2123.8M1596.4 2135.4 C1597.2 2135.5 1599.7 2136.5 1601.1 2135.8 C1602.5 2135.1 1603.5 2132.8 1604.9 2131.3 C1606.3 2129.8 1608.2 2127.3 1609.6 2126.8 C1611 2126.2 1612.8 2127.7 1613.4 2127.9M1602.1 2153.3 C1603 2153.5 1606 2155.1 1607.7 2154.4 C1609.4 2153.7 1610.6 2150.9 1612.1 2149.2 C1613.6 2147.4 1614.8 2144.5 1616.5 2143.9 C1618.2 2143.4 1621.2 2145.5 1622.1 2145.8M1604.1 2157.4 C1604.9 2157.5 1607.6 2158.5 1609.1 2157.8 C1610.6 2157.1 1611.6 2154.8 1613.1 2153.3 C1614.6 2151.8 1616.6 2149.4 1618.1 2148.8 C1619.6 2148.2 1621.5 2149.7 1622.1 2149.9M1608 2176.9 C1609 2177.1 1612.1 2178.8 1613.9 2178.1 C1615.6 2177.4 1616.9 2174.6 1618.5 2172.8 C1620 2171.1 1621.3 2168.1 1623.1 2167.6 C1624.8 2167 1628 2169.1 1629 2169.4M1610.1 2181.1 C1611 2181.1 1613.8 2182.1 1615.3 2181.4 C1616.9 2180.8 1617.9 2178.4 1619.5 2176.9 C1621.1 2175.4 1623.2 2173 1624.8 2172.4 C1626.3 2171.9 1628.3 2173.4 1629 2173.6M1612.1 2201.8 C1613.1 2202 1616.4 2203.6 1618.2 2203 C1620 2202.3 1621.4 2199.5 1622.9 2197.7 C1624.5 2196 1625.9 2193 1627.7 2192.5 C1629.5 2191.9 1632.8 2194 1633.8 2194.3M1614.3 2206 C1615.2 2206 1618.1 2207 1619.7 2206.3 C1621.3 2205.6 1622.4 2203.3 1624 2201.8 C1625.7 2200.3 1627.8 2197.9 1629.4 2197.3 C1631.1 2196.8 1633.1 2198.3 1633.8 2198.5M1614.4 2227.6 C1615.5 2227.7 1618.8 2229.4 1620.6 2228.7 C1622.5 2228 1623.9 2225.2 1625.5 2223.4 C1627.1 2221.7 1628.5 2218.7 1630.3 2218.2 C1632.2 2217.6 1635.5 2219.7 1636.5 2220.1M1616.6 2231.7 C1617.6 2231.7 1620.5 2232.7 1622.2 2232.1 C1623.8 2231.4 1624.9 2229.1 1626.6 2227.6 C1628.2 2226.1 1630.4 2223.6 1632.1 2223.1 C1633.7 2222.5 1635.8 2224 1636.5 2224.2M1614.9 2253.7 C1615.9 2253.9 1619.3 2255.5 1621.1 2254.9 C1623 2254.2 1624.4 2251.4 1626 2249.6 C1627.6 2247.9 1629 2244.9 1630.9 2244.4 C1632.7 2243.8 1636.1 2245.9 1637.1 2246.2M1617.1 2257.9 C1618 2257.9 1621 2258.9 1622.7 2258.2 C1624.3 2257.5 1625.4 2255.2 1627.1 2253.7 C1628.8 2252.2 1631 2249.8 1632.7 2249.2 C1634.3 2248.7 1636.4 2250.2 1637.1 2250.4M1613.4 2279.9 C1614.5 2280.1 1617.8 2281.7 1619.6 2281.1 C1621.5 2280.4 1622.9 2277.6 1624.5 2275.8 C1626.2 2274.1 1627.6 2271.1 1629.4 2270.6 C1631.3 2270 1634.6 2272.1 1635.6 2272.4M1615.7 2284.1 C1616.6 2284.1 1619.5 2285.1 1621.2 2284.4 C1622.9 2283.7 1624 2281.4 1625.6 2279.9 C1627.3 2278.4 1629.5 2276 1631.2 2275.4 C1632.8 2274.9 1634.9 2276.4 1635.6 2276.6M1610.1 2305.7 C1611.2 2305.9 1614.4 2307.6 1616.3 2306.9 C1618.1 2306.2 1619.5 2303.4 1621.1 2301.6 C1622.7 2299.9 1624.1 2296.9 1625.9 2296.4 C1627.7 2295.8 1631 2297.9 1632 2298.2M1612.3 2309.9 C1613.2 2309.9 1616.2 2310.9 1617.8 2310.2 C1619.4 2309.6 1620.5 2307.2 1622.2 2305.7 C1623.8 2304.2 1626 2301.8 1627.6 2301.2 C1629.3 2300.7 1631.3 2302.2 1632 2302.4M1605.1 2330.8 C1606.1 2331 1609.2 2332.6 1611 2331.9 C1612.8 2331.2 1614.1 2328.4 1615.7 2326.6 C1617.3 2324.9 1618.6 2322 1620.4 2321.4 C1622.2 2320.8 1625.4 2323 1626.4 2323.3M1607.2 2334.9 C1608.1 2335 1610.9 2336 1612.5 2335.3 C1614.1 2334.6 1615.2 2332.3 1616.8 2330.8 C1618.4 2329.3 1620.5 2326.8 1622.1 2326.3 C1623.7 2325.7 1625.7 2327.2 1626.4 2327.4M1598.2 2354.6 C1599.2 2354.8 1602.3 2356.4 1604 2355.7 C1605.7 2355 1607 2352.2 1608.5 2350.5 C1610 2348.7 1611.3 2345.8 1613 2345.2 C1614.7 2344.7 1617.8 2346.8 1618.7 2347.1M1600.3 2358.7 C1601.1 2358.8 1603.9 2359.8 1605.4 2359.1 C1607 2358.4 1608 2356.1 1609.5 2354.6 C1611.1 2353.1 1613.1 2350.7 1614.6 2350.1 C1616.2 2349.5 1618.1 2351 1618.7 2351.2M1589.8 2376.9 C1590.7 2377.1 1593.6 2378.7 1595.3 2378 C1596.9 2377.3 1598.1 2374.5 1599.5 2372.7 C1601 2371 1602.2 2368.1 1603.8 2367.5 C1605.4 2366.9 1608.4 2369.1 1609.3 2369.4M1591.8 2381 C1592.6 2381.1 1595.2 2382.1 1596.6 2381.4 C1598.1 2380.7 1599 2378.4 1600.5 2376.9 C1602 2375.4 1603.9 2372.9 1605.4 2372.4 C1606.8 2371.8 1608.6 2373.3 1609.3 2373.5M1579.9 2397.2 C1580.7 2397.4 1583.5 2399 1585 2398.4 C1586.5 2397.7 1587.6 2394.9 1589 2393.1 C1590.3 2391.4 1591.4 2388.4 1593 2387.9 C1594.5 2387.3 1597.2 2389.4 1598 2389.7M1581.7 2401.4 C1582.5 2401.4 1584.9 2402.4 1586.2 2401.7 C1587.6 2401 1588.5 2398.7 1589.9 2397.2 C1591.2 2395.7 1593.1 2393.3 1594.4 2392.7 C1595.8 2392.2 1597.4 2393.7 1598 2393.9M1568.6 2415.2 C1569.4 2415.3 1571.9 2416.9 1573.3 2416.2 C1574.7 2415.6 1575.7 2412.9 1576.9 2411.2 C1578.2 2409.6 1579.2 2406.8 1580.6 2406.2 C1582 2405.7 1584.5 2407.7 1585.2 2408M1570.3 2419.1 C1571 2419.2 1573.2 2420.1 1574.4 2419.5 C1575.7 2418.8 1576.5 2416.6 1577.8 2415.2 C1579 2413.7 1580.7 2411.4 1581.9 2410.9 C1583.2 2410.3 1584.7 2411.8 1585.2 2411.9M1556.2 2430.5 C1556.9 2430.7 1559.1 2432.1 1560.4 2431.5 C1561.6 2430.9 1562.5 2428.4 1563.6 2426.8 C1564.7 2425.3 1565.6 2422.6 1566.9 2422.1 C1568.1 2421.6 1570.3 2423.5 1571 2423.8M1557.7 2434.2 C1558.3 2434.3 1560.3 2435.2 1561.4 2434.5 C1562.5 2433.9 1563.3 2431.9 1564.4 2430.5 C1565.5 2429.2 1567 2427 1568.1 2426.5 C1569.2 2426 1570.5 2427.3 1571 2427.5M1542.8 2443.1 C1543.4 2443.2 1545.3 2444.6 1546.4 2444 C1547.5 2443.4 1548.3 2441.1 1549.2 2439.7 C1550.1 2438.2 1550.9 2435.8 1552 2435.3 C1553.1 2434.9 1555 2436.6 1555.6 2436.9M1544.1 2446.5 C1544.6 2446.5 1546.3 2447.3 1547.3 2446.8 C1548.2 2446.2 1548.9 2444.3 1549.8 2443.1 C1550.8 2441.8 1552.1 2439.8 1553 2439.4 C1554 2438.9 1555.1 2440.1 1555.6 2440.3M1528.7 2452.6 C1529.1 2452.7 1530.7 2454 1531.6 2453.4 C1532.4 2452.9 1533.1 2450.8 1533.8 2449.5 C1534.6 2448.2 1535.3 2446 1536.1 2445.6 C1537 2445.2 1538.5 2446.8 1539 2447M1529.7 2455.7 C1530.1 2455.7 1531.5 2456.5 1532.3 2456 C1533.1 2455.4 1533.6 2453.7 1534.4 2452.6 C1535.1 2451.5 1536.2 2449.7 1536.9 2449.2 C1537.7 2448.8 1538.7 2449.9 1539 2450.1M1556.8 2060.9 C1557.3 2061.1 1558.6 2062.2 1559.4 2061.7 C1560.2 2061.3 1560.7 2059.3 1561.4 2058 C1562.1 2056.8 1562.7 2054.7 1563.4 2054.3 C1564.2 2053.9 1565.6 2055.4 1566 2055.6M1557.7 2063.9 C1558.1 2063.9 1559.4 2064.6 1560 2064.1 C1560.7 2063.6 1561.2 2062 1561.9 2060.9 C1562.6 2059.9 1563.5 2058.2 1564.2 2057.8 C1564.9 2057.4 1565.7 2058.4 1566 2058.6M1573.3 2072.2 C1573.8 2072.3 1575.5 2073.6 1576.4 2073.1 C1577.4 2072.5 1578.1 2070.4 1578.9 2069 C1579.7 2067.6 1580.5 2065.4 1581.4 2064.9 C1582.3 2064.5 1584 2066.1 1584.5 2066.4M1574.4 2075.4 C1574.9 2075.4 1576.4 2076.2 1577.2 2075.7 C1578.1 2075.2 1578.6 2073.4 1579.5 2072.2 C1580.3 2071 1581.5 2069.1 1582.3 2068.7 C1583.1 2068.3 1584.2 2069.4 1584.5 2069.6M1588.4 2086.3 C1589 2086.5 1590.9 2087.8 1592 2087.3 C1593.1 2086.7 1593.9 2084.3 1594.9 2082.9 C1595.9 2081.4 1596.7 2079 1597.8 2078.5 C1598.9 2078 1600.8 2079.8 1601.4 2080.1M1589.7 2089.8 C1590.2 2089.8 1592 2090.6 1592.9 2090.1 C1593.9 2089.5 1594.6 2087.6 1595.5 2086.3 C1596.5 2085.1 1597.8 2083 1598.8 2082.6 C1599.8 2082.1 1601 2083.3 1601.4 2083.5M1601.9 2103.1 C1602.6 2103.2 1604.8 2104.7 1606 2104.1 C1607.2 2103.5 1608.2 2101 1609.2 2099.4 C1610.3 2097.9 1611.2 2095.3 1612.4 2094.8 C1613.7 2094.3 1615.9 2096.2 1616.5 2096.4M1603.4 2106.7 C1604 2106.8 1605.9 2107.7 1607 2107.1 C1608.1 2106.5 1608.9 2104.4 1610 2103.1 C1611.1 2101.8 1612.5 2099.6 1613.6 2099.1 C1614.7 2098.6 1616.1 2099.9 1616.5 2100.1M1613.8 2122.2 C1614.5 2122.4 1616.9 2123.9 1618.3 2123.3 C1619.6 2122.6 1620.6 2120 1621.8 2118.4 C1622.9 2116.8 1624 2114 1625.3 2113.5 C1626.6 2113 1629 2115 1629.7 2115.3M1615.4 2126.1 C1616.1 2126.1 1618.2 2127.1 1619.4 2126.4 C1620.6 2125.8 1621.4 2123.6 1622.6 2122.2 C1623.8 2120.8 1625.4 2118.6 1626.6 2118 C1627.8 2117.5 1629.2 2118.9 1629.7 2119.1M1623.8 2143.5 C1624.6 2143.7 1627.2 2145.2 1628.6 2144.6 C1630.1 2143.9 1631.1 2141.2 1632.4 2139.5 C1633.6 2137.8 1634.7 2134.9 1636.1 2134.4 C1637.6 2133.9 1640.1 2135.9 1640.9 2136.2M1625.6 2147.5 C1626.3 2147.6 1628.5 2148.5 1629.8 2147.9 C1631.1 2147.2 1632 2144.9 1633.2 2143.5 C1634.5 2142 1636.2 2139.7 1637.5 2139.1 C1638.8 2138.6 1640.4 2140 1640.9 2140.2M1632 2166.5 C1632.8 2166.7 1635.5 2168.3 1637 2167.6 C1638.5 2166.9 1639.6 2164.1 1641 2162.4 C1642.3 2160.6 1643.4 2157.7 1644.9 2157.1 C1646.4 2156.6 1649.1 2158.7 1649.9 2159M1633.8 2170.6 C1634.5 2170.7 1636.9 2171.7 1638.3 2171 C1639.6 2170.3 1640.5 2168 1641.9 2166.5 C1643.2 2165 1645 2162.6 1646.3 2162 C1647.7 2161.4 1649.3 2162.9 1649.9 2163.1M1638 2190.8 C1638.9 2191 1641.7 2192.6 1643.3 2191.9 C1644.8 2191.3 1646 2188.4 1647.4 2186.7 C1648.7 2184.9 1649.9 2182 1651.5 2181.4 C1653 2180.9 1655.8 2183 1656.7 2183.3M1639.9 2194.9 C1640.7 2195 1643.2 2196 1644.6 2195.3 C1646 2194.6 1646.9 2192.3 1648.3 2190.8 C1649.7 2189.3 1651.6 2186.9 1653 2186.3 C1654.4 2185.8 1656.1 2187.3 1656.7 2187.4M1642 2216.2 C1642.9 2216.4 1645.7 2218 1647.3 2217.3 C1648.9 2216.6 1650.1 2213.8 1651.5 2212 C1653 2210.3 1654.2 2207.4 1655.8 2206.8 C1657.4 2206.2 1660.2 2208.4 1661.1 2208.7M1643.9 2220.3 C1644.7 2220.4 1647.2 2221.4 1648.7 2220.7 C1650.1 2220 1651.1 2217.7 1652.5 2216.2 C1653.9 2214.7 1655.9 2212.2 1657.3 2211.7 C1658.7 2211.1 1660.5 2212.6 1661.1 2212.8M1643.7 2242.2 C1644.6 2242.4 1647.6 2244 1649.2 2243.3 C1650.8 2242.6 1652 2239.8 1653.4 2238.1 C1654.9 2236.3 1656.1 2233.4 1657.7 2232.8 C1659.3 2232.2 1662.2 2234.4 1663.2 2234.7M1645.7 2246.3 C1646.5 2246.4 1649.1 2247.4 1650.5 2246.7 C1652 2246 1653 2243.7 1654.4 2242.2 C1655.9 2240.7 1657.8 2238.2 1659.3 2237.7 C1660.7 2237.1 1662.5 2238.6 1663.2 2238.8M1643.3 2268.4 C1644.2 2268.6 1647.1 2270.2 1648.8 2269.5 C1650.4 2268.9 1651.6 2266 1653 2264.3 C1654.5 2262.5 1655.7 2259.6 1657.3 2259 C1658.9 2258.5 1661.9 2260.6 1662.8 2260.9M1645.3 2272.5 C1646.1 2272.6 1648.7 2273.6 1650.1 2272.9 C1651.6 2272.2 1652.6 2269.9 1654 2268.4 C1655.5 2266.9 1657.4 2264.5 1658.9 2263.9 C1660.3 2263.4 1662.1 2264.9 1662.8 2265M1640.7 2294.5 C1641.6 2294.7 1644.5 2296.3 1646.1 2295.6 C1647.7 2294.9 1648.9 2292.1 1650.3 2290.3 C1651.8 2288.6 1653 2285.7 1654.6 2285.1 C1656.2 2284.5 1659.1 2286.7 1660 2287M1642.6 2298.6 C1643.4 2298.7 1646 2299.7 1647.4 2299 C1648.9 2298.3 1649.9 2296 1651.3 2294.5 C1652.8 2293 1654.7 2290.5 1656.1 2290 C1657.6 2289.4 1659.3 2290.9 1660 2291.1M1635.9 2319.9 C1636.8 2320.1 1639.6 2321.8 1641.2 2321.1 C1642.8 2320.4 1644 2317.6 1645.4 2315.8 C1646.8 2314.1 1648 2311.1 1649.5 2310.6 C1651.1 2310 1654 2312.1 1654.8 2312.4M1637.8 2324.1 C1638.6 2324.1 1641.1 2325.1 1642.5 2324.4 C1644 2323.8 1644.9 2321.4 1646.3 2319.9 C1647.7 2318.4 1649.6 2316 1651.1 2315.4 C1652.5 2314.9 1654.2 2316.4 1654.8 2316.6M1629.1 2344.4 C1629.9 2344.6 1632.7 2346.2 1634.2 2345.5 C1635.7 2344.9 1636.9 2342 1638.2 2340.3 C1639.6 2338.5 1640.7 2335.6 1642.3 2335 C1643.8 2334.5 1646.5 2336.6 1647.4 2336.9M1630.9 2348.5 C1631.7 2348.6 1634.1 2349.6 1635.5 2348.9 C1636.9 2348.2 1637.8 2345.9 1639.1 2344.4 C1640.5 2342.9 1642.4 2340.5 1643.7 2339.9 C1645.1 2339.4 1646.8 2340.9 1647.4 2341M1620.2 2367.4 C1621 2367.6 1623.7 2369.2 1625.1 2368.6 C1626.6 2367.9 1627.7 2365.1 1629 2363.4 C1630.3 2361.7 1631.4 2358.8 1632.8 2358.2 C1634.3 2357.7 1636.9 2359.8 1637.7 2360.1M1622 2371.5 C1622.7 2371.6 1625 2372.6 1626.4 2371.9 C1627.7 2371.2 1628.5 2368.9 1629.9 2367.4 C1631.2 2366 1632.9 2363.6 1634.2 2363 C1635.5 2362.5 1637.2 2363.9 1637.7 2364.1M1609.5 2388.7 C1610.3 2388.8 1612.8 2390.4 1614.1 2389.7 C1615.5 2389.1 1616.5 2386.4 1617.8 2384.7 C1619 2383.1 1620 2380.3 1621.4 2379.8 C1622.8 2379.2 1625.2 2381.2 1626 2381.5M1611.2 2392.6 C1611.8 2392.6 1614 2393.6 1615.3 2392.9 C1616.5 2392.3 1617.3 2390.1 1618.6 2388.7 C1619.8 2387.2 1621.5 2384.9 1622.7 2384.4 C1623.9 2383.9 1625.4 2385.3 1626 2385.5M1597.1 2407.8 C1597.8 2407.9 1600.1 2409.4 1601.3 2408.8 C1602.6 2408.2 1603.6 2405.6 1604.7 2404 C1605.8 2402.4 1606.8 2399.8 1608 2399.3 C1609.3 2398.7 1611.6 2400.7 1612.3 2401M1598.6 2411.5 C1599.2 2411.6 1601.3 2412.5 1602.4 2411.9 C1603.5 2411.2 1604.3 2409.1 1605.4 2407.8 C1606.6 2406.4 1608.1 2404.2 1609.3 2403.7 C1610.4 2403.2 1611.8 2404.5 1612.3 2404.7M1583 2424.5 C1583.7 2424.6 1585.7 2426 1586.9 2425.4 C1588 2424.8 1588.9 2422.4 1589.9 2420.9 C1590.9 2419.4 1591.8 2416.9 1593 2416.4 C1594.1 2415.9 1596.2 2417.8 1596.8 2418M1584.4 2428 C1585 2428.1 1586.8 2428.9 1587.9 2428.3 C1588.9 2427.7 1589.6 2425.8 1590.6 2424.5 C1591.6 2423.2 1593 2421.1 1594.1 2420.6 C1595.1 2420.1 1596.3 2421.4 1596.8 2421.6M1567.6 2438.5 C1568.2 2438.6 1570 2439.9 1571 2439.4 C1572 2438.8 1572.7 2436.6 1573.6 2435.2 C1574.5 2433.8 1575.3 2431.4 1576.3 2431 C1577.3 2430.5 1579.1 2432.2 1579.7 2432.5M1568.8 2441.8 C1569.3 2441.8 1570.9 2442.6 1571.8 2442.1 C1572.7 2441.5 1573.3 2439.7 1574.2 2438.5 C1575.1 2437.3 1576.4 2435.3 1577.3 2434.9 C1578.2 2434.4 1579.3 2435.6 1579.7 2435.8M1550.9 2449.6 C1551.4 2449.7 1552.9 2450.9 1553.7 2450.4 C1554.6 2449.9 1555.2 2447.8 1556 2446.5 C1556.7 2445.2 1557.4 2443.1 1558.2 2442.7 C1559 2442.2 1560.6 2443.8 1561 2444M1551.9 2452.6 C1552.3 2452.7 1553.7 2453.4 1554.4 2452.9 C1555.2 2452.4 1555.7 2450.7 1556.5 2449.6 C1557.2 2448.5 1558.3 2446.7 1559 2446.3 C1559.8 2445.8 1560.7 2447 1561 2447.1"/>
<ellipse cx="1494.9" cy="2251.2" rx="116.5" ry="209" transform="rotate(2 1494.9 2251.2)" fill="#fff" stroke="none"/>
<ellipse class="h" cx="1494.9" cy="2251.2" rx="116.5" ry="209" transform="rotate(2 1494.9 2251.2)"/>
<ellipse class="l" cx="1494.4" cy="2251.2" rx="104" ry="185" transform="rotate(2 1494.4 2251.2)"/>
<ellipse class="l" cx="1494.4" cy="2251.2" rx="101.5" ry="180.7" transform="rotate(2 1494.4 2251.2)"/>
<path class="r" d="M1609.6 2255.2L1598.9 2254.8M1609.3 2262.6L1598.6 2261.4M1608.8 2270L1598.1 2268M1608.2 2277.3L1597.6 2274.6M1607.4 2284.7L1596.9 2281.2M1606.5 2291.9L1596 2287.7M1605.5 2299.2L1595.1 2294.1M1604.3 2306.3L1594 2300.5M1602.9 2313.4L1592.8 2306.9M1601.5 2320.4L1591.5 2313.2M1599.9 2327.4L1590 2319.4M1598.1 2334.2L1588.4 2325.5M1596.3 2340.9L1586.7 2331.5M1594.3 2347.5L1584.9 2337.4M1592.1 2354L1583 2343.2M1589.9 2360.4L1580.9 2348.9M1587.5 2366.6L1578.8 2354.5M1585 2372.7L1576.5 2359.9M1582.4 2378.6L1574.1 2365.2M1579.7 2384.3L1571.7 2370.3M1576.9 2389.9L1569.1 2375.3M1573.9 2395.3L1566.4 2380.1M1570.9 2400.6L1563.7 2384.8M1567.8 2405.6L1560.8 2389.3M1564.6 2410.4L1557.9 2393.6M1561.3 2415.1L1554.9 2397.8M1557.9 2419.5L1551.8 2401.7M1554.4 2423.7L1548.7 2405.5M1550.8 2427.7L1545.4 2409.1M1547.2 2431.5L1542.1 2412.4M1543.5 2435L1538.8 2415.6M1539.8 2438.3L1535.4 2418.6M1536 2441.4L1531.9 2421.3M1532.1 2444.2L1528.4 2423.8M1528.2 2446.8L1524.8 2426.1M1524.3 2449.1L1521.3 2428.2M1520.3 2451.2L1517.6 2430M1516.3 2453L1514 2431.7M1512.2 2454.5L1510.3 2433.1M1508.2 2455.8L1506.6 2434.2M1504.1 2456.9L1502.9 2435.2M1500 2457.7L1499.1 2435.9M1495.9 2458.2L1495.4 2436.3M1491.8 2458.4L1491.7 2436.5M1487.7 2458.4L1487.9 2436.5M1483.6 2458.1L1484.2 2436.3M1479.5 2457.6L1480.5 2435.8M1475.5 2456.8L1476.8 2435.1M1471.4 2455.7L1473.1 2434.1M1467.4 2454.4L1469.5 2432.9M1463.5 2452.8L1465.9 2431.5M1459.5 2451L1462.3 2429.9M1455.6 2448.9L1458.8 2428M1451.8 2446.5L1455.3 2425.9M1448 2444L1451.8 2423.6M1444.3 2441.1L1448.5 2421M1440.7 2438L1445.1 2418.3M1437.1 2434.7L1441.9 2415.3M1433.6 2431.1L1438.7 2412.1M1430.1 2427.4L1435.5 2408.7M1426.8 2423.4L1432.5 2405.1M1423.5 2419.1L1429.5 2401.3M1420.4 2414.7L1426.6 2397.4M1417.3 2410L1423.8 2393.2M1414.3 2405.2L1421.1 2388.9M1411.4 2400.1L1418.5 2384.3M1408.7 2394.9L1416 2379.7M1406 2389.5L1413.6 2374.8M1403.5 2383.9L1411.2 2369.8M1401 2378.1L1409 2364.6M1398.7 2372.2L1406.9 2359.3M1396.5 2366.1L1404.9 2353.9M1394.5 2359.9L1403 2348.3M1392.6 2353.5L1401.3 2342.6M1390.8 2347L1399.6 2336.8M1389.1 2340.4L1398.1 2330.9M1387.5 2333.6L1396.7 2324.9M1386.1 2326.8L1395.4 2318.7M1384.9 2319.9L1394.3 2312.5M1383.8 2312.8L1393.3 2306.2M1382.8 2305.7L1392.4 2299.9M1382 2298.6L1391.6 2293.5M1381.3 2291.3L1391 2287M1380.7 2284L1390.5 2280.5M1380.3 2276.7L1390.1 2273.9M1380.1 2269.4L1389.9 2267.4M1380 2262L1389.8 2260.8M1380 2254.6L1389.8 2254.1M1380.2 2247.2L1390 2247.5M1380.5 2239.8L1390.3 2240.9M1381 2232.4L1390.7 2234.3M1381.6 2225.1L1391.3 2227.7M1382.4 2217.7L1391.9 2221.2M1383.3 2210.5L1392.8 2214.7M1384.3 2203.2L1393.7 2208.2M1385.5 2196.1L1394.8 2201.8M1386.9 2189L1396 2195.5M1388.3 2182L1397.3 2189.2M1389.9 2175L1398.8 2183M1391.7 2168.2L1400.4 2176.9M1393.6 2161.5L1402.1 2170.9M1395.6 2154.9L1403.9 2164.9M1397.7 2148.4L1405.8 2159.1M1399.9 2142L1407.9 2153.5M1402.3 2135.8L1410 2147.9M1404.8 2129.7L1412.3 2142.5M1407.4 2123.8L1414.7 2137.2M1410.1 2118L1417.1 2132M1412.9 2112.5L1419.7 2127M1415.9 2107.1L1422.4 2122.2M1418.9 2101.8L1425.1 2117.5M1422 2096.8L1428 2113M1425.2 2092L1430.9 2108.7M1428.6 2087.3L1433.9 2104.6M1432 2082.9L1437 2100.6M1435.4 2078.7L1440.2 2096.8M1439 2074.7L1443.4 2093.3M1442.6 2070.9L1446.7 2089.9M1446.3 2067.4L1450 2086.7M1450 2064.1L1453.4 2083.8M1453.8 2061L1456.9 2081.1M1457.7 2058.2L1460.4 2078.5M1461.6 2055.6L1464 2076.2M1465.5 2053.3L1467.6 2074.2M1469.5 2051.2L1471.2 2072.3M1473.5 2049.4L1474.8 2070.7M1477.6 2047.9L1478.5 2069.3M1481.7 2046.6L1482.2 2068.1M1485.7 2045.5L1486 2067.2M1489.8 2044.7L1489.7 2066.5M1493.9 2044.2L1493.4 2066M1498 2044L1497.1 2065.8M1502.1 2044L1500.9 2065.8M1506.2 2044.2L1504.6 2066.1M1510.3 2044.8L1508.3 2066.6M1514.4 2045.6L1512 2067.3M1518.4 2046.6L1515.7 2068.2M1522.4 2048L1519.3 2069.4M1526.4 2049.6L1522.9 2070.8M1530.3 2051.4L1526.5 2072.5M1534.2 2053.5L1530 2074.4M1538 2055.8L1533.5 2076.5M1541.8 2058.4L1537 2078.8M1545.5 2061.3L1540.4 2081.3M1549.1 2064.4L1543.7 2084.1M1552.7 2067.7L1546.9 2087.1M1556.2 2071.2L1550.1 2090.2M1559.7 2075L1553.3 2093.6M1563 2079L1556.3 2097.2M1566.3 2083.3L1559.3 2101M1569.5 2087.7L1562.2 2105M1572.5 2092.4L1565 2109.1M1575.5 2097.2L1567.7 2113.5M1578.4 2102.3L1570.3 2118M1581.1 2107.5L1572.8 2122.7M1583.8 2112.9L1575.3 2127.5M1586.3 2118.5L1577.6 2132.6M1588.8 2124.3L1579.8 2137.7M1591.1 2130.2L1581.9 2143M1593.3 2136.3L1583.9 2148.5M1595.3 2142.5L1585.8 2154M1597.3 2148.9L1587.5 2159.7M1599.1 2155.4L1589.2 2165.5M1600.7 2162L1590.7 2171.5M1602.3 2168.8L1592.1 2177.5M1603.7 2175.6L1593.4 2183.6M1604.9 2182.5L1594.5 2189.8M1606 2189.6L1595.6 2196.1M1607 2196.7L1596.4 2202.5M1607.9 2203.8L1597.2 2208.9M1608.5 2211.1L1597.8 2215.3M1609.1 2218.3L1598.3 2221.9M1609.5 2225.7L1598.7 2228.4M1609.7 2233L1598.9 2235M1609.9 2240.4L1599.1 2241.6M1609.8 2247.8L1599 2248.2"/>
<ellipse class="h" cx="1490.4" cy="2253.7" rx="68.2" ry="119.5" transform="rotate(1 1490.4 2253.7)"/>
<ellipse class="l" cx="1490.9" cy="2253.7" rx="63.2" ry="113.3" transform="rotate(1 1490.9 2253.7)"/>
<path class="l" d="M1493.8 2156.7 C1495.2 2156.1 1499.4 2153.6 1502.1 2153.5 C1504.8 2153.4 1507.7 2154.3 1510.3 2156.2 C1512.9 2158.1 1515.5 2161 1517.9 2164.7 C1520.3 2168.4 1522.6 2173.1 1524.5 2178.4 C1526.5 2183.7 1528.3 2190 1529.7 2196.6 C1531.2 2203.2 1532.4 2210.6 1533.2 2218.1 C1534 2225.7 1534.6 2233.8 1534.7 2241.7 C1534.9 2249.7 1534.7 2258 1534.2 2266 C1533.7 2273.9 1532.9 2281.9 1531.8 2289.4 C1530.6 2296.8 1529.1 2304.1 1527.4 2310.6 C1525.7 2317.1 1523.7 2323.2 1521.5 2328.3 C1519.3 2333.5 1516.9 2338 1514.3 2341.5 C1511.8 2345 1509.1 2347.7 1506.4 2349.3 C1503.7 2351 1500.8 2351.7 1498.1 2351.4 C1495.4 2351 1492.6 2349.7 1490 2347.5 C1487.4 2345.2 1483.8 2339.5 1482.5 2337.9"/>
<path class="t" d="M1495.3 2160.6 C1496.5 2160.4 1500 2159 1502.2 2159.4 C1504.5 2159.9 1506.9 2161.2 1509 2163.2 C1511.2 2165.3 1513.3 2168.2 1515.3 2171.8 C1517.2 2175.3 1519 2179.7 1520.6 2184.6 C1522.2 2189.5 1523.7 2195.1 1524.8 2201.1 C1526 2207 1527 2213.6 1527.7 2220.3 C1528.3 2227 1528.8 2234.1 1529 2241.2 C1529.1 2248.3 1529 2255.6 1528.7 2262.7 C1528.3 2269.8 1527.6 2277 1526.8 2283.7 C1525.9 2290.4 1524.7 2297 1523.4 2303 C1522.1 2309 1520.5 2314.6 1518.7 2319.6 C1517 2324.5 1515 2329 1513 2332.6 C1511 2336.3 1508.8 2339.3 1506.5 2341.4 C1504.3 2343.5 1502 2344.9 1499.7 2345.4 C1497.4 2345.9 1495 2345.6 1492.7 2344.5 C1490.5 2343.4 1487.2 2339.7 1486.1 2338.7"/>
<path class="l" d="M1488.9 2206.1 C1492.7 2205.9 1505.2 2202.7 1511.5 2204.8 C1517.7 2206.9 1523.1 2212.1 1526.5 2218.6 C1529.8 2225.1 1531.1 2233.2 1531.5 2243.7 C1531.9 2254.1 1531.9 2272.1 1529 2281.3 C1526.1 2290.5 1519.8 2295.5 1514 2298.8 C1508.1 2302.2 1497.2 2300.9 1493.9 2301.3"/>
<ellipse class="h" cx="1491.4" cy="2253.7" rx="27.1" ry="47.6"/>
<ellipse class="l" cx="1491.4" cy="2253.7" rx="23.8" ry="42.6"/>
<ellipse class="l" cx="1491.4" cy="2253.7" rx="17.5" ry="31.3"/>
<ellipse class="l" cx="1491.4" cy="2253.7" rx="13.8" ry="25.1"/>
<ellipse class="l" cx="1491.4" cy="2253.7" rx="8.8" ry="15"/>
<ellipse class="l" cx="1491.4" cy="2253.7" rx="3.8" ry="7"/>
<path class="l" d="M1662.3 2188.5 C1665.7 2191 1676.9 2194.8 1682.4 2203.6 C1687.8 2212.3 1693.2 2226.5 1694.9 2241.2 C1696.6 2255.8 1695.3 2279.6 1692.4 2291.3 C1689.5 2303 1681.5 2308 1677.4 2311.3 C1673.2 2314.7 1669 2311.3 1667.3 2311.3"/>
<path class="t" d="M1664.3 2196.1 C1666.6 2198.6 1674.1 2203.2 1678.1 2211.1 C1682.1 2219 1686.9 2230.7 1688.1 2243.7 C1689.4 2256.6 1688.1 2278.6 1685.6 2288.8 C1683.1 2299 1675.2 2302.4 1673.1 2305.1"/>
</g>
<!-- z_labels.svg -->
<g id="z_labels">
<text x="436" y="68" textLength="88" lengthAdjust="spacing">2-2</text>
<path class="l" d="M435 72 H519"/>
<path class="l" d="M519 72 L612 149"/>
<text x="761" y="49" textLength="105" lengthAdjust="spacing">3-31</text>
<path class="l" d="M774 54.5 H877"/>
<path class="l" d="M774 54.5 L710 160"/>
<text x="1130" y="101" textLength="88" lengthAdjust="spacing">3-3</text>
<path class="l" d="M1135 108 H1219"/>
<path class="l" d="M1135 108 L1017 255"/>
<text x="1197" y="190">3</text>
<path class="l" d="M1184 194.6 H1234"/>
<path class="l" d="M1184 194.6 L1067 342"/>
<text x="1266" y="497">2</text>
<path class="l" d="M1249 503 H1312"/>
<path class="l" d="M1249 503 L1068.6 621"/>
<text x="1375" y="503" textLength="85" lengthAdjust="spacing">3-7</text>
<path class="l" d="M1368.6 509.4 H1461.6"/>
<path class="l" d="M1368.6 509.4 L1011 729"/>
<text x="1549.5" y="813">8</text>
<path class="l" d="M1535 819 H1586"/>
<path class="l" d="M1535 819 L1326 898"/>
<text x="1551" y="963">9</text>
<path class="l" d="M1538.6 969 H1587"/>
<path class="l" d="M1538.6 969 L1126 1140"/>
<text x="28" y="561" textLength="90" lengthAdjust="spacing">2-3</text>
<path class="l" d="M15 567 H123"/>
<path class="l" d="M123 567 L287 411"/>
<text x="27" y="1240">4</text>
<path class="l" d="M15.5 1245.4 H64.7"/>
<path class="l" d="M64.7 1245.4 L260 1089"/>
<text x="218" y="1507">5</text>
<path class="l" d="M206 1511.4 H255"/>
<path class="l" d="M255 1511.4 L597 1636"/>
<text x="69" y="1659">1</text>
<path class="l" d="M59.4 1664.8 H108"/>
<path class="l" d="M108 1664.8 L783 1971"/>
<text x="164" y="2306">7</text>
<path class="l" d="M152.6 2311.4 H200"/>
<path class="l" d="M200 2311.4 L356.6 2184"/>
<text x="396.7" y="2450.8" textLength="77" lengthAdjust="spacing">7-1</text>
<path class="l" d="M395.7 2454.8 H477"/>
<path class="l" d="M477 2454.8 L677.8 2041.7"/>
<text x="622" y="2450.8">6</text>
<path class="l" d="M610.3 2454.8 H660.4"/>
<path class="l" d="M660.4 2454.8 L933.4 2185"/>
</g>
</svg>
</body></html>
